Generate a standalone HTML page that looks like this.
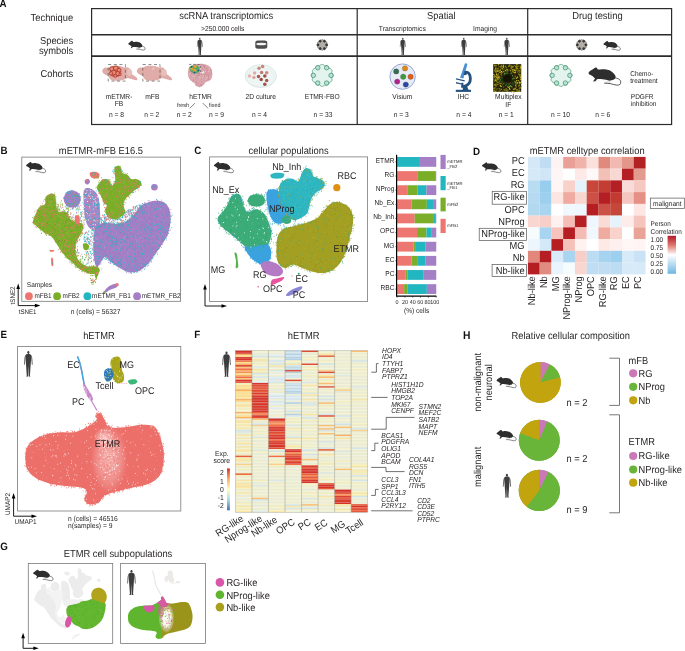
<!DOCTYPE html><html><head><meta charset="utf-8"><style>html,body{margin:0;padding:0;background:#fff;}svg{display:block;will-change:transform;text-rendering:geometricPrecision;font-family:"Liberation Sans", sans-serif;}</style></head><body><svg width="685" height="651" viewBox="0 0 685 651"><text transform="translate(-0.60,6.80) scale(1,1.08)" font-size="9.8" font-weight="bold" fill="#111">A</text>
<text transform="translate(73.20,20.80) scale(1,1.08)" font-size="9.35" text-anchor="end" fill="#231f20">Technique</text>
<text transform="translate(73.20,43.80) scale(1,1.08)" font-size="9.35" text-anchor="end" fill="#231f20">Species</text>
<text transform="translate(73.20,54.00) scale(1,1.08)" font-size="9.35" text-anchor="end" fill="#231f20">symbols</text>
<text transform="translate(73.20,76.80) scale(1,1.08)" font-size="9.35" text-anchor="end" fill="#231f20">Cohorts</text>
<g fill="none" stroke="#2b2b2b">
<rect x="91.6" y="8.6" width="580" height="115.9" stroke-width="1.2"/>
<line x1="91.6" y1="34.8" x2="671.6" y2="34.8" stroke-width="1.6"/>
<line x1="91.6" y1="56.1" x2="671.6" y2="56.1" stroke-width="1.6"/>
<line x1="357.2" y1="8.6" x2="357.2" y2="124.5" stroke-width="1.2"/>
<line x1="527.7" y1="8.6" x2="527.7" y2="124.5" stroke-width="1.2"/>
</g>
<text transform="translate(226.20,19.00) scale(1,1.08)" font-size="9.35" text-anchor="middle" fill="#231f20">scRNA transcriptomics</text>
<text transform="translate(222.70,31.00) scale(1,1.08)" font-size="6.7" text-anchor="middle" fill="#231f20">&gt;250.000 cells</text>
<text transform="translate(441.30,19.00) scale(1,1.08)" font-size="9.35" text-anchor="middle" fill="#231f20">Spatial</text>
<text transform="translate(402.30,31.00) scale(1,1.08)" font-size="6.7" text-anchor="middle" fill="#231f20">Transcriptomics</text>
<text transform="translate(485.00,31.00) scale(1,1.08)" font-size="6.7" text-anchor="middle" fill="#231f20">Imaging</text>
<text transform="translate(597.40,19.00) scale(1,1.08)" font-size="9.35" text-anchor="middle" fill="#231f20">Drug testing</text>
<g transform="translate(128.00,40.80) scale(0.8750,0.9625)"><path d="M16.34,5.65 C17.3,5.9 18.2,6.2 18.6,6.48 C19.2,6.9 19.6,7.3 19.54,7.81 C19.6,8.5 19.4,9.0 19.06,9.27 C18.5,9.6 17.8,9.7 17.03,9.62 C15.7,9.5 14.5,9.0 13.2,8.79 C12,8.6 10.8,8.6 9.71,8.58" fill="none" stroke="#2e2e2e" stroke-width="0.63"/><path d="M9.8,8.2 C10.8,8.0 12,7.9 13.6,7.95" fill="none" stroke="#aaa" stroke-width="0.57"/><path d="M0.3,2.93 C0.8,2.2 1.2,1.9 1.7,1.71 C2.6,1.2 3.4,0.6 3.96,0.31 C4.4,0.05 4.8,0.0 5.01,0.07 C5.4,0.3 5.6,0.7 5.7,1.01 C6.2,1.2 6.7,1.2 7.27,1.19 C8.2,1.0 9.1,1.0 10.06,1.01 C11.1,1.1 12,1.3 12.85,1.53 C13.7,1.9 14.4,2.4 14.94,2.93 C15.5,3.4 15.9,3.9 16.16,4.32 C16.4,4.7 16.55,5 16.51,5.3 C16.4,5.8 16.1,6.3 15.64,6.48 C15.1,6.8 14.6,6.9 14.07,7.04 L12.85,7.18 C11.5,7.0 10,6.6 8.67,6.48 C7.8,6.4 6.8,6.35 6.05,6.35 L5.36,6.48 L4.48,7.53 L3.09,7.67 L3.44,7.04 L4.21,6.07 C3.5,5.4 3,4.8 2.39,4.5 C1.8,4.2 1.2,4.0 0.82,3.8 C0.5,3.6 0.2,3.2 0.3,2.93Z" fill="#2e2e2e"/></g>
<g transform="translate(196.60,37.90) scale(1.0625)"><path d="M1.3,2.4 C0.7,3 0.5,4 0.4,5.5 L0.2,8.6 L0.8,8.6 L1.1,5.5Z M4.7,2.4 C5.3,3 5.5,4 5.6,5.5 L5.8,8.6 L5.2,8.6 L4.9,5.5Z" fill="#6e6e6e"/><ellipse cx="3" cy="0.85" rx="0.68" ry="0.9" fill="#3d3d3d"/><path d="M2.4,1.7 L3.6,1.7 C4.5,1.9 4.9,2.3 4.9,3.2 L4.6,6.8 L4.3,11 L4.0,15.3 L4.4,16 L3.2,16 L3.1,11.5 L3.0,9 L2.9,11.5 L2.8,16 L1.6,16 L2.0,15.3 L1.7,11 L1.4,6.8 L1.1,3.2 C1.1,2.3 1.5,1.9 2.4,1.7Z" fill="#3d3d3d"/></g>
<rect x="255.30" y="40.50" width="12.00" height="8.2" rx="2.70" ry="2.2" fill="#4d4d4d"/>
<ellipse cx="261.3" cy="44.00" rx="5.10" ry="1.35" fill="#f4f4f4"/>
<path d="M327.60,44.90 L327.57,45.18 L327.47,45.44 L327.32,45.69 L327.13,45.93 L326.91,46.13 L326.99,46.42 L327.04,46.72 L327.05,47.01 L327.00,47.29 L326.89,47.55 L326.72,47.77 L326.51,47.96 L326.25,48.10 L325.97,48.20 L325.67,48.27 L325.60,48.57 L325.50,48.85 L325.36,49.11 L325.17,49.32 L324.95,49.49 L324.69,49.60 L324.41,49.65 L324.12,49.64 L323.82,49.59 L323.53,49.51 L323.33,49.73 L323.09,49.92 L322.84,50.07 L322.58,50.17 L322.30,50.20 L322.02,50.17 L321.76,50.07 L321.51,49.92 L321.27,49.73 L321.07,49.51 L320.78,49.59 L320.48,49.64 L320.19,49.65 L319.91,49.60 L319.65,49.49 L319.43,49.32 L319.24,49.11 L319.10,48.85 L319.00,48.57 L318.93,48.27 L318.63,48.20 L318.35,48.10 L318.09,47.96 L317.88,47.77 L317.71,47.55 L317.60,47.29 L317.55,47.01 L317.56,46.72 L317.61,46.42 L317.69,46.13 L317.47,45.93 L317.28,45.69 L317.13,45.44 L317.03,45.18 L317.00,44.90 L317.03,44.62 L317.13,44.36 L317.28,44.11 L317.47,43.87 L317.69,43.67 L317.61,43.38 L317.56,43.08 L317.55,42.79 L317.60,42.51 L317.71,42.25 L317.88,42.03 L318.09,41.84 L318.35,41.70 L318.63,41.60 L318.93,41.53 L319.00,41.23 L319.10,40.95 L319.24,40.69 L319.43,40.48 L319.65,40.31 L319.91,40.20 L320.19,40.15 L320.48,40.16 L320.78,40.21 L321.07,40.29 L321.27,40.07 L321.51,39.88 L321.76,39.73 L322.02,39.63 L322.30,39.60 L322.58,39.63 L322.84,39.73 L323.09,39.88 L323.33,40.07 L323.53,40.29 L323.82,40.21 L324.12,40.16 L324.41,40.15 L324.69,40.20 L324.95,40.31 L325.17,40.48 L325.36,40.69 L325.50,40.95 L325.60,41.23 L325.67,41.53 L325.97,41.60 L326.25,41.70 L326.51,41.84 L326.72,42.03 L326.89,42.25 L327.00,42.51 L327.05,42.79 L327.04,43.08 L326.99,43.38 L326.91,43.67 L327.13,43.87 L327.32,44.11 L327.47,44.36 L327.57,44.62Z" fill="#b3aea6" stroke="#555" stroke-width="0.6"/>
<circle cx="326.54" cy="44.90" r="1.06" fill="#3a3a3a" stroke="#2a2a2a" stroke-width="0.54"/>
<circle cx="324.42" cy="48.57" r="1.06" fill="#3a3a3a" stroke="#2a2a2a" stroke-width="0.54"/>
<circle cx="320.18" cy="48.57" r="1.06" fill="#3a3a3a" stroke="#2a2a2a" stroke-width="0.54"/>
<circle cx="318.06" cy="44.90" r="1.06" fill="#3a3a3a" stroke="#2a2a2a" stroke-width="0.54"/>
<circle cx="320.18" cy="41.23" r="1.06" fill="#3a3a3a" stroke="#2a2a2a" stroke-width="0.54"/>
<circle cx="324.42" cy="41.23" r="1.06" fill="#3a3a3a" stroke="#2a2a2a" stroke-width="0.54"/>
<g transform="translate(399.60,37.90) scale(1.0625)"><path d="M1.3,2.4 C0.7,3 0.5,4 0.4,5.5 L0.2,8.6 L0.8,8.6 L1.1,5.5Z M4.7,2.4 C5.3,3 5.5,4 5.6,5.5 L5.8,8.6 L5.2,8.6 L4.9,5.5Z" fill="#6e6e6e"/><ellipse cx="3" cy="0.85" rx="0.68" ry="0.9" fill="#3d3d3d"/><path d="M2.4,1.7 L3.6,1.7 C4.5,1.9 4.9,2.3 4.9,3.2 L4.6,6.8 L4.3,11 L4.0,15.3 L4.4,16 L3.2,16 L3.1,11.5 L3.0,9 L2.9,11.5 L2.8,16 L1.6,16 L2.0,15.3 L1.7,11 L1.4,6.8 L1.1,3.2 C1.1,2.3 1.5,1.9 2.4,1.7Z" fill="#3d3d3d"/></g>
<g transform="translate(460.60,37.90) scale(1.0625)"><path d="M1.3,2.4 C0.7,3 0.5,4 0.4,5.5 L0.2,8.6 L0.8,8.6 L1.1,5.5Z M4.7,2.4 C5.3,3 5.5,4 5.6,5.5 L5.8,8.6 L5.2,8.6 L4.9,5.5Z" fill="#6e6e6e"/><ellipse cx="3" cy="0.85" rx="0.68" ry="0.9" fill="#3d3d3d"/><path d="M2.4,1.7 L3.6,1.7 C4.5,1.9 4.9,2.3 4.9,3.2 L4.6,6.8 L4.3,11 L4.0,15.3 L4.4,16 L3.2,16 L3.1,11.5 L3.0,9 L2.9,11.5 L2.8,16 L1.6,16 L2.0,15.3 L1.7,11 L1.4,6.8 L1.1,3.2 C1.1,2.3 1.5,1.9 2.4,1.7Z" fill="#3d3d3d"/></g>
<g transform="translate(503.60,37.90) scale(1.0625)"><path d="M1.3,2.4 C0.7,3 0.5,4 0.4,5.5 L0.2,8.6 L0.8,8.6 L1.1,5.5Z M4.7,2.4 C5.3,3 5.5,4 5.6,5.5 L5.8,8.6 L5.2,8.6 L4.9,5.5Z" fill="#6e6e6e"/><ellipse cx="3" cy="0.85" rx="0.68" ry="0.9" fill="#3d3d3d"/><path d="M2.4,1.7 L3.6,1.7 C4.5,1.9 4.9,2.3 4.9,3.2 L4.6,6.8 L4.3,11 L4.0,15.3 L4.4,16 L3.2,16 L3.1,11.5 L3.0,9 L2.9,11.5 L2.8,16 L1.6,16 L2.0,15.3 L1.7,11 L1.4,6.8 L1.1,3.2 C1.1,2.3 1.5,1.9 2.4,1.7Z" fill="#3d3d3d"/></g>
<path d="M586.90,44.90 L586.87,45.18 L586.77,45.44 L586.62,45.69 L586.43,45.93 L586.21,46.13 L586.29,46.42 L586.34,46.72 L586.35,47.01 L586.30,47.29 L586.19,47.55 L586.02,47.77 L585.81,47.96 L585.55,48.10 L585.27,48.20 L584.97,48.27 L584.90,48.57 L584.80,48.85 L584.66,49.11 L584.47,49.32 L584.25,49.49 L583.99,49.60 L583.71,49.65 L583.42,49.64 L583.12,49.59 L582.83,49.51 L582.63,49.73 L582.39,49.92 L582.14,50.07 L581.88,50.17 L581.60,50.20 L581.32,50.17 L581.06,50.07 L580.81,49.92 L580.57,49.73 L580.37,49.51 L580.08,49.59 L579.78,49.64 L579.49,49.65 L579.21,49.60 L578.95,49.49 L578.73,49.32 L578.54,49.11 L578.40,48.85 L578.30,48.57 L578.23,48.27 L577.93,48.20 L577.65,48.10 L577.39,47.96 L577.18,47.77 L577.01,47.55 L576.90,47.29 L576.85,47.01 L576.86,46.72 L576.91,46.42 L576.99,46.13 L576.77,45.93 L576.58,45.69 L576.43,45.44 L576.33,45.18 L576.30,44.90 L576.33,44.62 L576.43,44.36 L576.58,44.11 L576.77,43.87 L576.99,43.67 L576.91,43.38 L576.86,43.08 L576.85,42.79 L576.90,42.51 L577.01,42.25 L577.18,42.03 L577.39,41.84 L577.65,41.70 L577.93,41.60 L578.23,41.53 L578.30,41.23 L578.40,40.95 L578.54,40.69 L578.73,40.48 L578.95,40.31 L579.21,40.20 L579.49,40.15 L579.78,40.16 L580.08,40.21 L580.37,40.29 L580.57,40.07 L580.81,39.88 L581.06,39.73 L581.32,39.63 L581.60,39.60 L581.88,39.63 L582.14,39.73 L582.39,39.88 L582.63,40.07 L582.83,40.29 L583.12,40.21 L583.42,40.16 L583.71,40.15 L583.99,40.20 L584.25,40.31 L584.47,40.48 L584.66,40.69 L584.80,40.95 L584.90,41.23 L584.97,41.53 L585.27,41.60 L585.55,41.70 L585.81,41.84 L586.02,42.03 L586.19,42.25 L586.30,42.51 L586.35,42.79 L586.34,43.08 L586.29,43.38 L586.21,43.67 L586.43,43.87 L586.62,44.11 L586.77,44.36 L586.87,44.62Z" fill="#b3aea6" stroke="#555" stroke-width="0.6"/>
<circle cx="585.84" cy="44.90" r="1.06" fill="#3a3a3a" stroke="#2a2a2a" stroke-width="0.54"/>
<circle cx="583.72" cy="48.57" r="1.06" fill="#3a3a3a" stroke="#2a2a2a" stroke-width="0.54"/>
<circle cx="579.48" cy="48.57" r="1.06" fill="#3a3a3a" stroke="#2a2a2a" stroke-width="0.54"/>
<circle cx="577.36" cy="44.90" r="1.06" fill="#3a3a3a" stroke="#2a2a2a" stroke-width="0.54"/>
<circle cx="579.48" cy="41.23" r="1.06" fill="#3a3a3a" stroke="#2a2a2a" stroke-width="0.54"/>
<circle cx="583.72" cy="41.23" r="1.06" fill="#3a3a3a" stroke="#2a2a2a" stroke-width="0.54"/>
<g transform="translate(603.20,41.00) scale(0.8750,0.9625)"><path d="M16.34,5.65 C17.3,5.9 18.2,6.2 18.6,6.48 C19.2,6.9 19.6,7.3 19.54,7.81 C19.6,8.5 19.4,9.0 19.06,9.27 C18.5,9.6 17.8,9.7 17.03,9.62 C15.7,9.5 14.5,9.0 13.2,8.79 C12,8.6 10.8,8.6 9.71,8.58" fill="none" stroke="#2e2e2e" stroke-width="0.63"/><path d="M9.8,8.2 C10.8,8.0 12,7.9 13.6,7.95" fill="none" stroke="#aaa" stroke-width="0.57"/><path d="M0.3,2.93 C0.8,2.2 1.2,1.9 1.7,1.71 C2.6,1.2 3.4,0.6 3.96,0.31 C4.4,0.05 4.8,0.0 5.01,0.07 C5.4,0.3 5.6,0.7 5.7,1.01 C6.2,1.2 6.7,1.2 7.27,1.19 C8.2,1.0 9.1,1.0 10.06,1.01 C11.1,1.1 12,1.3 12.85,1.53 C13.7,1.9 14.4,2.4 14.94,2.93 C15.5,3.4 15.9,3.9 16.16,4.32 C16.4,4.7 16.55,5 16.51,5.3 C16.4,5.8 16.1,6.3 15.64,6.48 C15.1,6.8 14.6,6.9 14.07,7.04 L12.85,7.18 C11.5,7.0 10,6.6 8.67,6.48 C7.8,6.4 6.8,6.35 6.05,6.35 L5.36,6.48 L4.48,7.53 L3.09,7.67 L3.44,7.04 L4.21,6.07 C3.5,5.4 3,4.8 2.39,4.5 C1.8,4.2 1.2,4.0 0.82,3.8 C0.5,3.6 0.2,3.2 0.3,2.93Z" fill="#2e2e2e"/></g>
<path d="M102.30,71.00 C102.30,70.17 102.88,69.08 103.50,68.50 C104.12,67.92 105.17,67.62 106.00,67.50 C106.83,67.38 107.67,68.02 108.50,67.80 C109.33,67.58 109.92,66.53 111.00,66.20 C112.08,65.87 113.67,65.83 115.00,65.80 C116.33,65.77 117.75,65.83 119.00,66.00 C120.25,66.17 121.58,66.55 122.50,66.80 C123.42,67.05 124.00,67.43 124.50,67.50 C125.00,67.57 124.92,67.20 125.50,67.20 C126.08,67.20 127.25,67.20 128.00,67.50 C128.75,67.80 129.42,68.33 130.00,69.00 C130.58,69.67 131.17,70.67 131.50,71.50 C131.83,72.33 131.58,73.33 132.00,74.00 C132.42,74.67 133.25,74.92 134.00,75.50 C134.75,76.08 135.92,76.83 136.50,77.50 C137.08,78.17 137.58,79.05 137.50,79.50 C137.42,79.95 136.75,80.20 136.00,80.20 C135.25,80.20 134.08,79.78 133.00,79.50 C131.92,79.22 130.67,78.67 129.50,78.50 C128.33,78.33 127.08,78.25 126.00,78.50 C124.92,78.75 124.33,79.62 123.00,80.00 C121.67,80.38 119.67,80.72 118.00,80.80 C116.33,80.88 114.33,80.80 113.00,80.50 C111.67,80.20 110.83,79.75 110.00,79.00 C109.17,78.25 108.67,76.67 108.00,76.00 C107.33,75.33 106.75,75.42 106.00,75.00 C105.25,74.58 104.12,74.17 103.50,73.50 C102.88,72.83 102.30,71.83 102.30,71.00Z" fill="#e0aca8"/>
<ellipse cx="129.5" cy="72.5" rx="2.6" ry="3.6" fill="#e8bfbb"/>
<path d="M109.80,68.50 C110.13,67.13 111.13,66.90 112.20,66.50 C113.27,66.10 114.93,65.93 116.20,66.10 C117.47,66.27 118.97,66.68 119.80,67.50 C120.63,68.32 121.07,69.75 121.20,71.00 C121.33,72.25 121.27,73.98 120.60,75.00 C119.93,76.02 118.43,76.78 117.20,77.10 C115.97,77.42 114.37,77.30 113.20,76.90 C112.03,76.50 110.77,76.10 110.20,74.70 C109.63,73.30 109.47,69.87 109.80,68.50Z" fill="#cf6656"/>
<circle cx="111.8" cy="68.9" r="2.1" fill="#ea8a77" stroke="#a8352a" stroke-width="0.75"/>
<circle cx="115.8" cy="68.1" r="2.2" fill="#ea8a77" stroke="#a8352a" stroke-width="0.75"/>
<circle cx="119.1" cy="70.2" r="1.9" fill="#ea8a77" stroke="#a8352a" stroke-width="0.75"/>
<circle cx="113.8" cy="72.6" r="2.3" fill="#ea8a77" stroke="#a8352a" stroke-width="0.75"/>
<circle cx="117.8" cy="73.6" r="2.1" fill="#ea8a77" stroke="#a8352a" stroke-width="0.75"/>
<circle cx="111.10000000000001" cy="73.4" r="1.7" fill="#ea8a77" stroke="#a8352a" stroke-width="0.75"/>
<circle cx="115.3" cy="75.8" r="1.5" fill="#ea8a77" stroke="#a8352a" stroke-width="0.75"/>
<circle cx="120.0" cy="74.3" r="1.3" fill="#ea8a77" stroke="#a8352a" stroke-width="0.75"/>
<rect x="108.2" y="64.5" width="17.2" height="16.6" fill="none" stroke="#444" stroke-width="0.6" stroke-dasharray="3,2.6"/>
<path d="M136.90,71.00 C136.90,70.17 137.48,69.08 138.10,68.50 C138.72,67.92 139.77,67.62 140.60,67.50 C141.43,67.38 142.27,68.02 143.10,67.80 C143.93,67.58 144.52,66.53 145.60,66.20 C146.68,65.87 148.27,65.83 149.60,65.80 C150.93,65.77 152.35,65.83 153.60,66.00 C154.85,66.17 156.18,66.55 157.10,66.80 C158.02,67.05 158.60,67.43 159.10,67.50 C159.60,67.57 159.52,67.20 160.10,67.20 C160.68,67.20 161.85,67.20 162.60,67.50 C163.35,67.80 164.02,68.33 164.60,69.00 C165.18,69.67 165.77,70.67 166.10,71.50 C166.43,72.33 166.18,73.33 166.60,74.00 C167.02,74.67 167.85,74.92 168.60,75.50 C169.35,76.08 170.52,76.83 171.10,77.50 C171.68,78.17 172.18,79.05 172.10,79.50 C172.02,79.95 171.35,80.20 170.60,80.20 C169.85,80.20 168.68,79.78 167.60,79.50 C166.52,79.22 165.27,78.67 164.10,78.50 C162.93,78.33 161.68,78.25 160.60,78.50 C159.52,78.75 158.93,79.62 157.60,80.00 C156.27,80.38 154.27,80.72 152.60,80.80 C150.93,80.88 148.93,80.80 147.60,80.50 C146.27,80.20 145.43,79.75 144.60,79.00 C143.77,78.25 143.27,76.67 142.60,76.00 C141.93,75.33 141.35,75.42 140.60,75.00 C139.85,74.58 138.72,74.17 138.10,73.50 C137.48,72.83 136.90,71.83 136.90,71.00Z" fill="#e0aca8"/>
<ellipse cx="164.10000000000002" cy="72.5" rx="2.6" ry="3.6" fill="#e8bfbb"/>
<path d="M151.8,69.5 l2.5,-1.2" stroke="#f6e2e0" stroke-width="0.8"/>
<rect x="142.8" y="64.5" width="17.2" height="16.6" fill="none" stroke="#444" stroke-width="0.6" stroke-dasharray="3,2.6"/>
<path d="M200.00,64.00 C201.83,63.97 203.50,63.97 205.00,64.30 C206.50,64.63 207.92,65.13 209.00,66.00 C210.08,66.87 210.95,68.17 211.50,69.50 C212.05,70.83 212.30,72.50 212.30,74.00 C212.30,75.50 212.05,77.33 211.50,78.50 C210.95,79.67 209.92,80.45 209.00,81.00 C208.08,81.55 206.83,81.22 206.00,81.80 C205.17,82.38 205.00,83.63 204.00,84.50 C203.00,85.37 201.25,86.75 200.00,87.00 C198.75,87.25 197.33,86.50 196.50,86.00 C195.67,85.50 195.67,84.73 195.00,84.00 C194.33,83.27 193.42,82.43 192.50,81.60 C191.58,80.77 190.25,80.10 189.50,79.00 C188.75,77.90 188.22,76.50 188.00,75.00 C187.78,73.50 187.87,71.42 188.20,70.00 C188.53,68.58 189.03,67.42 190.00,66.50 C190.97,65.58 192.33,64.92 194.00,64.50 C195.67,64.08 198.17,64.03 200.00,64.00Z" fill="#d9a3aa"/>
<path d="M199.3 72.6h0M211.3 73.7h0M210.5 68.7h0M206.7 68.5h0M196.1 84.5h0M202.0 76.4h0M189.3 76.8h0M191.0 80.2h0M207.8 75.4h0M201.9 65.5h0M207.8 70.0h0M211.7 72.2h0M189.6 69.2h0M204.6 64.7h0M198.0 65.6h0M199.4 74.3h0M204.4 74.4h0M206.2 74.8h0M197.1 78.6h0M190.3 71.3h0M195.8 64.6h0M205.4 79.2h0M203.9 73.1h0M201.9 82.4h0M199.7 86.9h0M204.4 66.2h0M196.3 81.2h0M210.1 69.0h0M209.7 74.1h0M209.8 70.0h0M208.9 77.4h0M204.1 71.8h0M192.2 67.3h0M191.4 73.6h0M195.6 83.6h0M208.1 79.6h0M198.0 85.9h0M190.9 77.3h0M189.8 75.0h0M193.5 80.3h0M191.3 71.7h0M201.8 85.8h0M207.5 70.1h0M209.1 79.7h0M201.3 74.0h0" stroke="#c98f98" stroke-width="0.9" stroke-linecap="round"/>
<path d="M192.6 79.6h0M192.0 75.6h0M209.3 66.5h0M194.6 82.7h0M200.5 86.0h0M191.4 70.7h0M202.4 82.5h0M190.0 76.6h0M209.5 77.2h0M208.4 66.4h0M204.7 64.4h0M189.4 69.8h0M198.2 71.4h0M198.5 65.8h0M204.4 72.9h0M198.3 69.2h0M195.7 66.1h0M200.5 72.2h0M196.1 81.2h0M206.2 65.2h0M192.6 76.2h0M199.4 80.0h0M200.6 75.5h0M194.2 78.1h0M192.4 78.6h0M197.1 78.7h0M190.2 68.8h0M208.6 80.3h0M196.9 79.2h0M195.7 74.5h0M206.3 66.4h0M198.1 72.4h0M198.8 66.3h0M195.0 80.8h0M208.1 65.9h0M202.2 64.3h0M198.7 77.4h0M192.3 80.0h0M195.5 69.4h0M191.9 78.5h0M197.7 84.8h0M203.3 69.9h0M200.8 83.5h0M195.3 83.7h0" stroke="#e6bcc0" stroke-width="0.9" stroke-linecap="round"/>
<path d="M200.3 84.7h0M196.2 85.5h0M193.8 66.6h0M207.0 72.8h0M205.8 73.7h0M197.7 71.9h0M197.3 75.3h0M193.8 80.9h0M201.2 64.4h0M198.3 73.2h0M205.2 67.3h0M206.3 80.9h0M208.7 76.0h0M199.1 73.2h0M197.3 78.0h0M203.4 66.4h0M193.1 72.9h0M199.8 70.4h0M206.3 70.8h0M200.1 66.3h0M194.8 67.0h0M201.1 85.6h0M201.3 76.0h0M199.1 75.3h0M196.2 82.0h0M192.7 69.1h0M203.8 65.9h0M202.8 69.1h0M204.7 67.0h0M200.3 74.7h0M195.0 76.3h0M202.0 64.2h0M208.6 77.1h0M201.6 85.1h0M196.1 73.1h0M208.5 79.3h0M209.1 68.6h0M194.2 70.8h0M201.7 67.7h0M196.6 81.8h0M198.1 75.4h0M206.7 67.9h0M210.8 70.5h0M211.5 69.9h0M202.9 82.6h0M208.0 74.4h0M204.8 66.7h0M198.9 67.9h0M199.4 73.3h0M205.8 68.2h0M196.8 85.4h0M204.6 76.5h0M197.9 83.4h0M193.8 67.5h0M204.7 68.2h0M189.8 67.4h0M201.0 64.2h0M201.9 78.8h0M192.9 79.6h0M192.7 81.5h0M204.5 75.8h0" stroke="#c4838e" stroke-width="0.9" stroke-linecap="round"/>
<path d="M205.8 67.9h0M198.6 68.9h0M189.6 74.4h0M209.0 68.7h0M199.2 76.9h0M202.2 77.5h0M209.5 69.3h0M202.6 78.1h0M203.3 76.6h0M199.3 78.0h0M198.8 68.3h0M192.0 66.2h0M194.8 76.0h0M194.7 67.3h0M200.2 65.4h0M197.9 81.9h0M203.6 82.3h0M197.3 86.1h0M206.1 78.9h0M190.3 73.4h0M202.0 75.7h0M205.7 75.9h0M198.7 86.5h0M205.6 71.4h0M188.5 74.0h0M194.3 68.5h0M200.8 71.1h0M209.8 68.6h0M212.0 75.6h0M189.4 76.2h0M208.7 71.6h0M205.0 71.3h0M209.2 70.6h0M200.1 76.4h0M202.8 72.8h0M200.2 77.8h0M203.4 73.3h0M205.5 79.9h0M203.8 67.5h0" stroke="#eac6c9" stroke-width="0.9" stroke-linecap="round"/>
<path d="M200.3,65 L200.3,73.5" stroke="#f3e6e8" stroke-width="0.7"/>
<path d="M201,73 L204,71 L203.5,73.2Z" fill="#fff"/>
<path d="M193.5,77 l0.6,-0.6 M206.5,77 l0.6,0.6" stroke="#fff" stroke-width="0.7"/>
<path d="M189.80,67.00 C190.25,66.10 191.80,65.83 193.00,65.60 C194.20,65.37 195.97,65.28 197.00,65.60 C198.03,65.92 198.80,66.60 199.20,67.50 C199.60,68.40 199.77,70.05 199.40,71.00 C199.03,71.95 197.98,72.83 197.00,73.20 C196.02,73.57 194.62,73.57 193.50,73.20 C192.38,72.83 190.92,72.03 190.30,71.00 C189.68,69.97 189.35,67.90 189.80,67.00Z" fill="#5aa860"/>
<circle cx="195.1" cy="66.7" r="1.4" fill="#f0a030"/>
<circle cx="191.9" cy="68.8" r="1.4" fill="#f0a030"/>
<circle cx="194.7" cy="70.4" r="1.6" fill="#f0a030"/>
<circle cx="191.5" cy="66.9" r="0.9" fill="#1f5a9a"/>
<circle cx="198.4" cy="70.4" r="0.9" fill="#1f5a9a"/>
<circle cx="194.4" cy="72.4" r="1.0" fill="#1f5a9a"/>
<path d="M189.1,64.4 L200.4,64.4 L200.4,73.4" fill="none" stroke="#333" stroke-width="0.6" stroke-dasharray="2.2,2"/>
<ellipse cx="260.8" cy="76.1" rx="15.7" ry="11.5" fill="#eef6f5" stroke="#d0dedb" stroke-width="0.6"/>
<ellipse cx="260.5" cy="77.4" rx="14" ry="9.6" fill="none" stroke="#dce7e4" stroke-width="0.5"/>
<circle cx="259" cy="68.2" r="1.75" fill="#c98a80"/>
<circle cx="262.6" cy="66.5" r="1.75" fill="#c4867c"/>
<circle cx="254.6" cy="73.1" r="1.75" fill="#e2aaa2"/>
<circle cx="261.6" cy="72.6" r="1.75" fill="#c07a70"/>
<circle cx="266.7" cy="72.8" r="1.75" fill="#cd8a80"/>
<circle cx="249.5" cy="76" r="1.75" fill="#e6b4ad"/>
<circle cx="253.9" cy="77.4" r="1.75" fill="#e0a59d"/>
<circle cx="258.5" cy="76.4" r="1.75" fill="#a85a50"/>
<circle cx="264.8" cy="76" r="1.75" fill="#a04e46"/>
<circle cx="261.2" cy="79.6" r="1.75" fill="#9c4a44"/>
<circle cx="266.7" cy="80.4" r="1.75" fill="#a9564e"/>
<circle cx="264.8" cy="84.3" r="1.75" fill="#a55048"/>
<path d="M333.20,75.40 L333.13,75.97 L332.93,76.53 L332.62,77.05 L332.22,77.53 L331.76,77.96 L331.94,78.56 L332.05,79.18 L332.06,79.79 L331.95,80.37 L331.73,80.90 L331.38,81.36 L330.93,81.74 L330.40,82.04 L329.81,82.25 L329.20,82.40 L329.05,83.01 L328.84,83.60 L328.54,84.13 L328.16,84.58 L327.70,84.93 L327.17,85.15 L326.59,85.26 L325.98,85.25 L325.36,85.14 L324.76,84.96 L324.33,85.42 L323.85,85.82 L323.33,86.13 L322.77,86.33 L322.20,86.40 L321.63,86.33 L321.07,86.13 L320.55,85.82 L320.07,85.42 L319.64,84.96 L319.04,85.14 L318.42,85.25 L317.81,85.26 L317.23,85.15 L316.70,84.93 L316.24,84.58 L315.86,84.13 L315.56,83.60 L315.35,83.01 L315.20,82.40 L314.59,82.25 L314.00,82.04 L313.47,81.74 L313.02,81.36 L312.67,80.90 L312.45,80.37 L312.34,79.79 L312.35,79.18 L312.46,78.56 L312.64,77.96 L312.18,77.53 L311.78,77.05 L311.47,76.53 L311.27,75.97 L311.20,75.40 L311.27,74.83 L311.47,74.27 L311.78,73.75 L312.18,73.27 L312.64,72.84 L312.46,72.24 L312.35,71.62 L312.34,71.01 L312.45,70.43 L312.67,69.90 L313.02,69.44 L313.47,69.06 L314.00,68.76 L314.59,68.55 L315.20,68.40 L315.35,67.79 L315.56,67.20 L315.86,66.67 L316.24,66.22 L316.70,65.87 L317.23,65.65 L317.81,65.54 L318.42,65.55 L319.04,65.66 L319.64,65.84 L320.07,65.38 L320.55,64.98 L321.07,64.67 L321.63,64.47 L322.20,64.40 L322.77,64.47 L323.33,64.67 L323.85,64.98 L324.33,65.38 L324.76,65.84 L325.36,65.66 L325.98,65.55 L326.59,65.54 L327.17,65.65 L327.70,65.87 L328.16,66.22 L328.54,66.67 L328.84,67.20 L329.05,67.79 L329.20,68.40 L329.81,68.55 L330.40,68.76 L330.93,69.06 L331.38,69.44 L331.73,69.90 L331.95,70.43 L332.06,71.01 L332.05,71.62 L331.94,72.24 L331.76,72.84 L332.22,73.27 L332.62,73.75 L332.93,74.27 L333.13,74.83Z" fill="#e2f4ed" stroke="#4f9f7c" stroke-width="0.75"/>
<circle cx="331.00" cy="75.40" r="2.20" fill="#b6e3d5" stroke="#3f8a68" stroke-width="0.68"/>
<circle cx="326.60" cy="83.02" r="2.20" fill="#b6e3d5" stroke="#3f8a68" stroke-width="0.68"/>
<circle cx="317.80" cy="83.02" r="2.20" fill="#b6e3d5" stroke="#3f8a68" stroke-width="0.68"/>
<circle cx="313.40" cy="75.40" r="2.20" fill="#b6e3d5" stroke="#3f8a68" stroke-width="0.68"/>
<circle cx="317.80" cy="67.78" r="2.20" fill="#b6e3d5" stroke="#3f8a68" stroke-width="0.68"/>
<circle cx="326.60" cy="67.78" r="2.20" fill="#b6e3d5" stroke="#3f8a68" stroke-width="0.68"/>
<circle cx="402.6" cy="76.6" r="12.7" fill="#e6ebf6" stroke="#6f86c6" stroke-width="0.7"/>
<circle cx="396.2" cy="71.4" r="2.7" fill="#2f6d4f" stroke="#555" stroke-width="0.3"/>
<circle cx="405" cy="68.4" r="2.7" fill="#e08a16" stroke="#555" stroke-width="0.3"/>
<circle cx="403.2" cy="76.8" r="2.7" fill="#3b9a3b" stroke="#555" stroke-width="0.3"/>
<circle cx="410.6" cy="76.8" r="2.7" fill="#e0601a" stroke="#555" stroke-width="0.3"/>
<circle cx="397.2" cy="81.6" r="2.7" fill="#b5208f" stroke="#555" stroke-width="0.3"/>
<circle cx="405.8" cy="84.6" r="2.7" fill="#2a45a8" stroke="#555" stroke-width="0.3"/>
<path d="M465.0,63.2 L467.5,63.7 L463.4,78.5 L460.0,77.8Z" fill="#4a8fd6"/>
<path d="M464.6,72.4 C468.6,71.4 470.4,74.6 470.4,78.6 C470.4,82.6 468.4,85 465.2,86.2" fill="none" stroke="#23527f" stroke-width="2.8"/>
<circle cx="465.3" cy="73.6" r="1.7" fill="#23527f"/>
<path d="M456,78.3 L464.8,80.2 L464.6,81.4 L456,79.6Z M456,82.1 L461.8,83.5 L461.6,84.6 L456,83.4Z" fill="#23527f"/>
<rect x="461.2" y="82.8" width="2.2" height="5" fill="#23527f"/>
<path d="M463.2,85 L466.4,84.6 L468.6,90.2 L462.6,90.2Z" fill="#23527f"/>
<rect x="455.8" y="89.8" width="15.2" height="2.1" fill="#23527f"/>
<rect x="493.2" y="64.1" width="28" height="27.7" fill="#26250a"/>
<path d="M502.1 68.2h1.1v1.1h-1.1zM494.2 75.9h1.1v1.1h-1.1zM494.9 80.1h1.1v1.1h-1.1zM501.2 68.0h1.1v1.1h-1.1zM513.3 72.0h1.1v1.1h-1.1zM497.4 77.4h1.1v1.1h-1.1zM497.4 82.1h1.1v1.1h-1.1zM519.4 82.0h1.1v1.1h-1.1zM497.7 73.4h1.1v1.1h-1.1zM496.0 74.0h1.1v1.1h-1.1zM514.1 72.2h1.1v1.1h-1.1zM498.7 77.6h1.1v1.1h-1.1zM515.3 66.4h1.1v1.1h-1.1zM497.5 79.1h1.1v1.1h-1.1zM493.6 90.6h1.1v1.1h-1.1zM508.2 86.9h1.1v1.1h-1.1zM498.0 77.0h1.1v1.1h-1.1zM514.6 88.2h1.1v1.1h-1.1zM500.1 71.7h1.1v1.1h-1.1zM516.4 67.8h1.1v1.1h-1.1zM504.9 66.1h1.1v1.1h-1.1zM510.7 86.0h1.1v1.1h-1.1zM500.0 85.3h1.1v1.1h-1.1zM508.9 86.3h1.1v1.1h-1.1zM508.9 64.4h1.1v1.1h-1.1zM506.6 90.6h1.1v1.1h-1.1zM515.8 78.0h1.1v1.1h-1.1zM518.7 84.7h1.1v1.1h-1.1zM515.5 69.6h1.1v1.1h-1.1zM519.5 87.3h1.1v1.1h-1.1zM519.9 77.5h1.1v1.1h-1.1zM495.5 85.3h1.1v1.1h-1.1zM514.8 70.4h1.1v1.1h-1.1zM518.7 70.3h1.1v1.1h-1.1zM495.4 75.6h1.1v1.1h-1.1zM494.3 65.1h1.1v1.1h-1.1zM518.5 81.4h1.1v1.1h-1.1zM496.9 77.7h1.1v1.1h-1.1zM500.0 65.9h1.1v1.1h-1.1zM497.6 75.7h1.1v1.1h-1.1zM520.5 71.3h1.1v1.1h-1.1zM516.6 82.2h1.1v1.1h-1.1zM511.2 91.2h1.1v1.1h-1.1zM516.4 89.1h1.1v1.1h-1.1zM517.4 70.5h1.1v1.1h-1.1zM514.6 82.2h1.1v1.1h-1.1zM508.3 65.8h1.1v1.1h-1.1z" fill="#c9b21a"/>
<path d="M495.2 78.7h1.1v1.1h-1.1zM496.5 75.5h1.1v1.1h-1.1zM509.0 88.0h1.1v1.1h-1.1zM512.4 65.9h1.1v1.1h-1.1zM497.3 71.0h1.1v1.1h-1.1zM496.0 73.5h1.1v1.1h-1.1zM512.4 71.2h1.1v1.1h-1.1zM500.4 83.0h1.1v1.1h-1.1zM505.5 89.7h1.1v1.1h-1.1zM496.0 76.9h1.1v1.1h-1.1zM516.4 77.2h1.1v1.1h-1.1zM506.4 69.0h1.1v1.1h-1.1zM520.3 82.0h1.1v1.1h-1.1zM519.2 83.2h1.1v1.1h-1.1zM505.0 69.9h1.1v1.1h-1.1zM519.1 81.7h1.1v1.1h-1.1zM503.0 66.6h1.1v1.1h-1.1zM520.0 67.0h1.1v1.1h-1.1zM516.6 82.6h1.1v1.1h-1.1zM510.0 70.2h1.1v1.1h-1.1zM517.0 76.5h1.1v1.1h-1.1zM520.6 75.5h1.1v1.1h-1.1zM519.1 90.6h1.1v1.1h-1.1zM494.6 69.6h1.1v1.1h-1.1zM500.7 86.0h1.1v1.1h-1.1zM517.7 90.6h1.1v1.1h-1.1zM512.2 90.9h1.1v1.1h-1.1zM516.3 64.5h1.1v1.1h-1.1zM517.2 82.4h1.1v1.1h-1.1zM493.3 74.0h1.1v1.1h-1.1zM495.5 65.2h1.1v1.1h-1.1zM500.2 66.1h1.1v1.1h-1.1zM516.5 66.2h1.1v1.1h-1.1zM495.3 68.1h1.1v1.1h-1.1zM519.9 76.4h1.1v1.1h-1.1zM516.4 64.1h1.1v1.1h-1.1zM512.9 88.7h1.1v1.1h-1.1zM520.8 80.2h1.1v1.1h-1.1zM500.9 65.5h1.1v1.1h-1.1zM510.7 68.2h1.1v1.1h-1.1zM496.7 77.0h1.1v1.1h-1.1zM501.0 71.1h1.1v1.1h-1.1zM495.7 70.6h1.1v1.1h-1.1zM513.8 69.8h1.1v1.1h-1.1zM502.5 65.8h1.1v1.1h-1.1zM494.0 75.3h1.1v1.1h-1.1zM512.0 69.5h1.1v1.1h-1.1zM499.6 70.1h1.1v1.1h-1.1zM497.9 64.2h1.1v1.1h-1.1zM513.8 88.6h1.1v1.1h-1.1zM494.4 84.5h1.1v1.1h-1.1zM514.7 72.1h1.1v1.1h-1.1zM498.3 70.5h1.1v1.1h-1.1zM517.6 79.9h1.1v1.1h-1.1zM517.1 76.4h1.1v1.1h-1.1zM502.9 65.1h1.1v1.1h-1.1zM497.1 69.7h1.1v1.1h-1.1zM511.9 69.2h1.1v1.1h-1.1z" fill="#d8c430"/>
<path d="M509.3 88.9h1.1v1.1h-1.1zM516.0 67.5h1.1v1.1h-1.1zM520.1 65.4h1.1v1.1h-1.1zM503.2 70.9h1.1v1.1h-1.1zM493.8 76.7h1.1v1.1h-1.1zM499.2 71.9h1.1v1.1h-1.1zM519.6 68.2h1.1v1.1h-1.1zM518.3 73.8h1.1v1.1h-1.1zM515.0 84.8h1.1v1.1h-1.1zM515.4 86.4h1.1v1.1h-1.1zM519.6 74.1h1.1v1.1h-1.1zM518.3 85.5h1.1v1.1h-1.1zM513.2 68.7h1.1v1.1h-1.1zM520.4 69.4h1.1v1.1h-1.1zM493.7 76.1h1.1v1.1h-1.1zM518.7 88.5h1.1v1.1h-1.1zM514.8 88.6h1.1v1.1h-1.1zM517.6 68.5h1.1v1.1h-1.1zM495.0 91.0h1.1v1.1h-1.1zM500.7 88.8h1.1v1.1h-1.1zM502.2 71.7h1.1v1.1h-1.1zM510.4 65.3h1.1v1.1h-1.1zM498.9 76.3h1.1v1.1h-1.1zM498.7 88.2h1.1v1.1h-1.1zM520.0 79.0h1.1v1.1h-1.1zM494.2 88.2h1.1v1.1h-1.1zM495.5 71.7h1.1v1.1h-1.1zM497.3 83.9h1.1v1.1h-1.1zM516.0 80.0h1.1v1.1h-1.1zM499.7 84.8h1.1v1.1h-1.1zM503.9 89.1h1.1v1.1h-1.1zM516.4 67.4h1.1v1.1h-1.1zM497.8 68.5h1.1v1.1h-1.1zM516.8 90.6h1.1v1.1h-1.1zM514.8 70.2h1.1v1.1h-1.1zM500.9 72.7h1.1v1.1h-1.1zM506.9 69.6h1.1v1.1h-1.1zM497.2 74.8h1.1v1.1h-1.1zM513.4 91.3h1.1v1.1h-1.1zM495.6 83.4h1.1v1.1h-1.1zM503.5 89.2h1.1v1.1h-1.1zM515.4 65.8h1.1v1.1h-1.1zM515.4 84.3h1.1v1.1h-1.1zM495.4 69.5h1.1v1.1h-1.1zM513.6 69.5h1.1v1.1h-1.1zM495.0 71.0h1.1v1.1h-1.1zM493.3 88.2h1.1v1.1h-1.1zM494.3 84.1h1.1v1.1h-1.1zM515.2 82.2h1.1v1.1h-1.1zM510.8 66.6h1.1v1.1h-1.1z" fill="#b8a214"/>
<path d="M499.8 79.1h1.1v1.1h-1.1zM504.0 75.0h1.1v1.1h-1.1zM503.2 82.9h1.1v1.1h-1.1zM506.0 84.4h1.1v1.1h-1.1zM504.4 73.6h1.1v1.1h-1.1zM509.7 83.0h1.1v1.1h-1.1zM501.5 81.3h1.1v1.1h-1.1zM500.5 76.6h1.1v1.1h-1.1zM504.7 74.4h1.1v1.1h-1.1zM514.9 75.8h1.1v1.1h-1.1zM508.4 83.7h1.1v1.1h-1.1zM505.3 85.0h1.1v1.1h-1.1zM507.2 70.4h1.1v1.1h-1.1z" fill="#3e8a3a"/>
<path d="M512.0 66.9h1.1v1.1h-1.1zM512.5 70.8h1.1v1.1h-1.1zM519.8 66.2h1.1v1.1h-1.1zM495.4 76.4h1.1v1.1h-1.1zM502.0 67.5h1.1v1.1h-1.1zM505.8 87.9h1.1v1.1h-1.1zM496.0 79.6h1.1v1.1h-1.1zM493.8 90.1h1.1v1.1h-1.1zM498.8 81.1h1.1v1.1h-1.1zM515.5 68.1h1.1v1.1h-1.1zM494.0 69.9h1.1v1.1h-1.1zM511.5 86.4h1.1v1.1h-1.1zM504.8 89.2h1.1v1.1h-1.1zM496.8 68.2h1.1v1.1h-1.1zM502.2 90.7h1.1v1.1h-1.1zM507.2 86.1h1.1v1.1h-1.1zM497.7 75.9h1.1v1.1h-1.1zM494.2 64.6h1.1v1.1h-1.1zM494.4 86.9h1.1v1.1h-1.1zM497.0 78.4h1.1v1.1h-1.1zM506.1 67.3h1.1v1.1h-1.1zM493.7 76.6h1.1v1.1h-1.1zM495.3 66.6h1.1v1.1h-1.1zM500.4 73.9h1.1v1.1h-1.1zM515.6 81.3h1.1v1.1h-1.1zM519.0 75.3h1.1v1.1h-1.1zM506.6 89.0h1.1v1.1h-1.1zM507.0 86.3h1.1v1.1h-1.1zM499.9 68.9h1.1v1.1h-1.1zM504.0 89.4h1.1v1.1h-1.1zM495.1 78.4h1.1v1.1h-1.1zM498.5 71.2h1.1v1.1h-1.1zM496.2 81.1h1.1v1.1h-1.1zM518.3 65.6h1.1v1.1h-1.1zM502.3 69.2h1.1v1.1h-1.1zM518.7 72.2h1.1v1.1h-1.1zM498.4 90.7h1.1v1.1h-1.1zM498.6 66.2h1.1v1.1h-1.1zM496.1 80.4h1.1v1.1h-1.1z" fill="#8a8410"/>
<path d="M510.8 74.3h1.1v1.1h-1.1zM512.9 79.5h1.1v1.1h-1.1zM506.4 83.0h1.1v1.1h-1.1zM508.6 73.0h1.1v1.1h-1.1zM512.6 74.6h1.1v1.1h-1.1zM513.9 82.1h1.1v1.1h-1.1zM510.5 84.1h1.1v1.1h-1.1zM513.9 77.8h1.1v1.1h-1.1zM511.2 83.0h1.1v1.1h-1.1zM503.2 73.2h1.1v1.1h-1.1zM505.9 85.5h1.1v1.1h-1.1zM510.3 82.5h1.1v1.1h-1.1z" fill="#26250a"/>
<path d="M498.9 82.7h1.1v1.1h-1.1zM516.4 89.9h1.1v1.1h-1.1zM511.1 91.2h1.1v1.1h-1.1zM504.2 89.1h1.1v1.1h-1.1zM500.9 67.8h1.1v1.1h-1.1zM517.0 71.7h1.1v1.1h-1.1zM520.4 82.7h1.1v1.1h-1.1zM500.5 64.2h1.1v1.1h-1.1zM498.5 91.0h1.1v1.1h-1.1zM495.1 69.8h1.1v1.1h-1.1zM496.4 77.4h1.1v1.1h-1.1zM520.5 85.7h1.1v1.1h-1.1zM495.6 89.9h1.1v1.1h-1.1zM494.0 80.2h1.1v1.1h-1.1zM507.7 89.6h1.1v1.1h-1.1zM518.3 73.8h1.1v1.1h-1.1zM514.2 89.0h1.1v1.1h-1.1zM497.1 88.2h1.1v1.1h-1.1zM499.3 90.1h1.1v1.1h-1.1zM493.7 79.2h1.1v1.1h-1.1zM500.7 67.6h1.1v1.1h-1.1zM508.4 69.3h1.1v1.1h-1.1zM505.1 65.6h1.1v1.1h-1.1zM505.9 68.4h1.1v1.1h-1.1zM503.0 64.1h1.1v1.1h-1.1zM500.5 66.6h1.1v1.1h-1.1zM519.7 74.4h1.1v1.1h-1.1zM495.7 78.5h1.1v1.1h-1.1zM513.6 90.7h1.1v1.1h-1.1zM512.8 71.9h1.1v1.1h-1.1zM498.7 90.8h1.1v1.1h-1.1zM512.6 70.4h1.1v1.1h-1.1zM504.1 68.4h1.1v1.1h-1.1zM500.2 65.9h1.1v1.1h-1.1zM504.4 70.6h1.1v1.1h-1.1zM499.3 88.8h1.1v1.1h-1.1zM495.8 88.6h1.1v1.1h-1.1zM496.7 75.7h1.1v1.1h-1.1zM493.2 78.8h1.1v1.1h-1.1zM494.7 69.4h1.1v1.1h-1.1zM495.4 70.3h1.1v1.1h-1.1zM498.4 70.2h1.1v1.1h-1.1zM493.9 80.4h1.1v1.1h-1.1zM494.6 65.7h1.1v1.1h-1.1zM513.8 65.0h1.1v1.1h-1.1zM516.4 91.0h1.1v1.1h-1.1zM503.0 86.5h1.1v1.1h-1.1zM502.1 84.2h1.1v1.1h-1.1zM494.0 75.3h1.1v1.1h-1.1zM493.9 70.5h1.1v1.1h-1.1zM515.0 89.0h1.1v1.1h-1.1zM499.0 75.6h1.1v1.1h-1.1zM498.0 67.7h1.1v1.1h-1.1zM515.7 86.5h1.1v1.1h-1.1zM495.4 65.0h1.1v1.1h-1.1z" fill="#6f6a10"/>
<path d="M514.7 76.8h1.1v1.1h-1.1zM502.6 73.7h1.1v1.1h-1.1zM507.3 83.0h1.1v1.1h-1.1zM500.0 76.3h1.1v1.1h-1.1zM504.0 73.0h1.1v1.1h-1.1zM510.5 82.7h1.1v1.1h-1.1zM513.9 75.4h1.1v1.1h-1.1zM507.6 82.7h1.1v1.1h-1.1zM508.7 84.8h1.1v1.1h-1.1zM512.9 76.8h1.1v1.1h-1.1z" fill="#6b2a2a"/>
<path d="M501.5 77.6h1.1v1.1h-1.1zM501.1 74.6h1.1v1.1h-1.1zM507.9 85.4h1.1v1.1h-1.1zM499.8 80.1h1.1v1.1h-1.1zM512.3 82.5h1.1v1.1h-1.1zM505.2 72.7h1.1v1.1h-1.1zM514.0 81.7h1.1v1.1h-1.1zM512.4 83.7h1.1v1.1h-1.1zM505.6 83.5h1.1v1.1h-1.1zM510.0 73.0h1.1v1.1h-1.1z" fill="#2f6a2a"/>
<path d="M506.5 72.6h1.1v1.1h-1.1zM510.0 85.3h1.1v1.1h-1.1zM504.0 72.7h1.1v1.1h-1.1zM514.4 80.9h1.1v1.1h-1.1zM512.0 75.2h1.1v1.1h-1.1zM512.2 78.5h1.1v1.1h-1.1zM511.0 72.4h1.1v1.1h-1.1zM506.3 70.5h1.1v1.1h-1.1zM513.6 77.9h1.1v1.1h-1.1z" fill="#5aa84a"/>
<ellipse cx="507.3" cy="78.2" rx="4.2" ry="3.8" fill="#141405"/>
<path d="M572.00,75.40 L571.93,75.97 L571.73,76.53 L571.42,77.05 L571.02,77.53 L570.56,77.96 L570.74,78.56 L570.85,79.18 L570.86,79.79 L570.75,80.37 L570.53,80.90 L570.18,81.36 L569.73,81.74 L569.20,82.04 L568.61,82.25 L568.00,82.40 L567.85,83.01 L567.64,83.60 L567.34,84.13 L566.96,84.58 L566.50,84.93 L565.97,85.15 L565.39,85.26 L564.78,85.25 L564.16,85.14 L563.56,84.96 L563.13,85.42 L562.65,85.82 L562.13,86.13 L561.57,86.33 L561.00,86.40 L560.43,86.33 L559.87,86.13 L559.35,85.82 L558.87,85.42 L558.44,84.96 L557.84,85.14 L557.22,85.25 L556.61,85.26 L556.03,85.15 L555.50,84.93 L555.04,84.58 L554.66,84.13 L554.36,83.60 L554.15,83.01 L554.00,82.40 L553.39,82.25 L552.80,82.04 L552.27,81.74 L551.82,81.36 L551.47,80.90 L551.25,80.37 L551.14,79.79 L551.15,79.18 L551.26,78.56 L551.44,77.96 L550.98,77.53 L550.58,77.05 L550.27,76.53 L550.07,75.97 L550.00,75.40 L550.07,74.83 L550.27,74.27 L550.58,73.75 L550.98,73.27 L551.44,72.84 L551.26,72.24 L551.15,71.62 L551.14,71.01 L551.25,70.43 L551.47,69.90 L551.82,69.44 L552.27,69.06 L552.80,68.76 L553.39,68.55 L554.00,68.40 L554.15,67.79 L554.36,67.20 L554.66,66.67 L555.04,66.22 L555.50,65.87 L556.03,65.65 L556.61,65.54 L557.22,65.55 L557.84,65.66 L558.44,65.84 L558.87,65.38 L559.35,64.98 L559.87,64.67 L560.43,64.47 L561.00,64.40 L561.57,64.47 L562.13,64.67 L562.65,64.98 L563.13,65.38 L563.56,65.84 L564.16,65.66 L564.78,65.55 L565.39,65.54 L565.97,65.65 L566.50,65.87 L566.96,66.22 L567.34,66.67 L567.64,67.20 L567.85,67.79 L568.00,68.40 L568.61,68.55 L569.20,68.76 L569.73,69.06 L570.18,69.44 L570.53,69.90 L570.75,70.43 L570.86,71.01 L570.85,71.62 L570.74,72.24 L570.56,72.84 L571.02,73.27 L571.42,73.75 L571.73,74.27 L571.93,74.83Z" fill="#e2f4ed" stroke="#4f9f7c" stroke-width="0.75"/>
<circle cx="569.80" cy="75.40" r="2.20" fill="#b6e3d5" stroke="#3f8a68" stroke-width="0.68"/>
<circle cx="565.40" cy="83.02" r="2.20" fill="#b6e3d5" stroke="#3f8a68" stroke-width="0.68"/>
<circle cx="556.60" cy="83.02" r="2.20" fill="#b6e3d5" stroke="#3f8a68" stroke-width="0.68"/>
<circle cx="552.20" cy="75.40" r="2.20" fill="#b6e3d5" stroke="#3f8a68" stroke-width="0.68"/>
<circle cx="556.60" cy="67.78" r="2.20" fill="#b6e3d5" stroke="#3f8a68" stroke-width="0.68"/>
<circle cx="565.40" cy="67.78" r="2.20" fill="#b6e3d5" stroke="#3f8a68" stroke-width="0.68"/>
<g transform="translate(588.00,67.40) scale(1.6750,1.8425)"><path d="M16.34,5.65 C17.3,5.9 18.2,6.2 18.6,6.48 C19.2,6.9 19.6,7.3 19.54,7.81 C19.6,8.5 19.4,9.0 19.06,9.27 C18.5,9.6 17.8,9.7 17.03,9.62 C15.7,9.5 14.5,9.0 13.2,8.79 C12,8.6 10.8,8.6 9.71,8.58" fill="none" stroke="#2e2e2e" stroke-width="0.45"/><path d="M9.8,8.2 C10.8,8.0 12,7.9 13.6,7.95" fill="none" stroke="#aaa" stroke-width="0.36"/><path d="M0.3,2.93 C0.8,2.2 1.2,1.9 1.7,1.71 C2.6,1.2 3.4,0.6 3.96,0.31 C4.4,0.05 4.8,0.0 5.01,0.07 C5.4,0.3 5.6,0.7 5.7,1.01 C6.2,1.2 6.7,1.2 7.27,1.19 C8.2,1.0 9.1,1.0 10.06,1.01 C11.1,1.1 12,1.3 12.85,1.53 C13.7,1.9 14.4,2.4 14.94,2.93 C15.5,3.4 15.9,3.9 16.16,4.32 C16.4,4.7 16.55,5 16.51,5.3 C16.4,5.8 16.1,6.3 15.64,6.48 C15.1,6.8 14.6,6.9 14.07,7.04 L12.85,7.18 C11.5,7.0 10,6.6 8.67,6.48 C7.8,6.4 6.8,6.35 6.05,6.35 L5.36,6.48 L4.48,7.53 L3.09,7.67 L3.44,7.04 L4.21,6.07 C3.5,5.4 3,4.8 2.39,4.5 C1.8,4.2 1.2,4.0 0.82,3.8 C0.5,3.6 0.2,3.2 0.3,2.93Z" fill="#2e2e2e"/></g>
<text transform="translate(119.00,99.00) scale(1,1.08)" font-size="6.7" text-anchor="middle" fill="#231f20">mETMR-</text>
<text transform="translate(119.00,105.60) scale(1,1.08)" font-size="6.7" text-anchor="middle" fill="#231f20">FB</text>
<text transform="translate(152.30,99.00) scale(1,1.08)" font-size="6.7" text-anchor="middle" fill="#231f20">mFB</text>
<text transform="translate(200.50,99.00) scale(1,1.08)" font-size="6.7" text-anchor="middle" fill="#231f20">hETMR</text>
<text transform="translate(260.80,99.00) scale(1,1.08)" font-size="6.7" text-anchor="middle" fill="#231f20">2D culture</text>
<text transform="translate(322.20,99.00) scale(1,1.08)" font-size="6.7" text-anchor="middle" fill="#231f20">ETMR-FBO</text>
<text transform="translate(402.30,99.00) scale(1,1.08)" font-size="6.7" text-anchor="middle" fill="#231f20">Visium</text>
<text transform="translate(463.30,99.00) scale(1,1.08)" font-size="6.7" text-anchor="middle" fill="#231f20">IHC</text>
<text transform="translate(508.30,99.00) scale(1,1.08)" font-size="6.7" text-anchor="middle" fill="#231f20">Multiplex</text>
<text transform="translate(508.30,106.80) scale(1,1.08)" font-size="6.7" text-anchor="middle" fill="#231f20">IF</text>
<text transform="translate(116.50,117.30) scale(1,1.08)" font-size="6.7" text-anchor="middle" fill="#231f20">n = 8</text>
<text transform="translate(151.70,117.30) scale(1,1.08)" font-size="6.7" text-anchor="middle" fill="#231f20">n = 2</text>
<text transform="translate(184.20,117.30) scale(1,1.08)" font-size="6.7" text-anchor="middle" fill="#231f20">n = 2</text>
<text transform="translate(216.50,117.30) scale(1,1.08)" font-size="6.7" text-anchor="middle" fill="#231f20">n = 9</text>
<text transform="translate(259.50,117.30) scale(1,1.08)" font-size="6.7" text-anchor="middle" fill="#231f20">n = 4</text>
<text transform="translate(323.00,117.30) scale(1,1.08)" font-size="6.7" text-anchor="middle" fill="#231f20">n = 33</text>
<text transform="translate(401.30,117.30) scale(1,1.08)" font-size="6.7" text-anchor="middle" fill="#231f20">n = 3</text>
<text transform="translate(463.90,117.30) scale(1,1.08)" font-size="6.7" text-anchor="middle" fill="#231f20">n = 4</text>
<text transform="translate(506.20,117.30) scale(1,1.08)" font-size="6.7" text-anchor="middle" fill="#231f20">n = 1</text>
<text transform="translate(560.50,117.30) scale(1,1.08)" font-size="6.7" text-anchor="middle" fill="#231f20">n = 10</text>
<text transform="translate(602.70,117.30) scale(1,1.08)" font-size="6.7" text-anchor="middle" fill="#231f20">n = 6</text>
<text transform="translate(177.00,107.40) scale(1,1.08)" font-size="5.4" fill="#231f20">fresh</text>
<text transform="translate(209.00,107.40) scale(1,1.08)" font-size="5.4" fill="#231f20">fixed</text>
<line x1="189.7" y1="108.4" x2="195" y2="103.1" stroke="#333" stroke-width="0.6"/>
<line x1="202.8" y1="103.1" x2="208.1" y2="108.4" stroke="#333" stroke-width="0.6"/>
<text transform="translate(630.20,76.20) scale(1,1.08)" font-size="6.5" fill="#231f20">Chemo-</text>
<text transform="translate(630.20,82.60) scale(1,1.08)" font-size="6.5" fill="#231f20">treatment</text>
<text transform="translate(630.80,99.00) scale(1,1.08)" font-size="6.5" fill="#231f20">PDGFR</text>
<text transform="translate(630.80,105.60) scale(1,1.08)" font-size="6.5" fill="#231f20">inhibition</text>
<text transform="translate(0.40,154.40) scale(1,1.08)" font-size="9.8" font-weight="bold" fill="#111">B</text>
<text transform="translate(100.90,153.60) scale(1,1.08)" font-size="9.35" text-anchor="middle" fill="#231f20">mETMR-mFB E16.5</text>
<rect x="21.8" y="157.1" width="158.8" height="144.2" fill="#fff" stroke="#7a7a7a" stroke-width="0.8"/>
<path d="M74.3 238.2h0M81.5 220.5h0M83.3 207.7h0M77.5 219.1h0M75.7 247.9h0M79.8 228.7h0M85.0 259.4h0M85.9 215.4h0M73.0 246.4h0M72.7 242.3h0M75.2 244.6h0M77.9 219.8h0M60.4 206.1h0M78.0 255.7h0M75.6 245.8h0M62.8 207.5h0M70.6 212.7h0M74.5 232.3h0M83.1 212.3h0M74.1 242.4h0M58.6 205.6h0M75.8 248.5h0M71.2 227.3h0M84.8 220.3h0M62.6 214.1h0M70.4 214.1h0M75.6 234.2h0M81.7 223.4h0M86.8 254.9h0M78.1 220.7h0M81.8 254.3h0M72.7 208.1h0M91.5 261.1h0M68.1 208.5h0M75.6 242.7h0M89.2 258.3h0M76.2 234.7h0M84.0 227.0h0M81.6 212.8h0M75.7 216.7h0M76.6 256.7h0M76.5 235.3h0M87.8 260.1h0M72.7 225.5h0M61.9 213.2h0M80.5 256.1h0M74.4 236.9h0M80.0 209.6h0M69.4 219.3h0M62.9 214.9h0M75.6 225.6h0M73.0 245.1h0M78.7 225.8h0M75.7 252.0h0M83.6 217.2h0M77.4 217.2h0M82.7 213.7h0M75.7 244.2h0" stroke="#ee7670" stroke-width="1.00" stroke-linecap="round"/>
<path d="M78.1 212.1h0M77.6 250.6h0M74.7 241.6h0M71.1 224.9h0M71.1 213.8h0M73.4 247.5h0M60.9 204.7h0M84.6 259.5h0M73.9 239.9h0M63.3 211.0h0M67.4 208.9h0M57.5 204.2h0M81.2 214.6h0M87.7 251.8h0M75.3 251.4h0M80.4 228.6h0M73.0 208.3h0M88.4 260.8h0M61.6 200.8h0M65.3 206.3h0M80.6 259.2h0M76.9 208.7h0M58.8 206.3h0M86.3 256.9h0M88.3 257.2h0M78.5 215.1h0M76.5 234.7h0M77.5 227.9h0M77.5 223.8h0M73.4 217.5h0M77.1 241.1h0M83.2 225.3h0M84.7 214.5h0M57.6 206.4h0M68.8 210.1h0M66.4 208.4h0M81.2 212.4h0M75.8 241.0h0M73.4 223.0h0M73.5 244.5h0M73.8 249.7h0M66.2 209.3h0M84.9 219.8h0M62.4 205.8h0M78.8 209.4h0M68.0 208.9h0M64.8 210.5h0M80.6 220.9h0M73.0 247.5h0M62.5 204.1h0M64.1 212.0h0M75.0 233.5h0M89.3 258.0h0M90.1 262.7h0M83.0 262.0h0M79.1 229.0h0M61.7 208.1h0M83.8 222.2h0M63.4 209.6h0M65.4 212.3h0M79.4 206.9h0M82.8 258.3h0M86.2 255.6h0M78.2 228.2h0M58.5 208.1h0M82.3 256.6h0M85.0 214.4h0M88.2 253.0h0M72.4 220.4h0M57.8 206.9h0M81.9 232.6h0M77.6 218.5h0M77.9 215.3h0M75.9 215.7h0M77.4 249.4h0M80.9 223.6h0M78.4 233.7h0M76.4 252.6h0M68.7 207.9h0M69.8 221.3h0M81.3 214.4h0M74.7 248.3h0M88.7 259.3h0M77.1 230.5h0M79.1 225.0h0M78.3 226.7h0M58.3 204.4h0M73.9 242.0h0M85.4 257.6h0M81.8 216.4h0M79.1 208.2h0M65.6 217.6h0M60.3 202.8h0M88.6 254.1h0M62.2 204.4h0M84.8 254.5h0M65.1 212.3h0M79.0 223.0h0M68.5 210.1h0M76.8 220.9h0M67.6 211.9h0M78.2 222.4h0M82.8 228.4h0" stroke="#7aae28" stroke-width="1.00" stroke-linecap="round"/>
<path d="M78.2 210.2h0M80.7 213.9h0M67.8 219.3h0M79.5 240.0h0M77.0 209.1h0M68.9 220.3h0M79.8 224.6h0M73.3 215.0h0M84.7 260.1h0M71.2 217.9h0M80.7 212.3h0M86.2 264.4h0M79.0 252.6h0M75.8 243.4h0M91.6 261.4h0M71.4 224.0h0M79.7 221.3h0M75.6 236.9h0M86.7 252.4h0M88.0 262.3h0M74.9 246.2h0M71.3 219.0h0M78.3 233.5h0M86.5 253.4h0M75.6 232.9h0M59.3 209.2h0M62.5 212.6h0M79.8 239.6h0M71.0 221.7h0M77.7 208.0h0M76.4 221.6h0M77.4 250.1h0M65.4 213.2h0M71.9 217.1h0M85.9 251.1h0M76.0 230.7h0M78.0 219.2h0M75.5 227.2h0M82.0 259.0h0M84.7 217.2h0M82.6 257.0h0M64.3 212.0h0M76.1 209.9h0M82.1 211.4h0M80.3 217.6h0M74.2 236.9h0" stroke="#22b6c1" stroke-width="1.00" stroke-linecap="round"/>
<path d="M79.6 226.4h0M72.7 231.6h0M87.1 263.4h0M63.7 216.8h0M67.2 214.8h0M65.0 212.3h0M88.1 263.7h0M76.9 228.6h0M74.7 243.7h0M76.5 220.1h0M60.2 207.1h0M83.3 228.6h0M79.0 234.0h0M76.6 213.1h0M78.3 206.8h0M65.0 212.9h0M78.8 253.6h0M61.8 213.3h0M79.0 234.4h0M68.5 211.8h0M76.5 212.4h0M75.8 233.0h0M72.4 217.0h0M80.6 223.7h0M68.9 217.6h0M72.6 221.1h0M80.7 218.1h0M77.1 251.7h0M64.8 214.3h0M75.3 246.9h0M77.6 230.7h0M83.8 209.4h0M81.0 205.4h0M81.6 215.4h0M81.7 216.5h0M82.6 224.8h0M88.3 259.3h0M84.5 224.2h0M62.8 211.7h0M77.9 252.4h0M73.9 242.3h0M69.7 216.7h0M80.1 219.6h0M72.2 208.9h0M75.7 255.2h0M78.4 231.9h0M67.7 211.6h0M70.7 209.2h0M73.4 226.9h0M75.8 242.7h0M83.1 220.2h0M81.4 216.3h0M70.5 220.9h0" stroke="#a57fc6" stroke-width="1.00" stroke-linecap="round"/>
<path d="M94.0 231.3h0M96.5 235.3h0M94.1 226.1h0M96.3 225.3h0M111.3 224.8h0M101.1 227.7h0M109.7 230.3h0M99.3 223.6h0M111.0 229.0h0M93.1 224.9h0M126.1 224.8h0M109.5 226.8h0M109.9 224.9h0M89.8 227.6h0M94.0 227.8h0M101.9 226.7h0M110.1 222.1h0M104.6 227.7h0M91.7 226.2h0M88.8 226.6h0M103.4 227.7h0M121.3 222.6h0M103.7 223.3h0M93.1 223.9h0M100.4 231.6h0M102.0 229.5h0M95.0 223.2h0M117.4 230.1h0M95.4 229.5h0M97.8 223.9h0M113.0 230.6h0M120.9 229.1h0M106.2 232.3h0M107.1 224.6h0M100.2 225.7h0M91.8 227.3h0M110.3 225.7h0M92.7 226.7h0M101.4 222.5h0M100.9 231.6h0M120.2 226.5h0M123.8 226.0h0M96.3 228.6h0M107.6 225.2h0M121.7 228.7h0M99.5 227.4h0M96.1 232.7h0M123.6 227.0h0M123.2 223.0h0M94.8 235.6h0M119.2 229.2h0M121.5 227.9h0M109.9 227.1h0M113.7 226.2h0M95.8 231.8h0M95.1 223.7h0M128.2 227.7h0M92.1 230.2h0M104.9 222.7h0M124.5 228.9h0M97.9 234.3h0M99.3 225.8h0M106.1 229.6h0M97.5 231.4h0M96.9 222.6h0M108.3 231.3h0M94.3 224.0h0M92.6 226.8h0M109.1 227.1h0M101.4 233.8h0M124.7 225.4h0" stroke="#a57fc6" stroke-width="1.00" stroke-linecap="round"/>
<path d="M94.6 234.6h0M100.3 231.4h0M95.5 226.2h0M91.8 229.2h0M92.7 223.1h0M116.0 229.4h0M126.2 228.1h0M125.5 227.9h0M95.9 234.0h0M99.1 222.8h0M97.5 223.1h0M109.3 223.2h0M115.8 228.4h0M117.5 228.2h0M109.2 231.4h0M98.6 234.8h0M94.4 230.9h0M99.1 233.7h0M124.2 222.4h0M95.4 231.3h0M101.4 225.0h0M95.2 225.3h0M113.1 226.8h0M100.2 224.1h0M104.4 233.3h0M98.1 224.1h0M107.6 224.7h0M121.7 229.6h0M98.4 222.5h0M117.4 224.6h0M100.0 233.0h0M115.8 229.8h0M91.5 223.9h0M106.4 227.8h0M108.8 225.5h0M116.0 222.7h0M103.3 226.0h0M104.5 223.0h0M114.0 227.3h0M110.0 225.0h0M106.4 229.1h0M98.2 231.8h0M106.7 227.0h0M107.9 226.3h0M107.0 230.6h0M115.8 229.2h0M127.8 226.1h0M100.6 226.8h0M110.2 231.3h0" stroke="#22b6c1" stroke-width="1.00" stroke-linecap="round"/>
<path d="M32.80,222.20 C32.77,220.70 34.22,218.05 35.00,216.00 C35.78,213.95 36.50,211.57 37.50,209.90 C38.50,208.23 39.73,206.98 41.00,206.00 C42.27,205.02 44.27,205.50 45.10,204.00 C45.93,202.50 45.20,198.65 46.00,197.00 C46.80,195.35 48.48,194.52 49.90,194.10 C51.32,193.68 53.55,193.85 54.50,194.50 C55.45,195.15 55.32,196.22 55.60,198.00 C55.88,199.78 55.88,203.20 56.20,205.20 C56.52,207.20 57.03,208.83 57.50,210.00 C57.97,211.17 58.08,211.95 59.00,212.20 C59.92,212.45 61.58,211.37 63.00,211.50 C64.42,211.63 66.42,211.92 67.50,213.00 C68.58,214.08 68.58,216.67 69.50,218.00 C70.42,219.33 71.58,220.33 73.00,221.00 C74.42,221.67 76.32,221.33 78.00,222.00 C79.68,222.67 82.35,223.67 83.10,225.00 C83.85,226.33 82.90,228.45 82.50,230.00 C82.10,231.55 81.78,232.22 80.70,234.30 C79.62,236.38 76.95,240.22 76.00,242.50 C75.05,244.78 74.92,245.75 75.00,248.00 C75.08,250.25 75.67,253.67 76.50,256.00 C77.33,258.33 78.42,260.33 80.00,262.00 C81.58,263.67 84.00,265.25 86.00,266.00 C88.00,266.75 90.17,266.33 92.00,266.50 C93.83,266.67 95.67,266.33 97.00,267.00 C98.33,267.67 99.98,269.52 100.00,270.50 C100.02,271.48 98.57,272.32 97.10,272.90 C95.63,273.48 93.35,274.20 91.20,274.00 C89.05,273.80 86.33,272.67 84.20,271.70 C82.07,270.73 80.33,269.75 78.40,268.20 C76.47,266.65 74.55,264.15 72.60,262.40 C70.65,260.65 68.47,259.45 66.70,257.70 C64.93,255.95 63.55,254.03 62.00,251.90 C60.45,249.77 59.15,247.43 57.40,244.90 C55.65,242.37 53.83,238.85 51.50,236.70 C49.17,234.55 46.12,233.95 43.40,232.00 C40.68,230.05 36.97,226.63 35.20,225.00 C33.43,223.37 32.83,223.70 32.80,222.20Z" fill="#7aae28"/>
<path d="M72.20,190.60 C74.20,190.60 76.78,191.58 78.20,193.00 C79.62,194.42 80.70,197.07 80.70,199.10 C80.70,201.13 79.62,203.78 78.20,205.20 C76.78,206.62 74.20,207.60 72.20,207.60 C70.20,207.60 67.62,206.62 66.20,205.20 C64.78,203.78 63.70,201.13 63.70,199.10 C63.70,197.07 64.78,194.42 66.20,193.00 C67.62,191.58 70.20,190.60 72.20,190.60Z" fill="#a57fc6"/>
<path d="M84.00,190.00 C84.75,188.33 86.50,188.00 88.00,188.00 C89.50,188.00 91.50,189.00 93.00,190.00 C94.50,191.00 96.00,192.33 97.00,194.00 C98.00,195.67 98.50,197.33 99.00,200.00 C99.50,202.67 99.83,206.67 100.00,210.00 C100.17,213.33 100.33,217.00 100.00,220.00 C99.67,223.00 99.17,226.33 98.00,228.00 C96.83,229.67 94.67,230.33 93.00,230.00 C91.33,229.67 89.33,228.00 88.00,226.00 C86.67,224.00 85.67,221.00 85.00,218.00 C84.33,215.00 84.25,211.33 84.00,208.00 C83.75,204.67 83.50,201.00 83.50,198.00 C83.50,195.00 83.25,191.67 84.00,190.00Z" fill="#a987cb"/>
<path d="M97.50,185.50 C98.15,184.02 100.12,181.47 101.40,180.40 C102.68,179.33 103.93,179.00 105.20,179.10 C106.47,179.20 107.95,179.93 109.00,181.00 C110.05,182.07 110.67,184.97 111.50,185.50 C112.33,186.03 113.37,185.15 114.00,184.20 C114.63,183.25 115.18,181.70 115.30,179.80 C115.42,177.90 114.80,174.82 114.70,172.80 C114.60,170.78 114.17,168.87 114.70,167.70 C115.23,166.53 116.85,165.80 117.90,165.80 C118.95,165.80 120.27,166.53 121.00,167.70 C121.73,168.87 121.67,171.75 122.30,172.80 C122.93,173.85 123.85,173.58 124.80,174.00 C125.75,174.42 126.93,174.45 128.00,175.30 C129.07,176.15 129.93,178.47 131.20,179.10 C132.47,179.73 134.12,178.78 135.60,179.10 C137.08,179.42 139.13,180.15 140.10,181.00 C141.07,181.85 141.62,183.13 141.40,184.20 C141.18,185.27 139.97,186.33 138.80,187.40 C137.63,188.47 135.88,189.43 134.40,190.60 C132.92,191.77 131.28,193.13 129.90,194.40 C128.52,195.67 127.15,196.72 126.10,198.20 C125.05,199.68 123.92,201.62 123.60,203.30 C123.28,204.98 123.88,206.82 124.20,208.30 C124.52,209.78 125.92,210.92 125.50,212.20 C125.08,213.48 123.18,214.85 121.70,216.00 C120.22,217.15 118.52,218.68 116.60,219.10 C114.68,219.52 111.90,219.23 110.20,218.50 C108.50,217.77 107.23,216.18 106.40,214.70 C105.57,213.22 105.08,211.08 105.20,209.60 C105.32,208.12 107.32,206.85 107.10,205.80 C106.88,204.75 104.75,204.57 103.90,203.30 C103.05,202.03 102.75,199.90 102.00,198.20 C101.25,196.50 100.15,194.58 99.40,193.10 C98.65,191.62 97.82,190.57 97.50,189.30 C97.18,188.03 96.85,186.98 97.50,185.50Z" fill="#7aae28"/>
<path d="M95.00,230.00 C95.92,227.83 97.33,226.17 99.00,225.00 C100.67,223.83 102.33,223.17 105.00,223.00 C107.67,222.83 111.83,224.00 115.00,224.00 C118.17,224.00 121.50,223.83 124.00,223.00 C126.50,222.17 128.00,220.83 130.00,219.00 C132.00,217.17 134.17,214.17 136.00,212.00 C137.83,209.83 139.33,207.45 141.00,206.00 C142.67,204.55 143.72,204.18 146.00,203.30 C148.28,202.42 151.77,200.92 154.70,200.70 C157.63,200.48 161.27,200.73 163.60,202.00 C165.93,203.27 167.53,205.77 168.70,208.30 C169.87,210.83 170.40,214.23 170.60,217.20 C170.80,220.17 170.43,223.10 169.90,226.10 C169.37,229.10 168.67,232.22 167.40,235.20 C166.13,238.18 164.20,241.05 162.30,244.00 C160.40,246.95 158.12,249.93 156.00,252.90 C153.88,255.87 151.72,259.25 149.60,261.80 C147.48,264.35 145.63,266.50 143.30,268.20 C140.97,269.90 138.35,271.47 135.60,272.00 C132.85,272.53 129.75,272.25 126.80,271.40 C123.85,270.55 120.87,268.70 117.90,266.90 C114.93,265.10 111.12,262.28 109.00,260.60 C106.88,258.92 106.68,256.38 105.20,256.80 C103.72,257.22 101.38,261.42 100.10,263.10 C98.82,264.78 98.27,266.58 97.50,266.90 C96.73,267.22 96.08,266.48 95.50,265.00 C94.92,263.52 94.38,260.83 94.00,258.00 C93.62,255.17 93.28,251.33 93.20,248.00 C93.12,244.67 93.20,241.00 93.50,238.00 C93.80,235.00 94.08,232.17 95.00,230.00Z" fill="#a57fc6"/>
<path d="M89.6 243.4h0M85.8 243.3h0M86.4 251.2h0M86.5 231.9h0M88.7 254.2h0M87.7 239.7h0M86.8 238.5h0M89.1 246.7h0M85.1 232.4h0M84.2 237.5h0M85.4 241.3h0M92.6 242.4h0M91.1 237.6h0M86.2 232.4h0M91.7 255.5h0M93.8 247.4h0M85.0 233.3h0M90.0 244.4h0M87.0 248.5h0M90.3 241.0h0M91.9 236.8h0M88.7 254.4h0M92.8 235.4h0M85.2 247.0h0M89.8 257.0h0M86.9 239.2h0M92.9 230.6h0M91.7 253.0h0M91.5 257.7h0M93.0 229.6h0M93.4 230.8h0M92.7 248.4h0M89.1 230.9h0" stroke="#ee7670" stroke-width="1.00" stroke-linecap="round"/>
<path d="M89.8 244.3h0M84.0 238.8h0M84.8 245.5h0M87.8 239.9h0M90.4 252.5h0M94.1 235.6h0M92.0 241.0h0M88.6 231.3h0M88.7 234.7h0M91.6 240.0h0M93.7 247.3h0M92.9 241.7h0M85.2 241.0h0M89.4 242.7h0M92.7 233.1h0M92.2 236.4h0M84.1 239.7h0M84.6 237.6h0M91.3 230.2h0M92.5 230.5h0M91.0 232.0h0M85.8 237.4h0M89.6 241.8h0M84.4 234.7h0M89.9 256.2h0M88.4 243.2h0M90.0 256.3h0M87.7 246.9h0M93.2 238.9h0M89.4 251.1h0M89.9 243.4h0M84.6 241.2h0M90.5 253.4h0M85.7 233.1h0M94.1 234.6h0M88.4 254.2h0M87.5 238.4h0M88.7 239.1h0M89.0 249.4h0M87.7 237.8h0M86.8 239.1h0M91.7 254.6h0M90.5 251.7h0M88.1 238.2h0M87.9 234.4h0M90.3 236.3h0M87.0 236.2h0M90.2 248.5h0M85.0 239.4h0M91.6 254.4h0M88.4 241.6h0M93.8 241.9h0M87.4 252.0h0M94.0 238.2h0M85.8 233.6h0M87.9 233.0h0M85.2 240.4h0M84.7 241.6h0M90.8 258.5h0M93.4 245.4h0M84.2 236.4h0M91.7 234.2h0M86.6 248.5h0M88.2 242.7h0" stroke="#22b6c1" stroke-width="1.00" stroke-linecap="round"/>
<path d="M93.6 247.0h0M87.6 241.1h0M91.3 257.7h0M84.2 246.2h0M89.6 239.4h0M88.0 254.8h0M91.1 240.6h0M91.3 232.5h0M88.0 233.0h0M90.9 237.4h0M91.1 241.7h0M91.3 243.5h0M90.2 240.1h0M85.7 248.6h0M87.1 251.3h0M86.8 242.2h0M91.9 248.1h0M86.1 241.5h0M89.0 238.1h0M89.0 256.1h0M88.1 254.5h0M88.4 254.1h0" stroke="#a57fc6" stroke-width="1.00" stroke-linecap="round"/>
<path d="M91.2 243.2h0M91.9 259.7h0M91.6 240.6h0M89.8 250.6h0M89.2 245.5h0M89.6 233.5h0M90.9 252.8h0M86.6 251.7h0M92.2 243.5h0M84.6 246.2h0M91.9 252.9h0M92.1 254.8h0M88.0 254.2h0M87.1 249.9h0M92.9 241.6h0M93.7 258.3h0M94.0 241.4h0M93.0 241.6h0M93.6 248.3h0M85.9 238.4h0M86.8 231.0h0M90.9 250.0h0M91.4 255.8h0M93.1 246.1h0M89.6 256.5h0M92.2 240.2h0M88.6 233.5h0M90.7 235.4h0M89.4 246.6h0M92.1 232.4h0M91.8 229.9h0M84.4 232.8h0M84.7 239.9h0M87.4 241.8h0M88.3 250.2h0M92.2 251.5h0M90.1 255.0h0M91.3 238.6h0M93.4 257.6h0M91.0 257.4h0M93.1 241.7h0" stroke="#ffffff" stroke-width="1.00" stroke-linecap="round"/>
<path d="M119.3 219.4h0M128.5 211.9h0M138.4 212.6h0M123.9 221.0h0M112.3 220.2h0M104.8 219.7h0M106.8 226.0h0M135.4 210.1h0M115.1 224.8h0M137.0 205.7h0M136.2 212.0h0M103.6 221.9h0M99.5 225.9h0M126.8 214.5h0M112.8 225.2h0M124.8 215.3h0M122.9 217.9h0M128.2 212.9h0M120.6 219.6h0M97.2 225.3h0M137.1 212.5h0M123.0 222.8h0M122.7 224.2h0M129.2 209.9h0M104.7 223.7h0M115.7 219.5h0M126.0 212.3h0M110.6 224.8h0M102.8 224.0h0M125.9 221.6h0M117.4 225.8h0M104.6 218.6h0M125.1 216.1h0M139.6 209.6h0M109.4 220.4h0M134.1 215.0h0M137.4 214.2h0M98.5 221.4h0M104.7 220.1h0M138.9 209.2h0M104.7 223.4h0M136.8 212.9h0M139.8 209.6h0M107.3 218.2h0M127.8 222.6h0M135.3 206.6h0M106.7 225.5h0M101.2 217.9h0M123.9 215.8h0M98.2 223.1h0M121.7 223.3h0M131.0 217.5h0M128.8 212.0h0M110.3 219.5h0M115.7 219.2h0M111.6 221.6h0M135.1 212.4h0M132.8 215.9h0M141.3 207.7h0M126.6 217.0h0M140.2 210.4h0M103.9 223.8h0M127.1 212.4h0M99.8 217.2h0M119.4 224.6h0M106.6 218.7h0M121.8 224.6h0M104.6 217.5h0M133.5 215.8h0M108.6 222.6h0M139.3 205.6h0M106.2 217.2h0M98.0 225.9h0M106.7 219.2h0M105.5 217.0h0M117.6 219.3h0M125.6 214.2h0M104.9 221.8h0M100.5 224.2h0M109.1 220.0h0M137.0 206.7h0M128.6 214.5h0M131.9 217.5h0M106.3 224.4h0M99.2 224.6h0M142.5 203.7h0M137.0 210.3h0M105.6 218.2h0M116.6 224.8h0M105.6 221.2h0M133.1 212.3h0M128.4 210.1h0M138.5 208.7h0M133.8 209.3h0M129.9 211.5h0M130.6 211.9h0M128.1 213.5h0" stroke="#a57fc6" stroke-width="1.00" stroke-linecap="round"/>
<path d="M125.5 217.0h0M117.7 219.5h0M135.7 215.5h0M114.7 224.5h0M105.3 221.7h0M135.3 207.5h0M128.8 210.0h0M129.5 214.1h0M118.0 218.4h0M121.2 220.4h0M132.0 216.0h0M129.5 220.4h0M133.3 213.4h0M114.1 221.4h0M120.1 218.3h0M118.4 225.1h0M119.4 223.0h0M135.6 207.2h0M111.2 224.8h0M135.7 207.9h0M131.1 210.4h0M101.5 220.1h0M100.3 218.2h0M125.4 219.7h0M108.3 223.2h0M137.2 208.8h0M132.4 210.8h0M116.7 223.8h0M121.7 222.4h0M98.1 227.4h0M134.5 215.6h0M117.2 222.1h0M126.5 211.9h0M122.4 216.2h0M107.7 216.6h0M139.3 205.2h0M120.2 223.2h0M141.1 206.4h0M122.0 220.9h0M101.6 219.3h0M104.3 224.1h0M131.8 215.1h0M130.0 216.9h0M122.7 217.4h0M136.7 206.1h0M126.9 222.2h0M128.9 219.8h0M101.8 219.4h0M117.5 222.9h0M138.1 210.2h0M134.8 216.4h0M123.4 224.0h0M109.8 217.9h0M106.2 223.6h0M130.1 219.6h0M99.2 218.6h0M127.3 220.6h0M122.3 216.5h0M133.5 216.3h0M107.8 215.5h0M127.7 210.7h0M133.1 218.3h0M130.7 210.9h0M143.9 204.6h0M102.0 224.3h0M117.3 220.1h0M132.8 215.6h0M104.5 214.8h0M129.3 215.4h0M131.8 209.6h0M130.0 212.7h0M104.1 225.6h0M101.0 226.3h0M131.8 212.6h0M112.6 225.3h0M112.0 222.3h0M140.3 205.4h0M127.9 215.9h0M120.4 224.0h0M119.0 219.7h0M132.8 214.9h0M104.3 218.2h0M105.5 225.7h0M101.0 219.8h0M121.3 223.8h0M101.1 226.3h0M105.0 217.6h0M130.1 210.9h0M122.8 215.8h0M133.7 207.1h0M98.5 223.2h0M120.4 220.1h0M105.1 220.8h0M114.2 223.2h0M133.5 206.8h0M127.7 220.7h0M104.8 218.2h0M139.1 205.1h0M128.8 211.4h0M130.3 221.1h0M128.4 222.3h0M143.8 204.7h0M106.1 220.0h0M140.8 209.2h0M116.9 219.7h0M99.9 226.7h0M123.4 220.2h0M106.2 223.6h0M136.5 214.2h0M122.2 224.2h0M137.5 212.4h0M137.6 207.7h0M105.2 219.4h0M98.3 226.4h0M142.9 203.8h0M104.9 223.5h0M127.4 216.7h0M119.8 218.2h0M103.9 221.8h0M102.9 224.8h0M122.2 217.6h0M137.9 209.3h0M135.1 208.5h0M102.5 220.6h0M101.0 221.8h0M101.2 218.0h0M130.9 215.6h0M118.8 225.3h0M101.0 219.5h0M102.7 224.4h0M103.9 216.8h0M104.6 215.0h0M110.4 224.0h0M97.2 226.9h0M109.6 223.8h0M133.8 208.5h0M107.7 219.4h0M139.3 211.1h0M106.1 222.7h0M125.5 217.2h0M131.7 213.5h0M103.6 221.8h0M113.5 220.7h0M140.0 207.9h0M109.9 222.3h0M119.2 224.6h0M130.1 209.3h0M127.8 220.0h0M133.1 210.3h0M114.3 225.3h0" stroke="#22b6c1" stroke-width="1.00" stroke-linecap="round"/>
<path d="M121.2 223.5h0M125.8 219.7h0M107.2 216.2h0M122.2 222.7h0M122.2 220.5h0M129.2 218.9h0M107.1 216.4h0M135.0 212.5h0M113.4 224.0h0M129.4 213.7h0M125.1 217.7h0M125.1 222.1h0M109.1 217.1h0M132.5 209.3h0M107.7 216.2h0M140.2 206.8h0M102.0 223.8h0M118.3 222.7h0M121.2 219.8h0M115.2 220.4h0M139.5 206.9h0M134.1 217.5h0M104.4 217.0h0M103.7 221.1h0M134.0 206.7h0M125.4 216.8h0M133.0 207.4h0M97.7 226.5h0M113.7 222.2h0M103.0 224.6h0M110.9 223.5h0M131.4 213.1h0M126.1 216.1h0M122.1 221.2h0M134.5 215.7h0M106.4 220.3h0M102.6 215.4h0M131.7 214.6h0M134.2 213.4h0M135.9 212.8h0M108.3 218.0h0M118.1 224.3h0M141.7 205.8h0M105.9 225.9h0M102.7 217.3h0M101.4 221.7h0M118.3 224.4h0M134.0 213.0h0M134.0 215.4h0M107.6 223.8h0M111.9 221.8h0M99.3 220.3h0M128.0 210.7h0M132.2 214.5h0M139.9 208.3h0M131.0 214.0h0M121.0 219.7h0M138.3 208.8h0M103.1 215.3h0M99.1 221.6h0M100.8 219.1h0M131.0 213.3h0M99.4 223.6h0M122.0 222.2h0M103.1 215.1h0M112.6 225.1h0M108.6 219.6h0M125.8 217.8h0M120.6 224.2h0M109.4 217.9h0M130.5 210.4h0M128.3 220.3h0M106.4 219.6h0" stroke="#ee7670" stroke-width="1.00" stroke-linecap="round"/>
<path d="M113.2 249.6h0M143.7 248.2h0M146.7 240.2h0M127.3 252.7h0M140.1 228.9h0M137.9 239.9h0M122.2 251.8h0M138.3 241.3h0M146.1 208.7h0M143.1 238.2h0M155.0 227.5h0M150.4 219.1h0M97.9 238.4h0M96.6 238.8h0M156.8 204.0h0M129.7 219.8h0M130.5 236.4h0M95.3 238.6h0M157.5 249.3h0M148.4 209.6h0M119.4 248.6h0M165.5 221.7h0M147.2 204.2h0M127.1 271.0h0M141.3 237.7h0M163.4 220.7h0M100.7 247.2h0M151.4 211.4h0M131.3 240.0h0M136.4 240.3h0M126.1 255.9h0M150.5 233.4h0M124.4 257.9h0M124.3 263.1h0M97.8 257.6h0M125.7 267.4h0M116.0 250.3h0M144.8 235.9h0M149.0 205.4h0M149.9 227.9h0M104.2 245.5h0M132.2 231.3h0M101.5 232.2h0M148.4 258.2h0M144.5 266.3h0M99.8 255.2h0M139.3 268.5h0M99.2 232.9h0M116.5 234.3h0M135.8 252.9h0M98.2 230.9h0M160.1 209.4h0M99.0 241.2h0M150.9 228.3h0M131.1 237.8h0M115.2 260.4h0M119.9 244.5h0M94.7 233.6h0M122.8 262.6h0M98.1 255.9h0M104.8 245.9h0M141.0 266.1h0M105.4 241.9h0M129.4 251.6h0M128.1 223.3h0M118.8 250.3h0M155.9 220.0h0M137.9 250.0h0M97.8 260.1h0M104.8 246.8h0M149.9 220.9h0M117.8 260.6h0M121.1 267.2h0M102.8 243.7h0M139.9 209.5h0M161.1 216.1h0M121.5 252.1h0M128.3 254.2h0M128.1 240.3h0M164.3 213.1h0M129.2 225.3h0M146.1 261.2h0M139.5 245.1h0M140.3 220.2h0M169.0 211.6h0M145.9 206.6h0M160.3 202.7h0M123.9 259.6h0M160.5 208.8h0M139.6 238.4h0M139.5 242.2h0M159.4 242.6h0M124.4 236.7h0M166.7 228.4h0M111.5 227.2h0M148.5 214.2h0M145.8 212.0h0M130.7 258.7h0M157.4 245.2h0M144.5 207.2h0M114.4 250.1h0M98.1 265.7h0M97.2 250.6h0M163.7 207.7h0M127.4 239.7h0M143.2 206.2h0M153.4 236.4h0M145.5 215.4h0M96.3 256.6h0M132.7 226.0h0M153.6 235.4h0M154.6 223.8h0M165.2 238.1h0M142.4 252.9h0M124.1 237.5h0M166.9 211.8h0M113.2 238.8h0M141.6 220.7h0M131.8 249.9h0M136.9 233.5h0M138.1 259.9h0M124.1 265.5h0M136.7 243.6h0M101.2 246.1h0M149.5 212.0h0M120.9 245.2h0M94.3 255.4h0M142.4 240.7h0M99.6 259.3h0M132.4 258.6h0M143.3 205.8h0M133.9 251.4h0M127.0 270.3h0M129.5 250.3h0M130.1 231.3h0M109.4 240.9h0M133.9 265.5h0M117.7 247.2h0M143.8 255.5h0M153.7 246.3h0M153.8 244.0h0M135.8 246.0h0M151.9 210.0h0M140.4 221.8h0M134.1 229.8h0M104.1 228.1h0M119.1 248.6h0M97.0 239.6h0M142.6 232.2h0M159.6 204.7h0M116.2 265.0h0M145.1 259.2h0M123.8 259.5h0M159.0 241.7h0M113.4 239.7h0M126.0 263.0h0M105.3 223.9h0M159.9 237.2h0M136.4 241.6h0M148.8 234.1h0M156.6 243.5h0M96.4 235.7h0M127.0 265.9h0M137.7 263.6h0M124.2 262.2h0M122.9 244.4h0M144.4 262.0h0M108.7 258.8h0M133.9 254.5h0M128.3 250.0h0M95.8 237.9h0M130.5 227.1h0M151.3 235.0h0M142.5 240.7h0M153.6 251.5h0M133.6 217.3h0M128.6 233.6h0M101.9 237.5h0M104.7 233.2h0M135.8 239.1h0M154.7 216.3h0M152.0 240.9h0M138.0 244.3h0M141.7 265.0h0M158.8 223.8h0M140.4 238.2h0M100.1 236.4h0M165.8 236.3h0M149.9 206.4h0M149.2 224.9h0M101.4 257.8h0M138.6 233.5h0M128.3 242.7h0M110.6 259.7h0M125.4 244.3h0M123.2 239.3h0M153.3 250.5h0M124.4 249.5h0M143.8 257.5h0M136.2 245.8h0M97.6 266.2h0M120.7 240.5h0M154.2 217.1h0M97.3 230.6h0M162.4 234.0h0M135.5 236.2h0M97.2 239.2h0M124.1 238.3h0M159.1 234.3h0M158.7 219.4h0M108.5 242.2h0M157.5 241.2h0M150.8 241.0h0M148.3 230.4h0M167.3 206.6h0M128.8 232.0h0M137.2 216.3h0M158.2 245.0h0M156.2 204.0h0M116.7 232.5h0M166.6 219.0h0M127.2 253.4h0M140.7 214.8h0M148.3 205.9h0M145.7 263.5h0M96.3 258.7h0M155.2 231.9h0M111.3 256.1h0M124.6 237.3h0M139.6 261.8h0M140.4 219.1h0M104.6 247.9h0M97.1 244.6h0M146.2 261.6h0" stroke="#b290d8" stroke-width="1.00" stroke-linecap="round"/>
<path d="M142.8 214.1h0M113.1 261.3h0M162.7 239.9h0M103.3 231.4h0M123.4 252.0h0M110.6 236.2h0M142.7 212.1h0M111.6 236.1h0M106.2 231.3h0M129.6 226.8h0M131.6 269.8h0M153.0 242.9h0M109.0 225.7h0M117.7 233.5h0M151.9 243.5h0M143.8 222.5h0M121.1 232.2h0M133.4 266.3h0M108.3 228.7h0M134.5 258.6h0M164.3 203.6h0M105.2 241.9h0M108.2 227.5h0M157.6 202.8h0M137.4 252.4h0M109.8 253.8h0M116.3 244.9h0M143.7 244.1h0M111.4 237.1h0M142.9 244.2h0M122.7 258.8h0M155.5 237.3h0M146.1 227.5h0M95.2 251.5h0M125.0 240.9h0M158.2 238.6h0M141.9 263.2h0M144.2 251.2h0M115.0 242.0h0M141.5 207.8h0M147.7 241.7h0M103.8 234.8h0M118.9 226.6h0M148.3 235.6h0M151.4 253.9h0M106.3 231.2h0M155.0 243.4h0M141.1 227.5h0M124.0 228.8h0M97.0 233.6h0M134.7 254.2h0M151.6 228.7h0M136.9 230.9h0M133.8 249.6h0M160.2 233.0h0M127.9 267.4h0M157.4 215.1h0M168.5 213.4h0M98.5 256.4h0M138.0 267.6h0M115.4 255.7h0M113.6 252.0h0M140.1 265.7h0M151.0 235.4h0M99.3 229.7h0M131.6 253.8h0M156.3 236.1h0M137.9 228.1h0M129.8 249.4h0M141.0 248.9h0M115.8 256.6h0M105.1 254.2h0M112.4 262.5h0M110.2 226.1h0M158.3 245.7h0M151.7 219.1h0M100.2 247.4h0M102.8 249.3h0M129.4 230.8h0M113.4 256.4h0M120.5 259.9h0M141.6 226.1h0M101.2 251.9h0M144.9 245.8h0M114.1 250.3h0M156.9 203.8h0M159.9 226.8h0M100.1 241.6h0M126.0 270.7h0M98.6 258.9h0M101.5 257.1h0M102.5 242.3h0M130.3 243.7h0M142.8 212.8h0M139.8 262.9h0M122.2 223.7h0M123.2 247.0h0M152.1 229.7h0M99.1 231.0h0M153.9 215.6h0M96.1 258.3h0M123.3 263.3h0M130.8 256.5h0M118.0 246.1h0M136.7 224.0h0M162.7 215.2h0M123.0 225.6h0M143.0 257.7h0M158.4 208.6h0M145.3 262.0h0M146.6 238.1h0M109.0 235.7h0M120.8 223.6h0M129.4 247.0h0M123.6 227.3h0M137.0 243.1h0M100.6 240.0h0M160.9 207.6h0M100.2 245.7h0M135.5 250.4h0M157.9 239.5h0M112.8 242.3h0M161.6 202.7h0M127.6 224.6h0M110.0 240.2h0M159.6 216.4h0M161.7 208.4h0M134.6 265.7h0M114.3 241.8h0M145.7 250.7h0M104.4 227.8h0M116.7 259.7h0M156.0 208.8h0M122.9 226.4h0M114.5 238.6h0M113.4 258.6h0M116.3 241.1h0M130.0 227.5h0M141.2 263.7h0M115.5 254.4h0M117.6 236.8h0M128.8 247.1h0M128.1 224.6h0M99.7 249.3h0M110.6 231.4h0M132.0 244.5h0M128.0 262.8h0M146.9 232.1h0M166.0 222.6h0M123.9 242.7h0M133.0 236.4h0M162.3 227.3h0M145.9 213.5h0M164.6 232.1h0M113.8 255.8h0M130.1 259.7h0M128.2 270.4h0M109.3 241.8h0M143.4 258.2h0M120.1 250.5h0M99.5 246.7h0M105.5 247.7h0M135.7 264.9h0M95.5 246.4h0M167.7 231.4h0M97.9 240.8h0M115.8 228.9h0M145.6 214.5h0M97.4 232.0h0M153.4 209.8h0M119.1 228.8h0M127.6 239.8h0M134.6 217.6h0M137.3 270.8h0M162.7 236.4h0M156.8 208.7h0M100.9 255.4h0M97.9 247.8h0M160.2 204.5h0M105.1 230.9h0M144.2 229.3h0M98.6 246.2h0M107.5 226.9h0M98.6 226.2h0M95.4 249.0h0M129.3 243.1h0M145.4 214.7h0M141.7 228.0h0M142.6 254.5h0M124.7 241.2h0M105.0 231.3h0M103.7 239.0h0M137.2 234.8h0M142.6 253.5h0M142.0 238.7h0M127.1 249.0h0M144.5 265.4h0M135.3 249.9h0M163.2 215.7h0M125.5 269.0h0M148.8 239.6h0M128.7 225.4h0M103.6 253.6h0M161.9 219.9h0M110.8 240.4h0M94.5 251.8h0M112.8 237.3h0M165.5 224.4h0M136.1 269.8h0M109.5 253.9h0M99.6 226.0h0M128.6 264.6h0M96.8 252.3h0M157.3 214.7h0M148.9 204.6h0M124.7 262.4h0M135.7 219.9h0M127.5 237.0h0M136.5 270.1h0M154.6 210.2h0M151.9 251.0h0M120.5 242.9h0M123.7 231.9h0M125.1 233.2h0M113.0 258.3h0M153.6 249.5h0M135.3 220.2h0M121.2 263.9h0M95.4 263.3h0M122.4 239.6h0M112.0 261.8h0M155.0 205.0h0M140.1 207.8h0M142.9 254.2h0M163.1 234.5h0M148.2 244.1h0M158.7 229.6h0M98.9 256.7h0M110.0 227.5h0M166.3 230.9h0M127.2 242.9h0M156.5 243.1h0M100.1 246.9h0M94.3 244.9h0M130.5 230.5h0M120.2 241.1h0M169.3 215.1h0M138.6 246.5h0M146.3 263.9h0M141.2 247.4h0M151.6 207.1h0M160.2 228.3h0M136.1 260.7h0M131.4 256.9h0M120.1 264.6h0M96.4 256.7h0M115.0 228.7h0M109.8 231.6h0M117.7 253.9h0M101.7 244.3h0M122.6 231.7h0M95.5 232.5h0M131.5 224.6h0M146.3 224.7h0M135.2 241.6h0M150.3 227.3h0M162.9 204.2h0M112.5 246.6h0M145.5 256.1h0M155.9 202.2h0M144.6 266.0h0M128.3 224.8h0M126.5 268.2h0M151.0 229.3h0M97.4 265.5h0M123.2 265.5h0M130.8 246.8h0M135.3 213.1h0M148.3 228.7h0M96.5 261.8h0M114.9 244.7h0M145.4 230.3h0M99.5 231.7h0M155.1 219.4h0M117.6 225.9h0M130.7 236.6h0M140.9 230.0h0M95.0 247.1h0M123.7 226.5h0M132.5 262.0h0M116.4 249.6h0M126.6 237.1h0M133.1 237.1h0M161.5 211.2h0M138.4 235.9h0M111.9 241.7h0M97.5 234.2h0M98.0 234.6h0M129.3 233.1h0M135.4 262.8h0M150.2 252.3h0M142.1 206.0h0M159.3 201.5h0M94.7 251.6h0M147.5 248.7h0M145.7 234.3h0M156.6 216.6h0M107.1 233.7h0M144.4 229.0h0M153.5 251.2h0M129.1 251.9h0M106.3 255.3h0M95.1 232.8h0M154.3 255.0h0M117.3 230.2h0M143.3 232.5h0M144.4 212.1h0M95.1 246.5h0M116.4 244.0h0M153.2 227.9h0M96.4 241.2h0M103.3 241.0h0M152.8 223.9h0M140.6 207.9h0M117.5 227.7h0M113.3 260.5h0M104.0 256.6h0M112.7 238.7h0M144.0 253.9h0M121.1 264.6h0M163.8 218.6h0M160.7 225.5h0M155.7 209.0h0M139.9 268.9h0M112.3 236.3h0M163.6 232.6h0M136.7 214.3h0M144.0 248.0h0M147.1 263.9h0M157.1 230.6h0M166.0 226.7h0M153.9 241.2h0M150.8 211.8h0M127.2 230.5h0M159.9 221.7h0M103.3 224.3h0M116.0 257.2h0M134.9 249.0h0M137.2 257.2h0M126.4 228.3h0M128.7 256.5h0M142.3 209.3h0M111.3 257.4h0M162.3 240.6h0M137.1 263.9h0M114.4 264.4h0M136.6 270.1h0M116.3 249.7h0M134.4 258.7h0M143.5 232.8h0M94.8 239.6h0M160.1 229.2h0M98.0 252.6h0M150.1 249.0h0M158.6 224.2h0M112.3 244.8h0M134.1 267.8h0M129.8 267.8h0M150.2 230.5h0M132.1 260.3h0M126.2 228.9h0M110.5 256.2h0M145.2 207.5h0M130.4 227.4h0M157.0 249.4h0M140.8 253.2h0M150.9 232.5h0M101.4 232.0h0M119.7 249.8h0M120.7 266.8h0M136.6 218.7h0M157.3 220.0h0M120.5 261.2h0M149.0 226.6h0M132.1 243.4h0M135.4 230.2h0M116.9 241.6h0M153.7 246.8h0M145.3 211.0h0M137.7 249.4h0M144.1 230.7h0M106.4 245.7h0M143.8 213.1h0M137.9 246.9h0M124.0 245.5h0M164.1 229.6h0M141.8 222.2h0M161.9 222.4h0M148.6 203.4h0M117.9 256.9h0M98.0 230.3h0M108.1 241.1h0M131.3 258.5h0M101.6 227.5h0M156.4 224.2h0M119.5 254.1h0M163.9 223.8h0M138.0 244.8h0M120.2 248.4h0M116.3 239.9h0M118.8 263.4h0M97.2 259.4h0M165.3 208.3h0M120.8 263.4h0M153.0 207.1h0M162.9 226.6h0M120.8 239.2h0M160.5 233.2h0M165.0 204.0h0M120.8 229.2h0M110.7 245.5h0M149.4 238.6h0M116.6 227.9h0M154.4 225.4h0M118.2 262.2h0M120.9 250.4h0M108.3 234.8h0M127.2 234.4h0M139.3 243.8h0M135.5 216.8h0M168.2 214.2h0M145.0 219.1h0M115.2 232.9h0M160.6 229.2h0" stroke="#22b6c1" stroke-width="1.00" stroke-linecap="round"/>
<path d="M134.3 216.0h0M99.8 257.3h0M145.1 264.1h0M143.9 225.4h0M120.8 227.2h0M150.2 218.6h0M138.2 242.9h0M113.2 242.6h0M130.4 240.2h0M117.0 243.7h0M146.0 207.1h0M149.5 208.3h0M155.8 231.0h0M112.3 261.3h0M152.2 235.2h0M101.2 242.7h0M149.9 231.2h0M132.2 241.4h0M144.8 242.8h0M165.4 232.4h0M104.5 223.8h0M136.1 245.5h0M100.3 256.0h0M142.1 210.7h0M124.1 230.2h0M127.3 250.0h0M158.6 206.1h0M141.1 240.1h0M133.5 234.5h0M146.1 230.8h0M127.4 221.7h0M112.4 242.9h0M119.3 262.3h0M150.6 214.0h0M157.5 204.6h0M98.1 245.5h0M126.0 258.2h0M151.4 224.4h0M132.4 221.7h0M167.3 232.4h0M101.3 248.6h0M167.2 234.2h0M145.7 205.8h0M163.6 207.7h0M95.2 242.7h0M162.5 221.4h0M138.2 253.8h0M138.5 251.4h0M151.6 220.6h0M143.6 254.4h0M122.8 225.1h0M128.7 231.1h0M141.0 226.3h0M95.4 241.9h0M145.6 234.4h0M152.4 248.1h0M149.6 233.7h0M135.3 260.8h0M146.0 211.8h0M140.7 221.7h0M143.8 263.9h0M123.0 235.0h0M159.2 204.4h0M165.8 221.1h0M153.3 217.8h0M129.4 219.8h0M110.5 232.3h0M132.8 248.5h0M136.0 219.9h0M120.4 261.6h0M149.4 217.9h0M135.3 253.7h0M115.5 252.8h0M96.5 235.1h0M144.4 264.8h0M102.1 225.0h0M107.0 239.0h0M104.9 233.1h0M152.2 248.0h0M137.5 232.8h0M143.9 260.4h0M150.6 240.0h0M157.4 215.8h0M109.0 248.2h0M105.2 245.1h0M166.2 222.6h0M135.7 257.4h0M96.9 246.5h0M161.5 230.5h0M115.7 243.9h0M158.2 226.3h0M164.3 232.4h0M152.3 231.3h0M118.9 253.8h0M114.3 237.7h0M151.0 210.5h0M119.8 232.1h0M156.5 213.3h0M168.2 225.1h0M165.4 212.3h0M132.8 242.5h0M140.6 228.7h0M150.6 233.8h0M153.8 231.1h0M153.0 240.0h0M103.0 250.6h0M137.6 264.0h0M129.2 236.4h0M146.6 221.8h0M126.9 248.1h0M127.6 237.3h0M146.1 237.9h0M103.6 233.9h0M132.9 251.4h0M148.8 212.5h0M142.8 224.5h0M118.1 261.2h0M152.0 204.8h0M124.9 234.4h0M110.3 232.5h0M112.1 244.2h0M101.7 242.4h0M112.3 240.8h0M162.4 213.3h0M130.5 223.2h0M146.9 261.6h0M128.3 266.9h0M167.5 216.1h0M130.8 233.7h0M142.1 256.3h0M144.3 237.2h0M135.8 240.4h0M112.7 258.1h0M140.2 212.2h0M144.6 247.8h0M152.0 211.5h0M150.6 211.1h0M155.3 210.1h0M111.5 259.1h0M132.7 268.6h0M128.9 233.8h0M153.2 249.3h0M167.8 213.8h0M108.9 237.0h0M98.8 241.1h0M168.6 211.4h0M147.5 250.5h0M159.4 232.7h0M139.6 211.3h0M164.6 218.1h0M107.6 236.6h0M118.5 265.6h0M104.6 251.9h0M122.9 248.3h0M103.7 232.3h0M99.8 235.3h0M119.8 224.4h0M165.5 212.0h0M158.6 244.4h0M135.5 246.6h0M167.3 211.0h0M139.7 267.2h0M110.6 226.2h0M157.7 238.6h0M121.3 264.7h0M141.2 248.3h0M132.5 246.1h0M145.1 204.4h0M109.8 252.7h0M140.4 268.7h0M128.0 239.2h0M162.2 222.5h0M148.3 227.4h0M142.6 224.8h0M138.6 260.9h0M162.1 230.2h0M144.9 226.2h0M150.3 224.2h0M116.2 242.6h0M136.7 260.4h0M152.1 228.7h0M125.8 268.3h0M141.5 267.5h0M109.3 229.9h0M131.3 243.6h0M144.9 262.3h0M149.4 240.0h0M151.3 233.9h0M131.0 227.0h0M121.1 232.8h0M168.2 223.9h0M94.9 260.2h0M152.2 243.2h0M166.7 212.8h0M144.6 238.4h0M129.9 249.6h0M133.0 270.6h0M107.2 237.6h0M153.4 234.1h0M158.0 204.2h0M117.1 240.3h0M161.9 206.2h0M149.5 258.6h0M104.3 232.8h0M143.6 266.7h0M128.8 238.7h0M116.0 263.4h0M111.6 246.2h0M161.3 203.3h0M116.6 239.2h0M145.2 260.8h0M105.5 255.3h0M169.1 225.6h0M126.7 265.8h0M168.7 209.0h0M167.9 208.8h0M168.9 224.9h0M129.0 220.5h0M132.5 225.3h0M138.7 252.3h0M156.5 237.7h0M162.9 240.5h0M155.7 230.9h0M106.7 249.2h0M163.1 238.3h0M166.1 227.4h0M160.2 203.8h0M165.6 220.2h0M163.1 228.5h0M123.7 249.3h0M150.2 223.9h0M150.9 206.0h0" stroke="#8f78c0" stroke-width="1.00" stroke-linecap="round"/>
<path d="M89.5 208.2h0M91.0 213.7h0M94.2 213.4h0M92.4 198.2h0M94.1 199.2h0M84.1 207.5h0M93.9 199.9h0M85.6 193.5h0M97.7 196.8h0M95.9 221.0h0M93.2 209.1h0M95.4 201.2h0M95.2 204.9h0M90.3 193.2h0M93.3 202.9h0M97.1 196.9h0M89.3 215.4h0M87.4 201.5h0M84.4 189.8h0M86.7 212.5h0M93.4 227.6h0M95.4 224.7h0M88.7 195.1h0M86.7 193.0h0M84.6 198.7h0M97.9 201.8h0M94.1 220.1h0M89.3 206.4h0M95.4 198.2h0M94.1 228.9h0M93.2 224.6h0M95.1 220.6h0M92.3 196.6h0M93.8 204.6h0M85.8 198.2h0M96.1 203.8h0M93.4 219.9h0M87.6 213.7h0M96.1 202.4h0M95.8 206.8h0M91.7 228.4h0M87.0 190.7h0M97.9 221.0h0M90.4 218.3h0M89.7 196.3h0M88.6 220.0h0M90.8 190.5h0M86.8 220.5h0M90.6 198.5h0" stroke="#ffffff" stroke-width="1.00" stroke-linecap="round"/>
<path d="M97.6 217.9h0M88.5 202.1h0M91.7 209.7h0M88.7 207.1h0M94.3 228.7h0M87.5 212.4h0M90.7 223.3h0M90.6 197.4h0M89.5 208.8h0M87.5 215.1h0M84.6 196.0h0M95.4 214.5h0M89.0 213.5h0M92.0 213.8h0M91.3 208.2h0M95.3 219.4h0M86.9 206.3h0M93.0 194.4h0M89.7 188.7h0M90.3 220.9h0M93.2 200.7h0M92.3 226.0h0M90.9 223.1h0M86.1 212.9h0M93.2 203.3h0M89.7 198.0h0M88.5 197.4h0M92.2 217.3h0M91.7 193.5h0M98.0 222.4h0M99.5 215.0h0M85.1 209.3h0M88.7 202.0h0M84.8 190.2h0M97.8 204.7h0M97.1 204.1h0M89.5 209.5h0M92.6 219.0h0M86.8 194.7h0M89.9 203.2h0M92.9 221.2h0M85.2 209.7h0M93.3 211.1h0M97.2 207.1h0M88.4 210.1h0M94.2 214.9h0M96.1 220.8h0M88.0 191.1h0M92.8 200.8h0M85.4 202.0h0M91.5 191.9h0M96.3 197.1h0M85.3 211.3h0M87.1 193.2h0M93.6 196.8h0M94.4 214.4h0" stroke="#ee7670" stroke-width="1.00" stroke-linecap="round"/>
<path d="M99.2 213.3h0M96.5 228.2h0M83.8 194.5h0M91.2 213.1h0M99.8 220.9h0M87.8 221.1h0M97.2 221.2h0M87.4 194.5h0M95.0 218.6h0M90.8 224.3h0M98.7 208.0h0M91.9 228.0h0M87.3 192.2h0M93.8 226.6h0M97.5 204.5h0M92.2 226.6h0M91.1 189.6h0M95.2 206.0h0M98.8 209.1h0M97.5 208.5h0M92.6 220.1h0M84.8 208.9h0M92.0 210.3h0M94.9 197.3h0M98.9 218.7h0M86.1 195.8h0M95.4 220.0h0M98.9 207.4h0M96.2 205.5h0M90.3 218.8h0M94.0 219.5h0M85.6 213.5h0M93.7 200.5h0M94.3 217.3h0M98.2 199.0h0M92.8 208.1h0M88.0 188.6h0M98.8 205.2h0M95.8 222.9h0M86.1 196.5h0M92.3 199.7h0M92.6 223.5h0M86.4 219.0h0M85.0 199.1h0M98.1 202.1h0M96.5 204.6h0M87.6 189.0h0M91.9 226.5h0M87.8 203.2h0M88.7 205.7h0M99.1 204.7h0M91.1 226.5h0M88.1 217.8h0M95.6 228.7h0M89.3 216.0h0M98.2 213.8h0M87.2 220.9h0M97.3 211.5h0M85.2 191.6h0M86.1 194.2h0M92.8 195.5h0M92.5 198.0h0M90.3 194.4h0M99.1 204.1h0M86.7 211.1h0M91.2 201.2h0M88.2 192.0h0M96.3 213.7h0M87.4 210.8h0M98.6 203.5h0M89.5 201.3h0M99.2 221.4h0M94.3 203.7h0M85.6 216.7h0M94.6 204.9h0M89.0 212.0h0M86.1 211.6h0M90.6 204.1h0M87.9 212.9h0M98.0 226.9h0M88.7 212.8h0M94.1 204.0h0M98.1 205.0h0M89.8 199.3h0M97.3 200.9h0M95.3 204.3h0M94.5 193.2h0M89.3 202.7h0M91.7 189.7h0M86.3 194.6h0M86.6 204.5h0M84.9 191.0h0M84.0 204.4h0M84.6 195.1h0M93.8 218.9h0" stroke="#22b6c1" stroke-width="1.00" stroke-linecap="round"/>
<path d="M51.0 214.5h0M78.8 225.8h0M75.9 264.9h0M65.4 216.6h0M38.8 216.5h0M43.7 227.0h0M44.1 225.0h0M65.4 229.0h0M91.0 269.1h0M71.0 233.2h0M61.2 221.9h0M39.4 209.5h0M56.9 214.2h0M69.5 255.9h0M76.9 222.3h0M54.5 200.2h0M68.3 217.8h0M59.5 229.7h0M49.8 216.6h0M98.4 271.7h0M55.2 236.8h0M53.3 197.9h0M44.7 213.8h0M82.5 268.6h0M45.9 200.5h0M67.2 245.5h0M65.3 251.5h0M69.2 249.8h0M42.4 225.5h0M63.1 213.4h0M72.0 246.5h0M61.3 217.3h0M35.4 217.8h0M74.3 260.5h0M74.8 232.5h0M61.6 243.7h0M54.5 214.1h0M72.8 244.7h0M80.1 267.7h0M51.7 217.4h0M96.4 267.6h0M70.5 259.6h0M50.0 232.5h0M59.7 225.1h0M69.6 232.4h0M71.6 260.9h0M49.8 235.5h0M73.0 250.3h0M46.0 223.8h0M77.9 238.2h0M86.3 267.9h0M69.4 230.3h0M77.1 240.1h0M60.6 240.7h0M48.4 204.9h0M46.9 208.8h0M46.8 226.4h0M46.4 219.8h0M81.0 267.6h0M86.9 267.6h0M67.7 237.6h0M58.7 240.8h0M40.0 223.7h0M57.7 233.0h0M73.1 242.2h0M45.1 211.5h0M50.9 212.6h0M36.7 218.1h0M71.3 256.1h0M35.5 221.1h0M51.8 234.3h0M69.9 234.5h0M33.4 221.0h0M64.7 243.6h0M56.9 228.3h0M67.8 214.6h0M94.8 269.5h0M44.0 211.0h0M71.4 255.4h0M78.7 263.5h0M72.3 221.1h0M66.5 240.4h0M41.9 207.4h0M65.9 229.6h0M75.4 241.0h0M45.0 223.8h0M47.0 215.8h0M57.2 209.3h0M58.3 225.8h0M95.5 272.6h0M53.9 212.3h0M37.9 224.6h0M84.5 266.8h0M61.2 247.1h0M49.5 235.2h0M55.6 210.1h0M67.0 251.6h0M51.7 194.9h0M67.1 245.3h0M44.9 216.4h0M64.9 251.7h0M67.2 229.0h0M72.9 228.3h0M90.0 267.3h0M37.3 217.7h0M54.7 224.1h0M62.3 234.0h0M42.2 214.5h0M88.5 270.5h0M72.5 254.0h0M78.2 263.6h0M61.8 250.6h0M45.4 216.3h0M72.5 228.1h0M37.5 211.9h0M99.5 270.7h0M90.1 270.1h0M49.4 195.4h0M47.8 224.2h0M72.6 246.3h0M74.5 225.3h0M42.6 223.3h0M57.9 222.2h0M44.0 218.1h0M60.4 217.0h0M64.9 248.9h0M76.0 260.1h0M64.2 222.8h0M74.1 254.8h0M46.1 216.8h0M74.5 262.9h0M58.8 242.5h0M52.0 206.6h0M42.9 211.3h0M58.4 234.8h0M42.0 227.0h0M37.5 226.6h0M79.4 264.7h0M37.2 224.6h0M60.7 230.9h0M59.6 228.9h0M44.6 214.4h0M67.9 222.1h0M68.3 250.5h0M37.0 214.1h0M60.1 237.5h0M55.2 223.1h0M61.5 248.4h0M67.8 226.7h0M84.1 267.2h0M46.2 224.6h0M50.2 197.4h0M73.9 226.0h0M68.5 222.7h0M66.5 227.6h0M52.9 215.6h0M60.1 213.0h0M52.5 210.9h0M72.7 249.1h0M64.1 239.1h0M59.9 236.3h0M61.7 215.2h0M68.3 254.8h0M61.4 217.0h0M55.9 224.1h0M66.5 246.1h0M76.5 236.9h0M56.2 214.3h0M42.8 225.5h0M76.2 261.3h0M91.0 273.7h0M45.3 212.0h0M53.4 203.9h0M66.7 215.7h0M46.0 222.1h0M51.7 223.7h0M64.4 250.7h0M72.2 249.0h0M51.7 214.3h0M44.8 209.6h0M50.0 201.5h0M68.7 236.1h0M62.9 218.4h0M37.5 221.8h0M73.0 261.1h0M61.8 251.3h0M44.8 205.5h0M80.8 233.4h0M46.2 198.3h0M71.5 251.0h0M39.6 221.3h0M74.7 248.8h0M43.1 223.2h0M66.7 242.2h0M75.7 258.7h0M74.4 232.4h0M50.2 232.2h0M44.4 215.2h0M53.7 207.9h0M47.1 232.2h0M63.2 253.3h0M50.1 202.0h0M61.9 240.0h0M52.0 214.6h0M60.8 212.4h0M53.0 234.3h0M67.3 255.3h0M49.5 206.0h0M52.7 230.5h0M84.7 271.5h0M37.5 213.7h0M75.3 257.8h0M67.4 233.4h0M77.5 260.7h0M36.4 215.0h0M57.7 237.3h0M80.8 265.6h0M54.9 240.3h0M65.6 244.3h0M60.6 234.4h0M70.4 227.4h0M82.2 225.3h0M68.3 246.2h0M70.3 255.3h0M48.2 210.9h0M94.5 268.8h0M54.0 210.5h0M93.9 270.1h0M71.4 223.8h0M63.4 225.2h0M96.8 267.1h0M59.2 244.3h0M65.3 239.6h0M62.6 235.7h0M48.1 219.2h0M75.6 223.2h0M77.9 237.3h0M82.1 230.1h0M73.1 249.4h0M71.6 227.3h0M54.9 218.7h0M79.2 231.3h0M40.4 209.3h0M78.5 235.7h0M51.6 221.3h0M46.2 202.9h0M75.2 226.1h0M68.2 246.4h0M38.6 222.0h0M47.7 210.7h0M63.1 212.7h0M79.9 264.6h0M49.7 197.9h0M64.4 245.2h0M78.3 225.0h0M81.8 229.2h0M63.9 240.3h0M49.0 198.8h0M42.9 208.3h0M46.2 233.0h0M75.0 254.0h0M63.9 240.8h0M51.5 211.3h0M49.4 224.7h0M68.6 247.1h0M65.7 242.6h0M67.4 248.8h0M55.1 227.8h0M51.2 200.6h0M74.4 227.8h0M72.6 232.4h0M50.8 195.5h0M45.1 225.6h0M66.6 227.3h0M34.7 222.3h0M68.5 256.7h0M70.8 244.9h0M57.8 225.4h0M51.6 204.6h0M62.4 231.3h0M55.6 205.6h0M71.6 245.2h0M51.8 211.7h0M59.2 222.2h0M55.6 221.3h0M76.1 223.3h0M90.4 270.2h0M52.4 210.6h0M42.0 218.8h0M70.1 252.3h0M97.0 267.9h0M68.1 240.5h0M63.9 234.4h0M52.7 216.7h0M51.8 231.0h0M79.2 224.3h0M68.8 247.1h0" stroke="#ee7670" stroke-width="1.00" stroke-linecap="round"/>
<path d="M58.5 240.7h0M50.0 225.6h0M53.1 209.2h0M65.7 213.7h0M69.2 227.6h0M71.6 231.5h0M62.3 240.2h0M58.6 242.2h0M67.8 248.6h0M55.3 235.8h0M69.0 254.2h0M64.6 231.7h0M61.1 234.2h0M66.0 226.5h0M45.5 214.2h0M55.0 224.7h0M66.0 252.1h0M36.3 220.8h0M87.7 271.5h0M67.2 256.8h0M47.3 202.6h0M51.1 218.0h0M53.8 228.4h0M51.3 215.1h0M46.9 226.7h0M77.4 266.7h0M43.5 227.3h0M67.6 253.5h0M55.7 241.3h0M40.8 226.0h0M74.5 253.4h0M64.4 241.2h0M49.8 207.5h0M47.3 198.3h0M65.4 248.7h0M65.6 222.5h0M58.9 240.5h0M78.9 223.5h0M74.3 236.6h0M58.1 227.4h0M56.2 222.3h0M47.3 223.8h0M78.5 230.0h0M47.3 222.2h0M52.6 199.3h0M46.3 207.5h0M58.3 222.1h0M57.9 233.6h0M52.3 226.7h0M52.1 211.5h0M50.6 209.0h0M49.8 199.1h0M93.1 268.2h0M39.6 215.9h0M50.0 198.6h0M78.5 228.0h0M63.1 233.5h0M40.9 228.1h0M52.6 226.6h0M51.7 229.5h0M67.7 238.0h0M65.0 229.7h0M51.2 217.3h0M46.5 223.4h0M93.8 271.5h0M47.5 223.8h0M71.7 254.0h0M75.3 262.1h0M50.6 216.5h0M57.4 220.2h0M60.5 214.7h0M43.3 213.8h0M75.0 262.3h0M58.6 241.1h0M62.1 228.9h0M74.1 242.9h0M54.9 237.2h0M73.0 255.2h0M76.0 235.2h0M37.1 226.0h0M52.6 233.6h0M69.8 243.6h0M58.4 218.2h0M55.4 224.8h0M54.5 236.0h0M67.8 220.5h0M69.7 258.8h0M76.4 239.9h0M60.8 227.8h0M58.0 245.0h0M41.2 216.7h0M42.7 218.5h0M62.1 223.7h0M91.2 271.3h0M66.8 244.0h0M55.4 211.2h0M43.7 225.0h0M64.5 240.5h0M54.1 203.8h0M77.7 226.7h0M36.9 216.4h0M64.7 226.0h0M76.7 240.6h0M49.1 224.4h0M46.1 214.5h0M83.1 267.0h0M68.0 257.9h0M73.9 261.5h0M69.0 226.4h0M95.0 269.7h0M69.9 232.4h0M81.2 267.4h0M53.8 207.4h0M47.8 198.7h0M58.5 231.6h0M63.7 230.8h0M38.7 217.5h0M68.9 259.0h0M78.0 234.0h0M34.5 222.2h0M60.9 241.3h0M72.9 262.2h0M78.5 261.1h0M39.6 224.1h0M45.8 199.5h0M39.0 211.7h0M80.6 226.8h0M53.8 203.2h0M60.6 244.5h0M59.3 240.7h0M72.7 248.1h0M69.5 219.7h0M75.3 251.0h0M48.2 225.5h0M67.9 225.3h0M47.2 213.4h0M53.7 206.9h0M71.0 250.8h0M97.5 269.0h0M56.6 239.6h0M54.1 233.9h0M42.3 228.7h0M55.1 229.7h0M79.5 262.8h0M58.6 242.3h0M71.5 240.2h0M94.3 269.6h0M71.8 243.4h0M52.0 213.0h0M66.5 220.4h0M63.0 252.8h0M37.8 210.9h0M87.8 271.9h0M47.2 231.6h0M74.6 243.4h0M45.3 224.5h0" stroke="#6a9e1e" stroke-width="1.00" stroke-linecap="round"/>
<path d="M45.8 230.3h0M47.7 205.8h0M41.9 224.4h0M81.1 230.9h0M57.3 217.7h0M37.0 224.2h0M69.1 222.3h0M61.2 221.5h0M58.6 226.0h0M51.7 208.9h0M54.8 199.2h0M53.0 195.7h0M45.8 232.9h0M59.0 233.6h0M58.4 224.6h0M55.0 209.4h0M51.6 219.6h0M43.3 215.6h0M84.3 271.0h0M50.5 234.9h0M62.0 217.5h0M65.7 245.8h0M64.1 215.0h0M77.8 223.0h0M49.0 202.1h0M80.3 263.1h0M52.6 232.2h0M60.8 248.2h0M53.4 197.7h0M56.0 226.0h0M64.5 229.2h0M37.3 219.7h0M68.2 256.8h0M75.0 243.7h0M60.2 216.4h0M68.8 223.2h0M51.8 225.6h0M65.0 237.1h0M57.2 231.9h0M67.2 232.8h0M49.5 223.5h0M77.3 231.3h0M43.7 230.7h0M48.7 226.2h0M50.7 204.7h0M55.5 217.4h0M64.6 244.7h0M75.4 238.0h0M61.4 212.5h0M89.0 267.3h0M52.5 225.6h0M75.6 256.6h0M59.9 239.5h0M35.7 222.4h0M43.3 206.5h0M69.6 244.0h0M59.5 216.5h0M61.5 245.8h0M83.9 268.5h0M36.5 219.5h0M67.8 217.8h0M49.1 206.8h0M46.3 214.4h0M44.2 208.2h0M66.2 217.6h0M73.4 254.9h0M78.3 228.6h0M54.3 238.5h0M66.2 232.6h0M44.7 225.4h0M64.1 230.1h0M66.8 241.0h0M54.7 204.6h0M69.9 232.2h0M69.6 246.6h0M51.5 201.6h0M79.7 233.2h0M63.6 235.4h0M39.4 207.8h0M41.6 225.7h0M54.0 199.7h0M51.0 203.0h0M50.1 229.0h0M72.1 227.6h0M68.7 232.1h0M54.7 204.9h0M69.2 255.1h0M67.3 213.1h0M63.4 236.8h0M38.4 221.5h0M54.1 196.8h0M73.8 239.6h0M85.8 266.2h0M88.9 267.2h0M74.8 255.5h0M50.1 201.4h0M41.5 228.9h0M60.7 243.7h0M61.7 223.4h0M60.6 243.6h0M63.1 238.8h0M57.8 212.2h0M55.1 234.7h0M67.4 224.0h0M49.5 217.1h0M52.6 211.9h0M37.7 216.7h0M68.5 249.7h0M75.7 231.0h0M59.8 214.8h0M94.9 272.5h0M76.0 240.4h0M66.6 233.8h0M79.7 229.4h0M58.9 228.0h0M52.0 235.5h0M60.6 224.7h0M60.0 227.7h0M45.8 221.8h0M52.2 235.6h0M62.6 233.3h0M66.7 251.5h0M68.1 217.2h0M61.8 246.8h0M48.0 233.1h0M52.0 207.6h0M47.5 196.4h0M35.7 220.6h0M35.3 224.3h0M50.2 210.1h0M75.6 232.6h0M67.6 255.1h0M57.3 215.8h0M60.3 218.9h0M77.8 234.2h0M67.3 255.3h0M60.3 231.2h0M73.1 226.6h0M65.1 219.0h0M59.2 238.0h0M49.6 212.5h0M82.8 270.3h0M61.5 228.0h0M68.8 234.8h0M70.6 258.0h0M75.6 240.6h0M58.9 215.6h0" stroke="#8cbb3a" stroke-width="1.00" stroke-linecap="round"/>
<path d="M108.0 183.8h0M116.8 182.6h0M125.8 187.4h0M119.0 216.2h0M106.1 194.3h0M136.7 186.9h0M118.1 210.6h0M110.5 215.0h0M134.3 180.3h0M100.3 189.8h0M117.8 207.3h0M117.2 204.2h0M116.5 168.8h0M110.8 189.6h0M112.8 186.5h0M112.2 213.4h0M117.6 198.5h0M128.6 190.4h0M126.3 196.7h0M107.8 195.5h0M130.9 184.8h0M106.5 201.9h0M117.0 174.4h0M111.6 198.5h0M109.5 189.3h0M108.3 216.3h0M117.3 187.4h0M104.9 201.5h0M124.4 190.3h0M112.2 213.1h0M115.3 199.7h0M117.3 191.4h0M122.6 193.5h0M121.7 187.1h0M104.2 201.0h0M120.2 172.2h0M128.3 190.8h0M127.0 177.9h0M120.7 182.1h0M119.2 175.7h0M113.8 212.4h0M122.1 194.1h0M111.7 188.3h0M138.4 186.1h0M107.5 202.9h0M102.9 199.1h0M121.0 189.0h0M106.1 184.1h0M120.5 179.7h0M119.5 173.5h0M116.8 216.5h0M119.8 186.6h0M121.5 187.0h0M109.9 214.1h0M102.3 180.3h0M100.7 193.8h0M120.2 213.9h0M134.9 185.3h0M123.7 174.6h0M115.3 185.3h0M100.9 184.9h0M133.8 186.1h0M116.1 204.5h0M122.4 211.4h0M118.6 182.8h0M115.6 210.4h0M128.6 186.5h0M103.1 181.0h0M110.9 185.5h0M119.7 216.1h0M117.0 181.6h0M113.7 200.9h0M138.1 185.1h0M136.1 182.8h0M120.2 213.1h0M108.7 212.4h0M105.9 181.2h0M120.1 173.5h0M131.8 192.7h0M109.1 216.5h0M121.9 183.2h0M129.1 186.5h0M109.7 196.7h0M122.4 206.0h0M134.9 188.2h0M114.0 216.9h0M128.9 190.3h0M103.0 180.7h0M118.4 190.2h0M117.2 206.7h0M116.1 190.2h0M124.1 193.4h0M103.6 187.2h0M117.7 177.5h0M124.8 186.6h0M131.4 182.7h0M117.4 200.1h0M108.9 199.2h0M111.4 211.0h0M120.1 209.1h0M120.0 180.0h0M116.9 175.8h0M109.2 205.0h0M119.7 178.2h0M123.4 204.4h0M119.9 182.3h0M131.8 189.1h0M106.4 196.1h0M119.8 194.8h0M119.0 206.7h0M100.0 189.9h0M120.9 202.4h0M130.6 191.3h0M106.8 188.4h0M122.2 205.6h0M117.0 173.2h0M101.7 192.1h0M116.2 195.1h0M117.2 178.5h0M126.7 187.0h0M120.8 168.7h0M119.8 193.9h0M135.9 185.0h0M132.3 189.7h0M128.3 178.1h0M111.0 214.3h0M125.4 185.4h0M107.3 193.5h0M114.4 183.5h0M110.7 218.2h0M128.3 180.3h0M135.2 183.3h0M101.5 194.6h0M108.7 181.9h0M118.1 197.5h0M102.6 188.4h0M134.4 183.2h0M107.4 214.6h0M106.3 208.9h0M116.8 168.1h0M129.0 182.3h0M131.4 183.6h0M97.6 189.4h0M132.9 183.0h0M119.7 206.1h0M123.1 179.7h0M124.6 188.3h0M123.7 210.0h0M123.8 208.1h0M106.7 180.1h0M125.0 180.5h0M113.3 185.3h0M106.1 194.0h0M116.7 196.7h0" stroke="#ee7670" stroke-width="1.00" stroke-linecap="round"/>
<path d="M113.1 186.7h0M107.5 211.5h0M107.7 190.1h0M119.0 190.4h0M129.1 181.1h0M111.2 209.8h0M114.5 191.2h0M102.6 192.0h0M119.4 191.4h0M112.1 200.4h0M119.4 193.1h0M118.8 214.1h0M124.6 183.0h0M124.0 196.0h0M132.1 186.6h0M111.7 211.8h0M108.7 215.6h0M109.3 196.5h0M132.3 186.9h0M107.2 181.1h0M107.4 208.6h0M107.3 184.6h0M116.2 183.5h0M103.3 196.7h0M100.0 191.7h0M107.0 187.4h0M115.2 199.6h0M107.7 202.2h0M118.4 178.0h0M128.2 178.4h0M113.4 215.1h0M112.2 189.2h0M110.2 183.4h0M116.7 177.8h0M122.1 191.5h0M119.9 191.5h0M119.8 172.5h0M109.7 216.9h0M105.1 184.4h0M120.1 206.8h0M112.1 212.9h0M119.6 166.9h0M115.1 212.6h0M136.6 179.5h0M98.9 191.9h0M123.4 175.8h0M113.2 193.5h0M101.8 191.8h0M117.7 177.9h0M111.9 210.9h0M112.7 210.9h0M121.3 204.0h0M121.8 196.3h0M123.2 199.6h0M112.7 194.1h0M118.2 218.1h0M140.9 183.8h0M114.1 197.0h0M104.6 196.5h0M116.6 201.4h0M123.3 210.9h0M115.0 204.9h0M136.5 181.2h0M120.9 201.9h0M123.8 182.0h0M124.5 182.9h0" stroke="#8cbb3a" stroke-width="1.00" stroke-linecap="round"/>
<path d="M72.6 204.3h0M72.9 195.3h0M67.9 204.5h0M68.0 199.1h0M74.6 195.9h0M77.5 204.4h0M70.1 203.8h0M67.8 200.1h0M72.7 196.7h0M68.9 196.5h0M77.0 196.3h0M76.5 196.5h0M76.4 198.7h0M76.1 195.9h0M76.4 202.8h0M77.6 193.7h0M78.8 196.0h0M78.0 201.8h0M80.0 200.4h0M73.7 204.6h0M73.1 199.4h0M65.0 198.4h0M67.6 196.0h0M70.9 205.8h0M69.0 193.5h0M79.0 200.0h0M66.0 199.9h0M71.6 203.4h0M65.6 202.7h0M72.8 203.5h0M70.5 192.7h0M76.1 195.4h0M77.7 198.1h0M67.9 202.2h0" stroke="#22b6c1" stroke-width="1.00" stroke-linecap="round"/>
<path d="M68.6 203.6h0M74.6 202.2h0M75.7 200.1h0M67.3 199.8h0M72.3 205.2h0M76.4 204.7h0M73.1 192.8h0M69.3 206.1h0M75.4 197.5h0M71.9 199.8h0M74.5 194.7h0M80.0 200.4h0M68.9 196.6h0M71.3 198.2h0M69.8 206.6h0M76.5 196.4h0" stroke="#7aae28" stroke-width="1.00" stroke-linecap="round"/>
<path d="M83.00,244.00 C83.50,243.00 86.00,243.17 87.00,243.50 C88.00,243.83 88.83,245.00 89.00,246.00 C89.17,247.00 88.83,248.92 88.00,249.50 C87.17,250.08 84.83,250.42 84.00,249.50 C83.17,248.58 82.50,245.00 83.00,244.00Z" fill="#7aae28"/>
<path d="M58.8 212.1h0M77.7 221.3h0M82.9 233.5h0M82.8 263.2h0M55.9 200.1h0M62.2 252.4h0M44.1 230.8h0M66.9 258.3h0M45.9 197.3h0M95.7 272.6h0M47.3 232.1h0M54.3 239.5h0M92.4 267.1h0M75.1 266.8h0M41.3 233.4h0M62.5 212.5h0M80.5 261.6h0M80.6 261.8h0M40.4 205.8h0M59.0 211.5h0M55.5 239.7h0M96.6 266.9h0M34.4 222.8h0M51.1 194.1h0M76.9 253.0h0M41.4 206.4h0M93.2 266.7h0M81.7 221.5h0M56.4 204.1h0M46.6 199.5h0M77.2 267.2h0M34.5 217.7h0M54.7 193.2h0M48.1 196.8h0M76.0 267.5h0M73.9 220.8h0M45.3 233.4h0M59.9 248.7h0M98.2 272.2h0M78.5 237.5h0M34.2 216.8h0M89.5 266.0h0M72.3 261.5h0M64.9 253.0h0M91.0 275.2h0M68.7 214.3h0M74.9 264.1h0M45.2 205.0h0M80.5 236.4h0M32.4 217.6h0M46.4 235.5h0M67.2 216.5h0M67.4 211.7h0M59.9 248.7h0M84.6 265.4h0M46.3 197.1h0M81.5 233.6h0M36.5 213.6h0M69.8 259.7h0M75.6 245.0h0M66.2 250.8h0M59.7 209.1h0M46.2 198.4h0M79.9 260.8h0M65.2 257.3h0M55.6 202.8h0M73.1 219.7h0M80.3 259.9h0M44.2 232.6h0M78.5 255.7h0M65.2 257.1h0M53.4 203.0h0M80.0 260.1h0M55.9 242.6h0M68.0 213.0h0M64.9 254.6h0M94.3 266.0h0M70.1 261.3h0M36.7 225.2h0M34.2 216.2h0M49.4 233.8h0M85.4 265.6h0M48.3 198.0h0M35.7 214.6h0M38.7 208.2h0M81.6 223.0h0M90.0 266.8h0M37.5 209.8h0M78.0 221.1h0M75.3 247.4h0M74.7 220.6h0M44.7 199.6h0M97.1 272.8h0M79.2 270.3h0M58.2 210.4h0M67.6 212.6h0M60.5 212.3h0M78.2 267.2h0M75.5 265.5h0M76.9 265.8h0M60.3 249.9h0M57.7 209.6h0M91.1 273.6h0M55.9 206.7h0M82.5 234.1h0M98.7 268.1h0M96.5 267.5h0M38.5 211.5h0M58.1 244.1h0M45.3 234.3h0M56.5 211.0h0M41.7 233.2h0M93.6 266.3h0M81.6 263.2h0M77.4 220.9h0M64.3 210.6h0M76.1 255.2h0M81.2 261.1h0M43.0 206.6h0M37.5 212.8h0M69.5 217.2h0M34.0 224.9h0M88.1 273.0h0M75.8 240.7h0M37.4 226.4h0M45.8 201.4h0M75.3 253.8h0M82.9 223.8h0M74.9 250.6h0M70.1 216.6h0M76.9 242.6h0M40.3 230.7h0M66.8 213.4h0M74.8 249.9h0M46.8 201.9h0M78.6 234.3h0M101.8 268.9h0M70.1 217.2h0M92.9 271.8h0M74.7 264.6h0M45.9 200.3h0M32.9 222.4h0M46.3 232.0h0M43.8 205.9h0M93.1 272.0h0M82.4 271.7h0M35.5 218.7h0M58.8 209.5h0M34.3 222.8h0M79.9 235.1h0M46.1 198.6h0M52.0 193.6h0M77.5 256.1h0M57.6 210.0h0M45.2 199.1h0M72.6 263.4h0M72.0 218.6h0M57.5 208.0h0M77.4 241.7h0M95.5 273.7h0M52.1 235.2h0M56.0 196.8h0M44.6 232.4h0M70.0 262.6h0M75.1 246.9h0M56.9 241.2h0M63.7 213.4h0M69.0 258.3h0M47.9 196.2h0M60.1 210.1h0M75.7 250.4h0M60.5 212.4h0M93.5 266.6h0M93.6 265.4h0M81.3 235.6h0M72.9 260.9h0M38.1 212.2h0M56.1 202.2h0" stroke="#7aae28" stroke-width="0.90" stroke-linecap="round"/>
<path d="M60.8 252.1h0M38.1 226.4h0M78.9 223.7h0M77.5 246.6h0M35.7 226.9h0M61.9 247.3h0M72.7 221.0h0M81.1 234.3h0M73.2 248.2h0M36.2 210.5h0M76.6 242.9h0M68.4 216.6h0M75.4 246.8h0M52.3 194.5h0M77.2 255.2h0M34.3 217.6h0M35.0 223.5h0M82.0 230.9h0M36.6 227.6h0M67.2 215.8h0M41.2 206.2h0M56.9 209.0h0M42.4 203.8h0M34.0 218.0h0M34.7 211.8h0M46.9 234.3h0M91.2 272.3h0M57.6 208.0h0M45.0 230.8h0M33.1 222.8h0M66.8 214.8h0M87.8 267.4h0M69.9 217.0h0M84.7 273.0h0M71.5 262.7h0M80.6 269.5h0M55.0 195.1h0M47.7 195.6h0M59.8 214.1h0M42.9 205.3h0M58.2 249.7h0M74.8 254.2h0M33.5 218.6h0M71.7 261.5h0M50.3 195.5h0M62.7 211.4h0M87.1 273.3h0M77.8 241.2h0M45.9 200.0h0M40.0 206.6h0M83.1 269.5h0M75.4 251.1h0M66.2 214.4h0M81.4 271.2h0M61.6 248.4h0M38.2 212.7h0M67.3 213.4h0M89.8 272.5h0M91.8 266.3h0M99.1 267.8h0M59.7 210.3h0M82.4 232.7h0M33.2 222.9h0M63.3 213.0h0M75.4 266.9h0M77.8 240.6h0M76.9 240.3h0M76.0 240.8h0M91.8 265.6h0M96.9 272.8h0M71.6 263.9h0M82.4 225.5h0M79.7 226.0h0M74.8 246.6h0M60.5 251.9h0M43.7 201.2h0M81.8 228.4h0M65.4 212.4h0M83.6 264.0h0M76.9 222.8h0M73.6 221.6h0M49.0 235.5h0" stroke="#ee7670" stroke-width="0.90" stroke-linecap="round"/>
<path d="M99.0 189.7h0M98.4 191.1h0M140.5 182.4h0M114.4 170.2h0M113.5 185.5h0M120.3 169.5h0M115.2 174.8h0M116.6 181.4h0M125.9 202.9h0M128.5 178.1h0M122.9 208.5h0M135.3 191.7h0M100.0 184.8h0M106.6 180.8h0M112.3 219.2h0M108.3 218.0h0M118.0 218.9h0M104.1 203.7h0M123.2 203.0h0M125.8 173.7h0M106.6 179.5h0M124.6 212.9h0M122.4 170.9h0M105.5 179.5h0M113.7 169.4h0M132.7 192.8h0M114.9 171.6h0M139.2 187.7h0M113.3 171.8h0M109.4 180.9h0M113.3 186.0h0M137.4 188.7h0M127.8 178.2h0M136.7 188.5h0M107.0 214.2h0M96.2 190.9h0M99.4 180.7h0M112.7 171.0h0M140.6 181.3h0M114.4 167.2h0M114.2 181.8h0M110.7 184.3h0M133.1 188.8h0" stroke="#22b6c1" stroke-width="0.90" stroke-linecap="round"/>
<path d="M106.5 206.9h0M116.2 180.3h0M130.9 195.1h0M105.5 212.5h0M141.3 185.1h0M108.4 180.4h0M127.7 196.0h0M131.8 192.3h0M107.5 180.0h0M110.4 182.7h0M114.4 181.8h0M108.6 217.3h0M124.5 174.5h0M108.1 179.7h0M123.9 172.7h0M123.8 215.0h0M118.8 165.8h0M105.7 208.9h0M114.0 171.2h0M122.3 215.3h0M113.8 185.2h0M119.2 168.3h0M121.2 217.5h0M99.7 193.4h0M126.6 195.2h0M111.5 185.3h0M122.2 171.9h0M112.2 185.8h0M127.4 173.5h0M108.3 205.5h0M96.3 187.4h0M119.2 217.8h0M124.2 204.7h0M116.4 167.5h0M128.7 196.5h0M123.1 208.2h0M132.3 192.0h0M120.9 173.7h0M97.5 188.7h0M132.5 191.8h0M141.3 185.2h0M123.8 214.4h0M104.3 211.4h0M126.4 199.7h0M114.0 181.3h0M116.4 167.0h0M105.1 207.6h0M134.8 179.8h0M122.0 214.7h0M107.6 181.4h0M110.0 179.5h0M129.4 197.7h0M113.8 184.4h0M128.2 196.1h0M98.5 182.1h0M107.2 180.3h0M108.9 181.3h0M133.3 192.2h0M117.0 216.9h0M113.7 172.9h0M106.0 179.8h0M110.8 181.5h0M108.8 180.1h0M101.5 197.2h0M107.9 205.3h0M120.3 166.4h0M96.0 187.9h0M103.6 205.2h0M133.7 192.6h0M104.1 204.0h0M114.1 219.8h0M111.6 184.7h0M128.2 196.5h0M125.3 175.8h0M123.0 205.3h0M119.8 170.6h0M101.6 177.7h0M113.5 183.8h0M102.9 179.6h0M140.7 185.5h0M109.6 181.4h0M126.5 174.6h0M115.4 182.7h0" stroke="#7aae28" stroke-width="0.90" stroke-linecap="round"/>
<path d="M98.4 193.1h0M102.0 180.1h0M104.2 202.5h0M125.7 176.1h0M138.4 190.0h0M102.8 200.8h0M108.0 215.4h0M126.9 211.6h0M119.6 166.4h0M128.9 195.8h0M138.9 180.3h0M125.4 213.2h0M104.4 180.2h0M125.0 198.8h0M135.4 179.3h0M113.1 177.5h0M138.7 187.7h0M106.7 207.1h0M105.0 210.2h0M115.8 174.1h0M104.5 207.5h0M104.6 203.8h0M114.7 173.6h0M107.2 213.6h0M111.8 184.0h0M99.9 194.2h0M128.7 178.9h0M124.7 202.4h0M119.6 167.6h0M110.8 218.1h0M108.5 181.7h0M123.4 208.3h0M104.1 198.0h0M97.6 186.2h0" stroke="#ee7670" stroke-width="0.90" stroke-linecap="round"/>
<path d="M145.3 266.4h0M119.1 267.2h0M93.7 236.0h0M107.0 223.3h0M142.9 206.3h0M95.8 266.2h0M166.8 206.2h0M169.4 223.9h0M110.8 263.7h0M91.9 250.8h0M112.2 223.3h0M143.1 205.0h0M135.7 210.4h0M133.2 216.4h0M148.5 263.3h0M165.7 237.5h0M163.8 203.0h0M144.4 202.7h0M150.4 258.5h0M166.7 205.0h0M93.3 252.7h0M170.2 215.0h0M168.2 228.1h0M128.2 272.8h0M104.9 258.3h0M110.0 263.4h0M167.4 206.1h0M149.3 261.7h0M157.6 247.6h0M102.0 224.2h0M170.8 212.6h0M105.5 257.1h0M170.8 222.5h0M157.0 252.8h0M120.9 223.4h0M162.3 244.5h0M138.1 207.8h0M113.5 264.8h0M144.8 203.2h0M169.4 212.2h0M132.8 216.0h0M111.3 224.5h0M169.3 227.1h0M107.5 255.7h0M159.6 245.0h0M169.7 230.7h0M130.1 273.0h0M94.1 232.5h0M93.7 248.8h0M95.2 234.9h0M167.9 230.4h0M94.8 254.5h0M102.8 258.4h0M110.3 262.5h0M126.6 272.4h0M132.1 215.9h0M93.8 247.6h0M131.9 217.1h0M130.4 272.3h0M145.5 203.1h0M96.8 230.4h0M105.4 223.1h0M92.1 233.6h0M166.5 206.3h0M144.3 265.7h0M140.1 270.3h0M99.4 264.7h0M145.7 264.3h0M126.4 269.1h0M145.9 266.3h0M165.3 237.3h0M95.1 233.0h0M134.3 271.9h0M141.9 268.3h0M113.3 223.5h0M110.1 262.0h0M133.6 215.6h0M110.1 223.4h0M109.2 225.0h0M102.0 223.4h0M168.5 207.8h0M100.2 225.2h0M96.0 232.1h0M157.4 201.0h0M166.1 204.5h0M99.5 263.6h0M130.9 217.9h0M166.3 236.0h0M139.5 207.1h0M132.2 218.1h0M105.7 223.0h0M169.0 213.7h0M166.5 240.0h0M169.7 216.4h0M166.9 235.2h0M150.1 261.5h0M158.6 249.1h0M156.9 201.5h0M137.8 271.3h0M152.1 258.8h0M133.4 271.0h0M106.4 223.8h0M123.6 224.1h0M100.8 262.8h0M105.7 259.3h0M99.0 224.4h0M108.5 262.4h0M163.2 241.7h0M157.1 249.6h0M167.7 235.8h0M127.8 271.1h0M94.4 239.8h0M146.0 264.2h0M106.2 257.0h0M111.1 225.1h0M157.5 249.3h0M95.0 234.5h0M169.6 211.6h0M128.3 222.3h0M98.5 225.4h0M159.4 246.5h0M113.9 263.0h0M166.3 235.7h0M119.7 223.4h0M157.4 200.6h0M117.9 224.2h0M105.4 257.0h0M169.0 213.6h0M169.6 221.7h0M94.3 259.1h0M97.3 266.9h0M93.5 259.8h0M168.5 233.1h0M150.9 202.4h0M164.3 238.5h0M114.4 223.7h0M93.4 260.9h0M95.2 258.3h0M121.4 223.2h0M155.6 251.9h0M93.9 259.0h0M148.2 200.6h0M156.8 199.6h0M149.8 200.9h0M95.3 230.0h0M168.3 233.3h0M108.7 222.8h0M94.2 249.6h0M144.7 265.1h0M160.7 246.5h0M153.6 255.4h0M170.9 209.7h0M91.5 244.9h0M141.1 204.9h0M117.8 223.6h0M93.7 254.3h0M117.0 265.9h0M118.6 223.6h0M128.3 270.1h0M159.5 248.3h0M154.0 202.2h0M148.5 262.6h0M97.1 229.3h0M168.4 230.0h0M131.5 272.0h0M166.5 233.9h0M104.8 222.1h0M169.4 223.9h0M107.6 224.9h0M97.0 224.8h0M155.5 201.8h0M148.8 202.3h0M149.3 260.8h0M161.6 200.1h0M113.2 224.3h0M127.6 271.1h0M167.6 208.9h0M133.7 272.2h0M101.8 223.3h0M169.5 209.3h0M167.5 228.8h0M155.6 253.9h0M170.6 229.8h0M100.8 260.2h0M168.1 208.1h0M96.0 231.8h0M151.8 202.8h0M169.6 220.5h0M148.2 263.9h0M147.1 262.9h0M133.6 217.1h0M129.5 270.9h0M170.8 216.4h0M134.9 272.0h0M100.8 262.8h0M131.4 216.5h0" stroke="#a57fc6" stroke-width="0.90" stroke-linecap="round"/>
<path d="M164.4 239.2h0M110.7 260.4h0M136.0 213.4h0M137.7 271.8h0M123.4 222.4h0M153.9 256.9h0M108.1 260.7h0M125.0 221.5h0M150.8 260.3h0M106.9 223.1h0M136.8 272.4h0M144.3 269.6h0M130.9 272.0h0M126.3 222.0h0M145.3 204.3h0M168.1 233.5h0M114.0 223.4h0M94.7 235.9h0M92.8 249.4h0M94.2 230.8h0M139.5 270.6h0M155.9 252.8h0M151.2 261.0h0M92.8 245.9h0M147.3 263.6h0M129.7 218.1h0M120.4 224.9h0M92.9 250.1h0M97.9 226.7h0M170.7 222.3h0M157.1 249.7h0M152.8 258.6h0M170.2 219.7h0M147.4 266.0h0M100.8 264.1h0M125.7 271.1h0M111.8 223.3h0M93.1 229.4h0M152.1 258.1h0M145.1 268.3h0M93.0 233.7h0M128.0 221.2h0M155.6 251.4h0M132.4 216.6h0M102.7 259.8h0M106.4 259.3h0M106.7 258.1h0M92.5 253.7h0M140.7 207.2h0M106.9 258.6h0M104.0 223.0h0M95.4 229.8h0M101.3 224.7h0M140.7 206.3h0M171.8 227.6h0M166.4 238.2h0M139.3 209.7h0M159.2 246.6h0M93.7 255.8h0M106.1 223.5h0M132.0 214.7h0M131.5 273.5h0M158.0 249.3h0M168.5 228.5h0M145.9 204.7h0M129.3 218.6h0M149.8 262.8h0M104.8 259.0h0M118.4 224.1h0M98.0 224.6h0M144.5 265.0h0M112.7 262.7h0M156.6 199.6h0M170.4 219.0h0M159.7 201.9h0M161.3 247.4h0M95.5 263.6h0M134.1 272.7h0M151.4 259.0h0M110.3 258.8h0M147.6 261.6h0M127.1 220.7h0M118.1 269.1h0M148.3 265.4h0M157.6 254.2h0M116.1 264.9h0M169.4 225.7h0M146.2 264.8h0M151.9 257.6h0M110.6 261.6h0M109.4 259.3h0M97.4 266.4h0M125.3 222.6h0M163.4 237.3h0M172.2 215.0h0M171.6 216.2h0M151.5 261.9h0M96.1 263.1h0M102.3 258.0h0M96.8 226.9h0M114.2 264.3h0M104.3 225.3h0M133.6 212.6h0M141.9 271.0h0" stroke="#22b6c1" stroke-width="0.90" stroke-linecap="round"/>
<path d="M68.7 193.0h0M66.3 192.8h0M66.5 201.2h0M66.5 205.5h0M82.2 202.7h0M65.8 195.9h0M67.0 192.8h0M68.8 191.5h0M72.6 208.9h0M79.8 198.2h0M68.2 191.5h0M76.4 206.0h0M65.7 193.3h0M75.8 207.5h0M69.7 206.9h0M79.7 203.8h0M72.1 190.3h0M77.0 205.2h0M73.7 190.8h0M79.1 194.7h0M65.7 197.2h0M66.1 207.3h0M63.7 197.5h0M73.5 207.8h0M75.5 206.9h0M75.5 206.6h0M69.2 204.3h0M70.0 190.4h0M67.7 191.6h0M80.6 196.6h0" stroke="#22b6c1" stroke-width="0.90" stroke-linecap="round"/>
<path d="M67.1 207.3h0M70.6 191.5h0M78.8 205.2h0M65.0 201.7h0M78.2 205.2h0M72.8 205.5h0M79.6 198.2h0M67.1 205.8h0M74.6 206.6h0M66.3 202.8h0M71.4 190.5h0M69.6 205.6h0M73.3 207.6h0M80.9 197.5h0M78.8 198.1h0M79.4 193.7h0M65.7 203.1h0M66.0 194.9h0M63.7 198.1h0M72.1 191.5h0M66.7 193.8h0M80.2 199.7h0M77.3 206.5h0M78.7 193.7h0M72.4 206.5h0M77.1 192.1h0M68.1 206.5h0M65.6 197.8h0M69.8 191.9h0M75.3 205.8h0" stroke="#a57fc6" stroke-width="0.90" stroke-linecap="round"/>
<path d="M75.00,216.00 C75.58,214.78 78.20,215.03 79.00,215.70 C79.80,216.37 79.88,218.62 79.80,220.00 C79.72,221.38 79.22,223.50 78.50,224.00 C77.78,224.50 76.08,224.33 75.50,223.00 C74.92,221.67 74.42,217.22 75.00,216.00Z" fill="#ee7670"/>
<path d="M90.00,172.50 C90.75,171.72 93.43,171.55 95.00,171.80 C96.57,172.05 98.82,172.97 99.40,174.00 C99.98,175.03 99.40,177.27 98.50,178.00 C97.60,178.73 95.33,178.65 94.00,178.40 C92.67,178.15 91.17,177.48 90.50,176.50 C89.83,175.52 89.25,173.28 90.00,172.50Z" fill="#ee7670"/>
<path d="M96.4 177.0h0M95.5 175.7h0M98.3 177.9h0M95.1 174.4h0M97.5 174.5h0M94.1 178.3h0M92.2 175.4h0M97.5 174.4h0" stroke="#7aae28" stroke-width="1.00" stroke-linecap="round"/>
<path d="M94.8 174.4h0M92.4 174.0h0M97.8 176.9h0M95.4 174.6h0M91.3 175.1h0M94.5 172.6h0M97.8 175.1h0" stroke="#22b6c1" stroke-width="1.00" stroke-linecap="round"/>
<path d="M85.00,180.00 C85.58,179.33 87.67,178.67 88.50,179.00 C89.33,179.33 90.17,181.08 90.00,182.00 C89.83,182.92 88.33,184.33 87.50,184.50 C86.67,184.67 85.42,183.75 85.00,183.00 C84.58,182.25 84.42,180.67 85.00,180.00Z" fill="#a57fc6"/>
<circle cx="86.5" cy="180.5" r="1" fill="#ee7670"/>
<circle cx="154.4" cy="187.3" r="3.3" fill="#a57fc6"/><circle cx="153.6" cy="186.5" r="1.1" fill="#22b6c1"/><circle cx="155.5" cy="188.3" r="0.9" fill="#ee7670"/>
<path d="M102.60,293.60 C103.02,292.63 105.80,288.78 107.70,287.20 C109.60,285.62 112.20,284.62 114.00,284.10 C115.80,283.58 118.07,283.58 118.50,284.10 C118.93,284.62 117.98,286.25 116.60,287.20 C115.22,288.15 112.10,288.83 110.20,289.80 C108.30,290.77 106.47,292.37 105.20,293.00 C103.93,293.63 102.18,294.57 102.60,293.60Z" fill="#a57fc6"/>
<circle cx="117" cy="284.7" r="1.6" fill="#ee7670"/><circle cx="104" cy="292.5" r="1" fill="#7aae28"/>
<path d="M91.0 280.2h0M92.0 283.8h0M95.5 282.3h0M93.3 284.0h0M92.2 284.0h0M91.7 282.5h0M93.8 281.0h0M90.9 275.8h0M96.6 278.6h0M96.3 278.2h0M95.6 282.2h0M93.0 275.3h0M90.5 278.6h0M92.5 275.5h0M91.7 280.4h0M92.7 282.4h0M91.2 282.3h0M96.2 278.0h0M91.4 279.9h0M95.9 279.2h0M94.9 281.6h0M93.4 281.9h0" stroke="#7aae28" stroke-width="1.10" stroke-linecap="round"/>
<path d="M93.4 281.7h0M95.7 279.5h0M92.8 282.1h0M92.9 279.0h0M92.9 279.8h0M94.4 280.4h0M96.4 277.0h0M92.7 280.2h0" stroke="#ee7670" stroke-width="1.10" stroke-linecap="round"/>
<path d="M95.00,268.50 C95.72,267.53 98.22,267.28 98.80,268.20 C99.38,269.12 98.97,272.32 98.50,274.00 C98.03,275.68 96.67,278.30 96.00,278.30 C95.33,278.30 94.67,275.63 94.50,274.00 C94.33,272.37 94.28,269.47 95.00,268.50Z" fill="#7aae28"/>
<circle cx="97" cy="273" r="1.2" fill="#ee7670"/>
<path d="M49.80,250.10 C50.45,249.87 53.28,249.87 53.90,250.10 C54.52,250.33 54.15,251.27 53.50,251.50 C52.85,251.73 50.62,251.73 50.00,251.50 C49.38,251.27 49.15,250.33 49.80,250.10Z" fill="#ee7670"/>
<path d="M51.20,258.30 C51.42,257.13 52.45,257.13 52.80,258.30 C53.15,259.47 53.52,264.13 53.30,265.30 C53.08,266.47 51.85,266.47 51.50,265.30 C51.15,264.13 50.98,259.47 51.20,258.30Z" fill="#ee7670"/>
<circle cx="52.6" cy="263" r="0.6" fill="#22b6c1"/>
<g transform="translate(25.80,162.00) scale(1.0150,1.1165)"><path d="M16.34,5.65 C17.3,5.9 18.2,6.2 18.6,6.48 C19.2,6.9 19.6,7.3 19.54,7.81 C19.6,8.5 19.4,9.0 19.06,9.27 C18.5,9.6 17.8,9.7 17.03,9.62 C15.7,9.5 14.5,9.0 13.2,8.79 C12,8.6 10.8,8.6 9.71,8.58" fill="none" stroke="#2e2e2e" stroke-width="0.54"/><path d="M9.8,8.2 C10.8,8.0 12,7.9 13.6,7.95" fill="none" stroke="#aaa" stroke-width="0.49"/><path d="M0.3,2.93 C0.8,2.2 1.2,1.9 1.7,1.71 C2.6,1.2 3.4,0.6 3.96,0.31 C4.4,0.05 4.8,0.0 5.01,0.07 C5.4,0.3 5.6,0.7 5.7,1.01 C6.2,1.2 6.7,1.2 7.27,1.19 C8.2,1.0 9.1,1.0 10.06,1.01 C11.1,1.1 12,1.3 12.85,1.53 C13.7,1.9 14.4,2.4 14.94,2.93 C15.5,3.4 15.9,3.9 16.16,4.32 C16.4,4.7 16.55,5 16.51,5.3 C16.4,5.8 16.1,6.3 15.64,6.48 C15.1,6.8 14.6,6.9 14.07,7.04 L12.85,7.18 C11.5,7.0 10,6.6 8.67,6.48 C7.8,6.4 6.8,6.35 6.05,6.35 L5.36,6.48 L4.48,7.53 L3.09,7.67 L3.44,7.04 L4.21,6.07 C3.5,5.4 3,4.8 2.39,4.5 C1.8,4.2 1.2,4.0 0.82,3.8 C0.5,3.6 0.2,3.2 0.3,2.93Z" fill="#2e2e2e"/></g>
<text transform="translate(26.80,286.60) scale(1,1.08)" font-size="6.5" fill="#231f20">Samples</text>
<circle cx="28.9" cy="296.2" r="3.9" fill="#ee7670"/>
<text transform="translate(34.40,298.40) scale(1,1.08)" font-size="6.4" fill="#231f20">mFB1</text>
<circle cx="57.1" cy="296.2" r="3.9" fill="#7aae28"/>
<text transform="translate(62.60,298.40) scale(1,1.08)" font-size="6.4" fill="#231f20">mFB2</text>
<circle cx="87.4" cy="296.2" r="3.9" fill="#22b6c1"/>
<text transform="translate(92.10,298.40) scale(1,1.08)" font-size="6.4" fill="#231f20">mETMR_FB1</text>
<circle cx="137.1" cy="296.2" r="3.9" fill="#a57fc6"/>
<text transform="translate(141.80,298.40) scale(1,1.08)" font-size="6.4" fill="#231f20">mETMR_FB2</text>
<path d="M18.2,288.6 L18.2,305.6 L35.4,305.6" fill="none" stroke="#000" stroke-width="0.9"/>
<path d="M18.2,283.6 L16.4,289.1 L20.0,289.1Z" fill="#000"/>
<path d="M40.4,305.6 L34.9,303.8 L34.9,307.40000000000003Z" fill="#000"/>
<text transform="translate(14.9,295.5) rotate(-90) scale(1,1.08)" font-size="6.2" text-anchor="middle" fill="#231f20">tSNE2</text>
<text transform="translate(27.60,314.00) scale(1,1.08)" font-size="6.2" text-anchor="middle" fill="#231f20">tSNE1</text>
<text transform="translate(95.60,313.80) scale(1,1.08)" font-size="6.7" text-anchor="middle" fill="#231f20">n (cells) = 56327</text>
<text transform="translate(194.20,154.30) scale(1,1.08)" font-size="9.8" font-weight="bold" fill="#111">C</text>
<text transform="translate(288.60,154.00) scale(1,1.08)" font-size="9.35" text-anchor="middle" fill="#231f20">cellular populations</text>
<rect x="209.6" y="156.9" width="158" height="144.6" fill="#fff" stroke="#7a7a7a" stroke-width="0.8"/>
<path d="M279.9 224.2h0M285.1 221.1h0M272.3 224.7h0M258.5 211.7h0M282.2 240.9h0M281.7 242.5h0M292.9 230.8h0M259.5 218.0h0M282.6 235.1h0M266.8 240.5h0M287.0 212.0h0M286.0 214.8h0M283.5 226.0h0M265.5 229.2h0M284.4 208.6h0M273.3 242.8h0M294.5 225.3h0M255.3 221.1h0M277.0 208.2h0M264.4 226.3h0M286.6 230.9h0M272.5 221.5h0M285.7 234.7h0M289.2 234.5h0M282.0 206.1h0M261.9 230.3h0M280.5 225.6h0M272.4 233.5h0M280.4 223.2h0M286.2 218.8h0M263.0 218.1h0M298.1 223.3h0M274.6 208.4h0M257.1 227.7h0M284.6 226.2h0" stroke="#3aa3df" stroke-width="0.80" stroke-linecap="round"/>
<path d="M274.0 236.5h0M265.4 228.4h0M287.9 213.3h0M276.4 217.7h0M287.7 220.0h0M271.6 238.5h0M291.9 231.3h0M268.1 211.8h0M266.0 210.0h0M269.6 210.6h0M286.6 229.2h0M286.8 222.9h0M263.0 214.1h0M266.2 229.6h0M285.8 223.5h0M283.5 214.6h0M260.8 230.6h0M282.4 213.7h0M264.4 229.5h0M257.2 224.1h0M274.6 223.4h0M275.9 222.9h0M295.7 225.9h0M267.8 209.9h0M291.6 213.8h0M279.6 209.9h0M256.2 228.1h0M276.9 212.3h0" stroke="#3bab78" stroke-width="0.80" stroke-linecap="round"/>
<path d="M287.4 221.3h0M251.7 224.1h0M293.6 224.6h0M271.3 215.1h0M293.5 229.1h0M271.6 241.1h0M261.2 225.1h0M282.4 233.2h0M273.5 220.6h0M283.7 237.7h0M270.1 214.5h0M253.9 213.1h0M249.4 217.1h0M277.9 216.1h0M253.6 220.7h0M254.1 227.8h0M253.4 224.9h0M264.4 211.5h0M260.1 236.6h0M296.2 226.5h0M255.9 212.7h0M271.3 239.6h0M251.8 214.6h0M278.7 223.6h0M288.4 218.4h0M281.5 228.3h0M255.8 214.1h0M272.5 223.5h0M265.6 215.0h0M267.1 222.7h0M284.5 228.4h0M289.4 232.5h0M287.8 215.3h0M260.9 219.8h0" stroke="#2fb7c1" stroke-width="0.80" stroke-linecap="round"/>
<path d="M272.4 209.6h0M293.8 221.4h0M297.5 225.1h0M264.1 228.9h0M261.9 226.4h0M291.8 228.4h0M281.0 210.1h0M258.9 232.9h0M278.1 225.3h0M281.4 206.7h0M287.9 230.1h0M268.8 232.1h0M280.3 232.3h0M269.0 229.7h0M281.8 231.7h0M256.8 219.0h0M270.9 237.0h0M282.3 212.6h0M287.7 234.6h0M278.0 219.1h0M296.0 225.9h0M286.3 231.0h0M283.7 224.5h0" stroke="#a39f22" stroke-width="0.80" stroke-linecap="round"/>
<path d="M217.50,218.90 C217.70,216.53 220.63,213.97 222.20,211.80 C223.77,209.63 225.52,208.27 226.90,205.90 C228.28,203.53 229.32,199.47 230.50,197.60 C231.68,195.73 232.63,195.30 234.00,194.70 C235.37,194.10 237.52,193.60 238.70,194.00 C239.88,194.40 240.38,195.52 241.10,197.10 C241.82,198.68 242.22,201.25 243.00,203.50 C243.78,205.75 244.73,209.22 245.80,210.60 C246.87,211.98 248.22,211.92 249.40,211.80 C250.58,211.68 251.52,210.30 252.90,209.90 C254.28,209.50 255.92,208.90 257.70,209.40 C259.48,209.90 262.03,211.32 263.60,212.90 C265.17,214.48 266.03,216.72 267.10,218.90 C268.17,221.08 269.28,223.63 270.00,226.00 C270.72,228.37 271.40,230.75 271.40,233.10 C271.40,235.45 270.72,237.93 270.00,240.10 C269.28,242.27 268.57,244.72 267.10,246.10 C265.63,247.48 263.37,247.90 261.20,248.40 C259.03,248.90 256.47,249.22 254.10,249.10 C251.73,248.98 249.17,248.72 247.00,247.70 C244.83,246.68 243.07,244.65 241.10,243.00 C239.13,241.35 237.37,239.65 235.20,237.80 C233.03,235.95 230.47,233.87 228.10,231.90 C225.73,229.93 222.77,228.17 221.00,226.00 C219.23,223.83 217.30,221.27 217.50,218.90Z" fill="#3bab78"/>
<path d="M256.40,194.20 C258.43,194.20 261.08,194.77 262.50,195.80 C263.92,196.83 264.90,198.87 264.90,200.40 C264.90,201.93 263.92,203.97 262.50,205.00 C261.08,206.03 258.43,206.60 256.40,206.60 C254.37,206.60 251.72,206.03 250.30,205.00 C248.88,203.97 247.90,201.93 247.90,200.40 C247.90,198.87 248.88,196.83 250.30,195.80 C251.72,194.77 254.37,194.20 256.40,194.20Z" fill="#3bab78"/>
<path d="M244.90,247.10 C246.05,246.13 251.03,247.48 254.10,247.10 C257.17,246.72 260.82,244.98 263.30,244.80 C265.78,244.62 267.67,244.83 269.00,246.00 C270.33,247.17 271.10,249.68 271.30,251.80 C271.50,253.92 270.97,256.98 270.20,258.70 C269.43,260.42 268.23,261.15 266.70,262.10 C265.17,263.05 262.72,264.40 261.00,264.40 C259.28,264.40 257.93,263.05 256.40,262.10 C254.87,261.15 253.33,260.23 251.80,258.70 C250.27,257.17 248.35,254.83 247.20,252.90 C246.05,250.97 243.75,248.07 244.90,247.10Z" fill="#3aa3df"/>
<path d="M261.00,263.30 C261.97,261.97 265.40,261.00 267.90,261.00 C270.40,261.00 273.70,262.15 276.00,263.30 C278.30,264.45 280.55,266.37 281.70,267.90 C282.85,269.43 283.28,271.17 282.90,272.50 C282.52,273.83 281.13,275.33 279.40,275.90 C277.67,276.47 274.80,276.28 272.50,275.90 C270.20,275.52 267.33,274.75 265.60,273.60 C263.87,272.45 262.87,270.72 262.10,269.00 C261.33,267.28 260.03,264.63 261.00,263.30Z" fill="#b57ac4"/>
<path d="M279.00,190.50 C279.18,188.13 279.12,186.38 280.10,184.60 C281.08,182.82 282.92,180.78 284.90,179.80 C286.88,178.82 289.83,178.42 292.00,178.70 C294.17,178.98 296.53,181.70 297.90,181.50 C299.27,181.30 299.42,179.15 300.20,177.50 C300.98,175.85 301.60,173.18 302.60,171.60 C303.60,170.02 304.82,168.20 306.20,168.00 C307.58,167.80 309.72,169.02 310.90,170.40 C312.08,171.78 311.92,174.92 313.30,176.30 C314.68,177.68 317.35,177.72 319.20,178.70 C321.05,179.68 323.62,180.83 324.40,182.20 C325.18,183.57 324.77,185.52 323.90,186.90 C323.03,188.28 320.78,189.32 319.20,190.50 C317.62,191.68 315.78,192.43 314.40,194.00 C313.02,195.57 311.77,197.73 310.90,199.90 C310.03,202.07 309.80,204.83 309.20,207.00 C308.60,209.17 308.40,211.23 307.30,212.90 C306.20,214.57 304.48,215.82 302.60,217.00 C300.72,218.18 298.17,219.77 296.00,220.00 C293.83,220.23 291.45,219.58 289.60,218.40 C287.75,217.22 286.28,214.98 284.90,212.90 C283.52,210.82 282.28,208.25 281.30,205.90 C280.32,203.55 279.38,201.37 279.00,198.80 C278.62,196.23 278.82,192.87 279.00,190.50Z" fill="#2fb7c1"/>
<path d="M270.70,174.50 C271.45,173.65 273.83,172.87 276.00,172.70 C278.17,172.53 282.53,172.70 283.70,173.50 C284.87,174.30 284.12,176.63 283.00,177.50 C281.88,178.37 278.92,178.65 277.00,178.70 C275.08,178.75 272.55,178.50 271.50,177.80 C270.45,177.10 269.95,175.35 270.70,174.50Z" fill="#2fb7c1"/>
<path d="M267.10,191.70 C267.97,189.73 270.12,189.50 271.90,189.30 C273.68,189.10 276.43,189.32 277.80,190.50 C279.17,191.68 279.32,194.23 280.10,196.40 C280.88,198.57 281.32,200.93 282.50,203.50 C283.68,206.07 286.02,209.55 287.20,211.80 C288.38,214.05 289.78,215.50 289.60,217.00 C289.42,218.50 287.68,219.70 286.10,220.80 C284.52,221.90 282.00,223.33 280.10,223.60 C278.20,223.87 276.27,223.50 274.70,222.40 C273.13,221.30 271.77,219.17 270.70,217.00 C269.63,214.83 268.97,212.05 268.30,209.40 C267.63,206.75 266.90,204.05 266.70,201.10 C266.50,198.15 266.23,193.67 267.10,191.70Z" fill="#3aa3df"/>
<path d="M283.00,217.00 C284.17,216.17 287.67,215.17 289.00,216.00 C290.33,216.83 291.50,220.67 291.00,222.00 C290.50,223.33 287.50,224.17 286.00,224.00 C284.50,223.83 282.50,222.17 282.00,221.00 C281.50,219.83 281.83,217.83 283.00,217.00Z" fill="#3bab78"/>
<path d="M278.10,235.60 C279.32,232.52 281.32,230.23 283.80,228.70 C286.28,227.17 289.92,227.17 293.00,226.40 C296.08,225.63 299.22,225.05 302.30,224.10 C305.38,223.15 308.82,221.85 311.50,220.70 C314.18,219.55 316.10,219.13 318.40,217.20 C320.70,215.27 323.18,211.40 325.30,209.10 C327.42,206.80 328.80,204.55 331.10,203.40 C333.40,202.25 336.23,201.63 339.10,202.20 C341.97,202.77 346.00,204.48 348.30,206.80 C350.60,209.12 352.20,212.83 352.90,216.10 C353.60,219.37 353.07,222.75 352.50,226.40 C351.93,230.05 350.38,234.53 349.50,238.00 C348.62,241.47 348.17,244.13 347.20,247.20 C346.23,250.27 345.23,253.33 343.70,256.40 C342.17,259.47 340.30,263.10 338.00,265.60 C335.70,268.10 332.78,270.17 329.90,271.40 C327.02,272.63 323.77,273.00 320.70,273.00 C317.63,273.00 314.57,272.25 311.50,271.40 C308.43,270.55 305.38,269.07 302.30,267.90 C299.22,266.73 295.70,264.40 293.00,264.40 C290.30,264.40 288.20,267.70 286.10,267.90 C284.00,268.10 281.93,267.13 280.40,265.60 C278.87,264.07 277.55,261.77 276.90,258.70 C276.25,255.63 276.30,251.05 276.50,247.20 C276.70,243.35 276.88,238.68 278.10,235.60Z" fill="#a39f22"/>
<path d="M347.1 240.0h0M336.8 202.3h0M348.9 210.1h0M347.0 205.6h0M332.5 270.0h0M336.3 266.7h0M288.5 227.6h0M294.9 226.0h0M299.9 224.9h0M301.2 224.9h0M331.4 203.2h0M349.4 239.2h0M309.5 268.9h0M321.7 213.5h0M351.1 231.6h0M317.1 219.1h0M278.8 259.6h0M284.4 266.9h0M304.3 223.2h0M304.6 221.9h0M351.2 238.5h0M301.3 266.3h0M321.6 272.4h0M348.8 208.0h0M326.7 205.4h0M348.3 242.6h0M349.0 209.3h0M320.6 214.4h0M333.1 202.0h0M283.1 230.0h0M276.9 251.6h0M302.3 267.5h0M337.3 265.6h0M289.0 227.8h0M276.0 244.9h0M345.2 252.5h0M350.8 230.3h0M276.7 256.9h0M351.2 209.4h0M301.7 268.7h0M283.9 229.1h0M336.6 264.8h0M333.0 269.5h0M325.2 273.1h0M276.2 251.0h0M319.1 272.2h0M349.8 238.0h0M310.5 222.3h0M328.2 207.2h0M289.8 227.6h0M329.2 205.4h0M285.7 265.9h0M346.1 205.1h0M348.8 210.0h0M321.6 211.8h0M345.1 253.2h0M353.4 215.5h0M304.8 270.2h0M353.2 228.6h0M351.5 217.0h0M293.8 226.1h0M334.8 270.4h0M288.4 266.1h0M342.6 257.9h0M353.7 225.8h0M324.6 212.0h0M278.6 262.9h0M337.2 201.8h0M352.3 220.9h0M327.2 206.5h0M344.0 253.1h0M328.3 208.6h0M324.5 211.4h0M354.3 224.8h0M298.2 267.8h0M334.2 268.0h0M316.7 218.2h0M343.5 257.9h0M352.6 221.7h0M346.6 245.1h0M276.6 243.3h0M340.0 202.5h0M284.9 267.1h0M276.7 234.3h0M348.2 241.0h0M351.5 213.4h0M349.7 235.0h0M323.8 273.3h0M292.9 265.0h0M278.5 260.5h0M286.6 266.7h0M277.2 241.1h0M323.6 210.2h0M351.5 212.0h0M346.4 248.9h0M347.8 246.0h0M295.5 264.9h0M349.6 238.8h0M323.1 211.3h0M352.0 223.2h0M307.9 222.1h0M333.1 202.7h0M277.8 259.7h0M285.7 269.1h0M322.5 211.4h0M350.0 233.0h0M276.8 251.1h0M283.7 266.9h0M350.7 223.1h0M349.4 208.2h0M301.0 224.3h0M325.6 209.9h0M280.9 233.6h0M341.9 257.7h0M329.3 200.5h0M354.2 217.4h0M330.7 205.0h0M285.3 267.7h0M340.8 258.7h0M276.3 242.2h0M333.5 267.5h0M317.8 272.9h0M346.9 249.7h0M344.2 204.9h0M285.2 267.7h0M295.8 225.0h0M318.8 216.0h0M344.5 256.4h0M353.0 230.9h0M278.8 235.7h0M278.1 234.5h0M333.6 270.0h0M350.0 239.9h0M344.4 205.6h0M282.8 232.1h0M276.4 245.5h0M333.8 268.7h0M344.8 250.7h0M306.9 270.0h0M277.3 249.2h0M350.4 233.1h0M277.7 245.2h0M277.6 242.5h0M277.4 243.3h0M298.3 224.5h0M336.5 203.0h0M318.8 271.2h0M344.5 256.7h0M328.8 206.3h0M279.7 233.3h0M293.0 265.1h0M316.0 219.2h0M321.9 274.6h0M332.5 203.1h0M279.9 234.9h0M327.2 206.0h0M344.8 205.3h0M294.7 226.5h0M345.1 254.8h0M296.2 266.2h0M351.4 216.6h0M341.6 202.9h0M330.5 204.5h0M348.9 242.0h0M339.5 201.4h0M289.3 265.7h0M328.7 271.6h0M351.4 230.1h0" stroke="#a39f22" stroke-width="0.90" stroke-linecap="round"/>
<path d="M302.9 224.5h0M276.0 242.5h0M351.6 211.1h0M354.1 217.9h0M290.6 266.3h0M348.6 234.6h0M309.6 271.3h0M351.0 227.5h0M342.2 257.8h0M299.2 264.9h0M328.2 270.6h0M328.0 269.4h0M307.8 270.9h0M351.8 233.3h0M286.3 227.1h0M313.2 220.5h0M337.4 203.3h0M303.0 223.8h0M315.9 218.0h0M329.1 271.6h0M343.7 256.9h0M308.5 222.0h0M292.2 264.4h0M323.9 207.6h0M350.8 214.4h0M349.7 241.2h0M298.3 224.4h0M329.8 272.7h0M305.1 223.3h0M277.7 241.7h0M343.5 256.8h0M327.5 207.4h0M348.3 237.5h0M351.6 231.2h0M310.2 272.2h0M299.8 224.1h0M348.0 247.6h0M346.4 248.8h0M277.9 246.9h0M287.0 264.6h0M283.1 230.0h0M326.0 206.8h0M292.1 265.6h0M278.5 250.8h0M348.4 233.2h0M333.5 202.7h0M349.7 233.8h0M284.9 228.2h0M291.4 266.4h0M342.8 263.2h0M352.0 228.5h0M344.7 251.4h0M282.1 266.7h0M351.7 218.6h0M349.8 240.4h0M293.2 226.4h0M351.9 214.0h0M345.5 250.6h0M325.3 209.7h0M321.6 213.8h0M331.0 270.0h0M339.0 262.2h0M343.2 204.2h0M352.8 217.5h0M334.3 202.4h0M278.4 237.2h0M294.7 223.2h0M279.2 262.7h0M311.3 222.2h0M345.8 250.8h0M276.5 235.3h0M345.7 205.0h0M352.0 224.1h0M286.0 227.5h0M281.8 229.7h0M301.9 223.7h0M277.1 252.8h0M299.7 266.4h0M349.4 211.4h0M339.3 202.2h0M309.6 222.9h0M342.5 261.8h0M275.8 256.0h0M303.9 268.2h0M290.6 226.8h0M347.1 247.9h0M344.8 249.5h0M342.1 261.1h0M280.7 265.6h0M288.8 267.9h0M332.2 270.6h0M301.2 265.8h0" stroke="#3bab78" stroke-width="0.90" stroke-linecap="round"/>
<path d="M225.6 231.1h0M228.4 234.0h0M266.7 216.6h0M227.0 233.7h0M269.3 243.8h0M270.5 236.9h0M229.2 198.1h0M253.1 250.0h0M271.3 230.7h0M247.2 248.5h0M265.4 247.8h0M221.5 226.2h0M220.8 220.1h0M220.9 226.5h0M260.9 210.0h0M221.1 214.9h0M245.4 248.0h0M241.4 242.1h0M264.8 244.8h0M248.8 248.7h0M220.1 226.0h0M221.2 216.1h0M267.1 245.0h0M231.3 196.5h0M241.0 200.3h0M232.7 194.4h0M225.9 230.0h0M248.0 210.7h0M233.0 194.9h0M253.4 250.1h0M240.4 241.8h0M249.5 210.8h0M236.6 193.1h0M271.1 234.5h0M225.4 229.2h0M224.7 207.7h0M234.9 195.3h0M255.1 211.2h0M241.3 197.7h0M222.6 212.7h0M244.1 208.1h0M262.6 248.2h0M239.8 195.9h0M243.5 204.0h0M270.3 243.1h0M260.4 210.0h0M248.3 247.0h0M271.1 236.9h0M252.5 208.2h0M229.2 201.7h0M227.5 202.5h0M243.6 202.5h0M242.6 200.8h0M224.6 210.4h0M269.5 237.5h0M252.9 208.9h0M242.1 242.9h0M256.0 210.4h0M247.9 211.5h0M237.7 240.4h0M270.0 223.1h0M225.6 206.1h0M231.7 200.5h0M260.4 250.1h0M242.8 204.9h0M224.1 229.3h0M269.9 229.0h0M222.9 210.8h0M240.7 199.7h0M224.7 207.7h0M220.4 223.4h0M227.4 206.1h0M237.8 194.5h0M221.3 216.4h0M265.8 217.1h0M229.8 234.4h0M262.4 214.1h0M243.3 202.2h0M267.6 221.6h0M240.6 196.2h0M221.6 217.3h0M225.6 210.2h0M241.0 201.2h0M267.3 218.2h0M236.6 238.7h0M244.6 209.4h0M216.1 218.6h0M251.0 210.8h0M257.7 209.7h0M253.9 211.1h0M252.3 247.8h0M236.4 190.8h0M248.2 248.9h0M265.9 216.7h0M270.4 236.9h0M228.7 198.9h0M230.0 198.9h0M226.7 232.5h0M271.3 231.7h0M246.6 205.4h0M227.3 205.0h0M253.7 209.3h0M244.2 207.8h0M269.4 241.3h0M224.9 229.0h0M240.7 202.0h0M240.8 243.3h0M232.3 235.0h0M263.6 246.9h0M218.7 213.2h0M233.3 236.9h0M241.5 245.3h0M270.7 239.1h0M237.1 240.2h0M246.1 212.2h0M246.0 244.9h0M232.9 195.2h0M224.4 226.5h0M245.3 209.1h0M227.8 203.6h0M244.1 204.6h0M249.9 250.4h0M241.1 242.1h0M267.5 220.6h0M242.9 196.6h0M229.6 201.1h0M222.6 209.8h0M226.0 228.5h0M268.6 223.3h0M265.3 218.5h0M251.8 208.7h0M268.3 224.7h0M261.7 212.7h0M249.6 209.5h0M267.7 220.8h0" stroke="#3bab78" stroke-width="0.90" stroke-linecap="round"/>
<path d="M271.3 228.0h0M234.5 195.8h0M220.9 214.4h0M232.3 196.6h0M245.4 211.3h0M218.9 219.8h0M232.2 235.5h0M219.5 228.1h0M242.2 203.0h0M231.8 194.7h0M233.7 194.6h0M243.4 203.6h0M271.5 239.5h0M258.2 247.0h0M233.5 235.2h0M254.3 208.7h0M237.8 238.7h0M221.5 210.6h0M236.1 194.4h0M248.8 212.1h0M240.8 200.8h0M226.8 230.6h0M218.6 223.5h0M268.1 247.6h0M242.4 199.3h0M265.4 216.3h0M223.7 207.6h0M263.6 246.8h0M270.3 231.3h0M241.4 199.6h0M269.0 227.0h0M232.9 234.1h0M243.7 244.3h0M243.7 201.6h0M267.4 245.4h0M266.6 246.3h0M270.1 224.2h0M233.7 197.1h0M234.1 237.4h0M230.5 198.5h0M241.8 201.2h0M265.5 246.3h0M250.4 210.7h0M243.0 246.8h0M271.3 230.8h0M269.9 226.5h0M243.3 206.1h0M271.7 231.0h0M255.5 251.2h0M253.7 207.5h0M235.2 194.4h0M269.1 227.9h0M271.9 230.0h0M268.1 223.6h0M267.8 245.5h0M238.8 197.2h0M242.9 208.8h0M254.9 248.0h0M269.1 221.4h0M231.8 198.8h0M271.8 233.0h0M240.6 198.4h0M235.1 239.9h0M240.3 198.5h0M235.7 195.2h0" stroke="#3aa3df" stroke-width="0.90" stroke-linecap="round"/>
<path d="M323.6 186.3h0M310.2 206.0h0M311.8 174.6h0M281.7 202.6h0M294.2 219.4h0M321.4 191.3h0M277.8 189.7h0M280.2 186.9h0M279.1 202.2h0M283.5 182.5h0M282.1 181.2h0M285.7 216.1h0M314.2 194.5h0M292.4 179.4h0M321.1 190.0h0M318.3 192.5h0M278.4 188.3h0M282.3 180.7h0M316.3 177.2h0M286.4 179.6h0M322.9 180.8h0M282.8 181.0h0M320.2 180.6h0M280.7 197.9h0M279.1 193.8h0M322.8 184.5h0M316.2 195.7h0M310.0 169.1h0M279.8 201.4h0M316.1 177.4h0M301.4 218.2h0M318.4 190.8h0M312.8 174.4h0M288.1 178.0h0M287.2 179.2h0M320.6 179.2h0M319.3 190.7h0M311.7 205.0h0M277.8 197.5h0M309.0 169.4h0M295.1 180.8h0M296.5 180.3h0M321.8 189.3h0M280.3 193.8h0M314.6 195.9h0M293.3 179.3h0M282.0 207.9h0M290.2 179.7h0M281.7 210.2h0M308.1 213.3h0M277.7 199.5h0M322.8 185.0h0M302.2 215.6h0M321.2 178.9h0M317.8 194.1h0M312.5 198.9h0M319.8 187.3h0M313.5 194.5h0M278.3 192.0h0M279.4 201.0h0M300.5 178.6h0M280.7 184.5h0M305.5 213.2h0M311.7 173.1h0M294.9 220.3h0M307.9 212.7h0M321.0 179.1h0M319.2 189.1h0M280.4 183.2h0M278.2 193.5h0M312.2 206.3h0M308.0 169.5h0M278.1 200.3h0M284.4 212.1h0M320.9 189.7h0M285.7 211.5h0M285.5 212.1h0M281.3 204.5h0M278.0 201.5h0M280.1 200.4h0M309.8 170.4h0M318.7 190.6h0M310.7 172.2h0M295.6 220.4h0M301.5 174.9h0M311.7 174.6h0M282.1 203.6h0M281.8 182.9h0M312.1 170.3h0M282.1 208.5h0M298.0 183.3h0M316.5 192.1h0M325.8 185.5h0M306.3 166.1h0M278.0 189.4h0M303.8 168.1h0M284.8 213.5h0M279.2 196.8h0M286.7 179.2h0M326.0 181.5h0M279.9 203.6h0M280.7 187.6h0M321.2 178.1h0M324.0 185.0h0M316.3 177.7h0M317.1 176.7h0M279.5 193.9h0M304.6 170.1h0M298.2 178.9h0M323.0 185.8h0M293.1 181.8h0M305.2 214.0h0M278.9 192.0h0M323.8 184.6h0M321.4 180.1h0M281.9 208.9h0M278.1 201.2h0M312.8 175.8h0M322.2 183.5h0M283.0 210.4h0M297.3 182.0h0M310.1 198.3h0M279.6 186.4h0M305.3 167.2h0M301.4 171.5h0M309.9 208.9h0M322.2 182.0h0M305.9 216.3h0M282.5 182.1h0M324.7 185.6h0M280.0 187.9h0M278.5 202.3h0M310.9 200.2h0M278.1 194.8h0M302.4 215.4h0M280.4 201.8h0M307.4 208.4h0M312.4 173.1h0" stroke="#2fb7c1" stroke-width="0.90" stroke-linecap="round"/>
<path d="M307.5 211.6h0M301.5 177.9h0M278.8 191.3h0M289.8 219.9h0M290.7 216.9h0M278.2 188.1h0M303.8 170.6h0M320.0 179.3h0M311.8 172.6h0M312.2 175.3h0M316.3 177.1h0M278.4 195.1h0M308.9 205.4h0M312.7 199.8h0M286.8 215.5h0M315.6 178.2h0M310.9 169.8h0M316.9 179.0h0M320.2 188.4h0M282.4 180.8h0M279.7 189.5h0M298.1 180.9h0M293.2 218.6h0M309.8 205.4h0M315.5 178.6h0M278.7 196.7h0M298.7 179.5h0M280.7 206.8h0M279.6 201.3h0M289.0 218.6h0M311.3 170.4h0M314.3 194.8h0M278.2 195.9h0M286.0 213.5h0M295.6 221.3h0M326.2 183.7h0M321.7 188.1h0M322.6 178.7h0M313.3 195.1h0M279.1 187.4h0M309.0 171.0h0M280.7 187.7h0M310.6 202.5h0M282.3 206.0h0M322.7 186.6h0M322.7 183.3h0M280.5 203.7h0M279.3 197.5h0M281.3 206.1h0M320.7 180.2h0M285.4 180.0h0M306.9 170.2h0M312.0 172.4h0M322.9 188.4h0M321.9 181.3h0M286.4 180.4h0M319.8 180.0h0M287.4 214.2h0M281.3 185.5h0M279.5 190.1h0M316.0 193.8h0M311.1 200.2h0" stroke="#a39f22" stroke-width="0.90" stroke-linecap="round"/>
<path d="M287.3 218.2h0M280.1 199.0h0M272.0 215.7h0M266.0 204.7h0M289.6 212.2h0M277.1 190.5h0M283.5 222.2h0M288.0 214.3h0M285.7 210.6h0M285.6 221.5h0M281.3 198.1h0M269.4 207.3h0M267.5 203.3h0M274.0 222.0h0M267.3 196.9h0M283.0 205.7h0M283.6 205.3h0M269.4 204.8h0M268.8 206.5h0M284.0 206.5h0M273.9 218.7h0M286.0 221.5h0M267.5 208.9h0M273.8 219.0h0M287.5 212.6h0M287.5 218.7h0M279.9 202.5h0M267.2 214.1h0M273.9 189.7h0M268.7 189.6h0M288.5 214.0h0M267.1 207.6h0M272.0 224.0h0M274.5 190.7h0M282.2 205.3h0M268.5 192.4h0M265.9 200.5h0M277.4 191.3h0M289.0 219.2h0M278.3 224.5h0M281.4 196.2h0M285.1 203.5h0M281.5 203.9h0M268.9 213.1h0M270.7 216.6h0M266.0 192.8h0M286.4 212.4h0M287.2 210.3h0M277.6 190.2h0M279.1 223.2h0M266.5 194.2h0M286.8 213.0h0M266.4 199.1h0M267.5 197.7h0M284.7 211.7h0M286.2 219.9h0M283.2 207.1h0M280.4 223.4h0M273.6 189.7h0M270.2 189.7h0M272.5 219.1h0M276.9 188.5h0M266.1 209.4h0M265.6 202.0h0M284.8 219.3h0M281.2 193.2h0M268.7 190.3h0M280.6 198.1h0M287.9 213.2h0M289.0 218.0h0M282.9 203.0h0M275.4 222.1h0M279.5 202.1h0M271.1 219.1h0M265.8 193.0h0M276.3 189.9h0M281.1 198.6h0M264.6 194.8h0M267.5 200.6h0M267.8 196.2h0" stroke="#3aa3df" stroke-width="0.90" stroke-linecap="round"/>
<path d="M259.8 207.1h0M256.5 206.8h0M252.9 195.8h0M262.6 198.4h0M259.9 195.2h0M261.9 196.6h0M252.8 205.0h0M259.7 205.6h0M247.5 201.0h0M256.7 194.0h0M263.8 196.7h0M258.2 205.7h0M264.1 200.0h0M252.7 204.6h0M264.3 202.9h0M250.7 196.0h0M251.6 206.0h0M257.0 193.7h0M264.4 196.3h0M249.3 205.3h0M253.5 194.3h0M256.1 195.7h0M254.9 195.7h0M261.6 194.2h0M262.9 203.4h0M248.9 203.8h0M255.5 195.0h0M248.2 201.5h0M256.5 194.7h0M248.0 200.5h0M258.7 194.0h0M259.2 205.1h0M252.9 205.1h0M262.8 195.3h0M260.2 205.1h0M248.2 200.1h0M262.5 196.0h0M250.6 198.0h0M258.1 205.3h0M263.3 198.9h0M260.6 195.1h0M265.0 200.7h0M249.6 203.8h0M251.6 197.0h0M256.2 194.2h0M252.5 204.0h0M264.3 198.4h0M261.3 194.3h0M252.0 205.3h0M264.7 199.9h0" stroke="#3bab78" stroke-width="0.90" stroke-linecap="round"/>
<path d="M249.5 247.3h0M267.5 245.2h0M256.7 261.3h0M270.9 258.5h0M255.9 263.0h0M270.7 257.5h0M247.2 247.1h0M245.7 249.3h0M246.3 250.8h0M246.7 248.1h0M251.1 247.4h0M269.2 246.9h0M269.1 261.9h0M268.3 244.4h0M259.5 245.3h0M266.1 244.6h0M268.3 245.6h0M269.1 246.1h0M252.6 259.2h0M267.2 258.8h0M269.4 259.9h0M247.8 252.1h0M246.3 249.2h0M256.8 246.0h0M250.4 257.8h0M250.7 246.6h0M260.2 263.1h0M254.4 259.3h0M269.3 262.1h0M256.0 260.9h0M259.4 262.8h0M259.4 263.8h0M269.6 250.7h0M259.7 247.4h0M245.7 250.8h0M250.3 258.7h0M272.2 252.2h0M259.8 247.1h0M247.7 252.6h0M271.5 248.2h0M243.4 247.6h0M245.7 249.2h0M254.3 261.4h0M267.5 260.7h0M257.6 247.6h0M260.0 264.2h0M251.0 245.0h0M244.9 250.1h0M270.7 259.2h0M269.9 257.7h0M244.7 246.8h0M268.4 260.9h0M260.9 244.7h0M256.7 262.8h0M263.4 262.8h0M258.2 261.6h0M254.3 246.3h0M262.3 245.1h0M267.7 263.0h0M253.5 247.7h0" stroke="#3aa3df" stroke-width="0.90" stroke-linecap="round"/>
<path d="M349.7 212.1h0M296.7 232.0h0M327.5 215.3h0M343.9 230.3h0M345.2 232.5h0M309.5 230.7h0M315.6 230.6h0M324.6 233.6h0M333.0 248.6h0M331.1 269.8h0M339.1 245.3h0M350.4 227.1h0M340.8 246.4h0M281.5 249.3h0M294.3 240.0h0M330.2 245.3h0M314.4 237.6h0M302.7 264.2h0M306.0 248.6h0M316.6 262.4h0M328.9 259.3h0M349.8 228.7h0M285.2 236.2h0M292.4 250.9h0M285.3 261.9h0M317.6 243.7h0M296.5 263.7h0M347.3 245.4h0M286.3 254.3h0M333.2 203.1h0M310.2 259.5h0M304.8 235.9h0M342.1 205.8h0M310.4 259.9h0M311.0 229.4h0M284.9 242.0h0M284.9 235.1h0M332.5 228.2h0M319.1 271.2h0M290.9 229.9h0M332.6 205.3h0M306.5 266.6h0M347.7 218.3h0M285.0 231.8h0M280.7 240.5h0M292.7 244.7h0M289.7 259.5h0M312.9 237.4h0M303.0 255.7h0M296.6 227.8h0M333.8 238.7h0M329.4 209.0h0M347.0 244.0h0M347.6 222.9h0M314.9 255.3h0M319.3 218.6h0M299.3 242.7h0M292.5 236.2h0M344.9 224.8h0M307.2 240.2h0M289.1 236.4h0M329.4 233.0h0M321.8 240.5h0M316.1 261.6h0M279.6 247.1h0M347.9 229.3h0M304.5 230.0h0M308.2 238.0h0M349.2 238.3h0M289.3 242.8h0M333.5 263.0h0M339.2 220.4h0M325.5 262.9h0" stroke="#b5b035" stroke-width="0.90" stroke-linecap="round"/>
<path d="M323.3 233.9h0M349.8 224.8h0M290.2 241.3h0M280.2 264.6h0M341.4 243.5h0M319.8 251.6h0M306.5 266.0h0M347.2 238.0h0M300.0 228.7h0M278.4 242.9h0M318.0 232.9h0M317.4 258.6h0M312.6 253.7h0M277.9 237.6h0M324.6 244.5h0M278.3 255.5h0M302.8 254.2h0M324.8 272.0h0M289.9 259.0h0M318.6 227.8h0M316.6 226.8h0M319.1 263.4h0M335.0 210.2h0M346.0 231.4h0M332.0 266.0h0M299.9 240.5h0M312.0 222.0h0M302.4 229.2h0M321.0 234.7h0M293.1 235.6h0M293.7 239.7h0M318.6 237.9h0M335.9 211.2h0M286.5 228.6h0M331.1 251.4h0M296.7 242.5h0M315.6 266.2h0M334.4 258.4h0M326.7 219.3h0M323.5 249.5h0M333.2 203.7h0M308.0 250.2h0M322.0 250.1h0M284.4 232.0h0M337.2 231.4h0M338.9 236.6h0M317.6 272.0h0M283.1 254.1h0M320.1 259.2h0M282.4 238.4h0M330.9 257.8h0M315.9 240.8h0M310.9 259.1h0M325.0 223.3h0M283.6 235.9h0M320.5 268.3h0M331.2 215.2h0M322.6 248.5h0M313.7 231.6h0M293.6 236.9h0M324.8 239.9h0M341.4 236.4h0M310.7 222.7h0M325.8 238.1h0M340.9 214.7h0M296.1 256.6h0M317.0 246.9h0M291.1 263.2h0M278.5 250.5h0M324.5 219.5h0M338.1 216.7h0M284.1 256.9h0" stroke="#3bab78" stroke-width="0.90" stroke-linecap="round"/>
<path d="M285.7 248.3h0M337.1 207.8h0M315.9 222.0h0M302.7 266.0h0M311.7 262.1h0M330.6 211.8h0M340.2 204.9h0M292.0 236.9h0M280.3 251.0h0M341.2 251.8h0M350.9 215.7h0M330.5 208.3h0M290.1 237.9h0M316.7 241.1h0M326.3 225.0h0M285.1 266.4h0M346.7 213.5h0M308.2 227.3h0M317.7 230.1h0M338.2 249.7h0M334.7 213.6h0M347.8 226.1h0M310.8 252.9h0M327.5 234.1h0M303.6 258.7h0M333.7 226.9h0M315.4 267.2h0M322.2 252.2h0M295.9 233.7h0M301.4 257.7h0M317.0 270.5h0M324.3 225.9h0M335.1 208.9h0M300.6 261.1h0M352.3 215.9h0M297.9 245.2h0M338.4 257.0h0M316.6 264.8h0M339.9 210.6h0M293.5 247.4h0M350.2 214.3h0M313.3 232.6h0M325.0 211.6h0M321.1 261.3h0M336.6 236.7h0M335.0 214.6h0M337.8 238.0h0M348.7 239.1h0M314.6 264.0h0M322.2 262.3h0M297.3 256.5h0M336.2 218.8h0M326.5 260.0h0M344.6 245.3h0M330.5 242.6h0M313.5 269.3h0M300.2 263.3h0M307.7 229.3h0M303.9 230.4h0M334.1 229.9h0M339.5 243.5h0M345.2 246.9h0M343.5 239.6h0M332.6 208.6h0M334.6 247.3h0M309.1 245.8h0M278.9 245.6h0M283.3 250.9h0M340.1 261.6h0M328.9 219.6h0M291.1 261.0h0M342.9 226.9h0M286.7 247.8h0M286.0 252.9h0M296.6 228.6h0" stroke="#8f8b14" stroke-width="0.90" stroke-linecap="round"/>
<path d="M305.9 190.0h0M308.9 200.3h0M303.2 203.0h0M291.5 197.8h0M289.8 196.4h0M310.2 189.5h0M297.6 208.1h0M309.0 185.6h0M303.6 180.2h0M313.0 188.9h0M280.4 202.0h0M310.8 193.0h0M301.6 208.4h0M299.7 189.4h0M296.6 189.8h0M312.5 188.6h0M295.4 219.3h0M321.3 183.3h0M293.2 214.1h0M296.9 205.7h0M307.3 190.2h0M307.9 181.2h0M280.5 188.3h0M298.2 203.7h0M314.5 184.2h0M291.9 193.7h0M303.7 189.9h0M288.0 206.2h0M290.8 216.2h0M295.1 198.4h0M293.8 202.9h0M306.9 190.3h0M309.7 201.7h0M317.1 181.8h0M312.5 192.1h0M283.8 206.1h0M292.5 195.6h0M303.7 199.1h0M304.9 200.9h0M297.2 206.5h0M291.2 205.7h0M306.4 210.3h0M285.7 206.0h0M303.7 198.6h0" stroke="#1fa5b0" stroke-width="0.90" stroke-linecap="round"/>
<path d="M295.3 205.7h0M299.2 179.5h0M279.9 200.6h0M295.5 207.5h0M323.0 182.6h0M311.6 198.7h0M294.0 187.2h0M303.6 214.5h0M307.1 174.2h0M294.7 218.7h0M291.0 196.5h0M299.2 185.8h0M312.9 196.4h0M306.7 170.7h0M283.9 200.8h0M323.9 182.2h0M287.1 195.7h0M293.5 186.2h0M300.7 196.8h0M303.5 203.9h0M301.8 173.7h0M323.9 182.4h0M289.1 198.5h0M284.9 187.8h0M303.3 178.9h0M292.4 210.6h0M303.1 178.3h0M309.3 173.8h0M307.7 194.6h0M279.4 193.8h0M288.3 194.0h0M290.2 187.2h0M286.4 214.3h0M297.3 202.7h0M306.7 179.8h0M314.0 189.2h0M281.3 187.5h0" stroke="#bfa020" stroke-width="0.90" stroke-linecap="round"/>
<path d="M305.0 210.3h0M309.7 176.5h0M303.9 181.4h0M281.5 189.6h0M286.4 179.7h0M283.7 195.5h0M310.4 197.0h0M290.5 189.9h0M296.1 208.9h0M291.4 216.4h0M288.9 181.7h0M300.3 189.2h0M291.5 186.8h0M307.2 208.6h0M279.9 199.8h0M292.4 209.3h0M305.8 185.0h0M309.1 195.6h0M312.4 192.6h0M305.8 189.5h0M287.2 190.9h0M309.0 190.4h0M300.1 207.0h0M279.8 195.0h0M294.4 206.4h0M309.7 202.2h0M281.8 202.5h0M304.8 197.7h0M307.9 175.2h0M292.9 211.7h0M283.5 198.4h0M284.2 190.4h0M304.0 180.9h0M298.4 193.0h0M304.7 201.7h0M294.3 183.6h0M297.8 207.4h0M298.3 214.1h0M310.5 181.3h0" stroke="#5cc7cf" stroke-width="0.90" stroke-linecap="round"/>
<path d="M255.9 240.3h0M229.3 203.2h0M255.6 233.9h0M257.5 244.9h0M258.7 223.3h0M234.4 223.9h0M262.0 212.8h0M241.7 236.1h0M266.5 220.5h0M226.6 206.8h0M246.0 243.6h0M235.4 211.0h0M221.9 223.3h0M230.0 228.1h0M251.8 227.3h0M267.1 219.4h0M264.5 241.5h0M247.2 245.8h0M242.9 216.8h0M251.7 223.8h0M248.9 213.8h0M229.0 201.8h0M252.3 222.6h0M250.4 243.1h0M268.9 236.2h0M227.2 227.3h0M246.0 235.2h0M266.4 225.7h0M236.0 209.4h0M269.0 236.7h0M259.0 237.2h0M249.9 233.8h0M265.2 235.3h0M240.9 219.9h0M250.1 215.6h0M242.8 239.2h0M236.5 212.5h0M253.6 224.8h0M238.9 205.3h0M230.6 218.3h0M258.0 211.3h0M238.2 199.7h0M232.4 233.1h0M253.5 238.4h0M221.6 219.8h0" stroke="#5cbf8f" stroke-width="0.90" stroke-linecap="round"/>
<path d="M241.3 241.7h0M229.0 212.7h0M248.6 237.2h0M225.2 220.4h0M231.0 204.2h0M237.5 202.0h0M266.4 238.0h0M260.8 244.2h0M258.7 226.9h0M252.4 216.6h0M232.4 220.2h0M266.6 236.0h0M245.4 227.7h0M266.5 234.2h0M236.4 199.3h0M252.6 212.9h0M234.0 219.9h0M260.1 234.7h0M263.4 246.2h0M257.2 240.0h0M240.9 221.7h0M232.7 234.4h0M231.2 230.9h0M265.3 225.8h0M231.1 229.6h0M245.2 235.6h0M260.7 225.2h0M256.4 226.4h0M247.5 224.3h0M229.9 206.5h0M242.1 217.8h0" stroke="#2e9c6a" stroke-width="0.90" stroke-linecap="round"/>
<path d="M223.7 222.5h0M257.3 218.5h0M250.5 231.5h0M253.4 238.0h0M250.1 237.2h0M238.6 237.8h0M221.1 214.0h0M264.4 232.7h0M239.6 214.7h0M248.6 216.6h0M239.1 215.7h0M231.9 215.0h0M234.7 233.7h0M244.3 232.8h0M254.5 244.6h0M263.1 239.9h0M247.9 220.2h0M235.2 207.1h0M236.1 226.9h0M235.4 198.7h0M262.9 218.9h0M223.3 222.6h0M237.5 209.3h0M232.9 225.9h0M226.9 217.2h0M247.6 219.8h0M240.9 241.2h0M243.2 206.0h0M236.9 225.6h0M262.9 227.8h0M250.9 247.0h0M259.2 229.7h0M233.0 216.0h0M264.1 233.7h0M248.6 217.5h0M236.4 222.3h0M266.8 241.5h0M266.9 242.3h0M223.5 210.7h0M261.7 212.2h0M257.6 233.9h0M263.4 228.6h0M232.8 202.6h0M268.5 227.4h0" stroke="#ffffff" stroke-width="0.90" stroke-linecap="round"/>
<path d="M272.00,279.80 C273.00,278.70 275.00,278.85 277.00,278.40 C279.00,277.95 283.17,276.75 284.00,277.10 C284.83,277.45 283.33,279.43 282.00,280.50 C280.67,281.57 277.83,282.75 276.00,283.50 C274.17,284.25 271.67,285.62 271.00,285.00 C270.33,284.38 271.00,280.90 272.00,279.80Z" fill="#e6559d"/>
<circle cx="258.2" cy="286.8" r="0.8" fill="#e6559d"/>
<ellipse cx="294.2" cy="291.2" rx="9.2" ry="2.4" fill="#8a86d4" transform="rotate(-28 294.2 291.2)"/>
<circle cx="336.8" cy="187.7" r="3.6" fill="#e0900f"/>
<path d="M234.50,252.90 C234.63,251.73 236.25,252.65 236.80,254.00 C237.35,255.35 237.57,258.88 237.80,261.00 C238.03,263.12 238.53,265.55 238.20,266.70 C237.87,267.85 236.17,268.85 235.80,267.90 C235.43,266.95 236.22,263.50 236.00,261.00 C235.78,258.50 234.37,254.07 234.50,252.90Z" fill="#53b24a"/>
<circle cx="298.8" cy="273.7" r="1" fill="#2aa86a"/><circle cx="291.9" cy="276" r="0.6" fill="#ee5566"/>
<g transform="translate(213.60,162.00) scale(1.0150,1.1165)"><path d="M16.34,5.65 C17.3,5.9 18.2,6.2 18.6,6.48 C19.2,6.9 19.6,7.3 19.54,7.81 C19.6,8.5 19.4,9.0 19.06,9.27 C18.5,9.6 17.8,9.7 17.03,9.62 C15.7,9.5 14.5,9.0 13.2,8.79 C12,8.6 10.8,8.6 9.71,8.58" fill="none" stroke="#2e2e2e" stroke-width="0.54"/><path d="M9.8,8.2 C10.8,8.0 12,7.9 13.6,7.95" fill="none" stroke="#aaa" stroke-width="0.49"/><path d="M0.3,2.93 C0.8,2.2 1.2,1.9 1.7,1.71 C2.6,1.2 3.4,0.6 3.96,0.31 C4.4,0.05 4.8,0.0 5.01,0.07 C5.4,0.3 5.6,0.7 5.7,1.01 C6.2,1.2 6.7,1.2 7.27,1.19 C8.2,1.0 9.1,1.0 10.06,1.01 C11.1,1.1 12,1.3 12.85,1.53 C13.7,1.9 14.4,2.4 14.94,2.93 C15.5,3.4 15.9,3.9 16.16,4.32 C16.4,4.7 16.55,5 16.51,5.3 C16.4,5.8 16.1,6.3 15.64,6.48 C15.1,6.8 14.6,6.9 14.07,7.04 L12.85,7.18 C11.5,7.0 10,6.6 8.67,6.48 C7.8,6.4 6.8,6.35 6.05,6.35 L5.36,6.48 L4.48,7.53 L3.09,7.67 L3.44,7.04 L4.21,6.07 C3.5,5.4 3,4.8 2.39,4.5 C1.8,4.2 1.2,4.0 0.82,3.8 C0.5,3.6 0.2,3.2 0.3,2.93Z" fill="#2e2e2e"/></g>
<text transform="translate(272.30,169.70) scale(1,1.08)" font-size="9.0" fill="#231f20">Nb_Inh</text>
<text transform="translate(337.60,179.10) scale(1,1.08)" font-size="9.0" fill="#231f20">RBC</text>
<text transform="translate(212.30,192.80) scale(1,1.08)" font-size="9.0" fill="#231f20">Nb_Ex</text>
<text transform="translate(269.00,211.80) scale(1,1.08)" font-size="9.0" fill="#231f20">NProg</text>
<text transform="translate(333.40,252.00) scale(1,1.08)" font-size="9.0" fill="#231f20">ETMR</text>
<text transform="translate(210.80,273.30) scale(1,1.08)" font-size="9.0" fill="#231f20">MG</text>
<text transform="translate(253.00,277.50) scale(1,1.08)" font-size="9.0" fill="#231f20">RG</text>
<text transform="translate(295.50,281.50) scale(1,1.08)" font-size="9.0" fill="#231f20">EC</text>
<text transform="translate(262.90,292.20) scale(1,1.08)" font-size="9.0" fill="#231f20">OPC</text>
<text transform="translate(292.70,298.10) scale(1,1.08)" font-size="9.0" fill="#231f20">PC</text>
<path d="M205.0,289.0 L205.0,306.0 L222.0,306.0" fill="none" stroke="#000" stroke-width="0.9"/>
<path d="M205.0,284.0 L203.2,289.5 L206.8,289.5Z" fill="#000"/>
<path d="M227.0,306.0 L221.5,304.2 L221.5,307.8Z" fill="#000"/>
<rect x="397.10" y="157.00" width="21.95" height="9.8" fill="#22b6c1"/>
<rect x="419.00" y="157.00" width="17.25" height="9.8" fill="#a57fc6"/>
<text transform="translate(394.40,162.80) scale(1,1.08)" font-size="6.6" text-anchor="end" fill="#231f20">ETMR</text>
<line x1="395.4" y1="161.90" x2="396.6" y2="161.90" stroke="#000" stroke-width="0.6"/>
<rect x="397.10" y="171.13" width="20.77" height="9.8" fill="#ee7670"/>
<rect x="417.82" y="171.13" width="17.25" height="9.8" fill="#7aae28"/>
<rect x="435.03" y="171.13" width="0.83" height="9.8" fill="#22b6c1"/>
<rect x="435.81" y="171.13" width="0.44" height="9.8" fill="#a57fc6"/>
<text transform="translate(394.40,176.93) scale(1,1.08)" font-size="6.6" text-anchor="end" fill="#231f20">RG</text>
<line x1="395.4" y1="176.03" x2="396.6" y2="176.03" stroke="#000" stroke-width="0.6"/>
<rect x="397.10" y="185.26" width="10.22" height="9.8" fill="#ee7670"/>
<rect x="407.27" y="185.26" width="10.22" height="9.8" fill="#7aae28"/>
<rect x="417.43" y="185.26" width="9.04" height="9.8" fill="#22b6c1"/>
<rect x="426.43" y="185.26" width="9.83" height="9.8" fill="#a57fc6"/>
<text transform="translate(394.40,191.06) scale(1,1.08)" font-size="6.6" text-anchor="end" fill="#231f20">NProg</text>
<line x1="395.4" y1="190.16" x2="396.6" y2="190.16" stroke="#000" stroke-width="0.6"/>
<rect x="397.10" y="199.39" width="14.52" height="9.8" fill="#ee7670"/>
<rect x="411.57" y="199.39" width="15.30" height="9.8" fill="#7aae28"/>
<rect x="426.82" y="199.39" width="6.31" height="9.8" fill="#22b6c1"/>
<rect x="433.07" y="199.39" width="3.18" height="9.8" fill="#a57fc6"/>
<text transform="translate(394.40,205.19) scale(1,1.08)" font-size="6.6" text-anchor="end" fill="#231f20">Nb_Ex</text>
<line x1="395.4" y1="204.29" x2="396.6" y2="204.29" stroke="#000" stroke-width="0.6"/>
<rect x="397.10" y="213.52" width="17.64" height="9.8" fill="#ee7670"/>
<rect x="414.70" y="213.52" width="19.21" height="9.8" fill="#7aae28"/>
<rect x="433.85" y="213.52" width="1.22" height="9.8" fill="#22b6c1"/>
<rect x="435.03" y="213.52" width="1.22" height="9.8" fill="#a57fc6"/>
<text transform="translate(394.40,219.32) scale(1,1.08)" font-size="6.6" text-anchor="end" fill="#231f20">Nb_Inh</text>
<line x1="395.4" y1="218.42" x2="396.6" y2="218.42" stroke="#000" stroke-width="0.6"/>
<rect x="397.10" y="227.65" width="19.99" height="9.8" fill="#ee7670"/>
<rect x="417.04" y="227.65" width="9.43" height="9.8" fill="#7aae28"/>
<rect x="426.43" y="227.65" width="4.74" height="9.8" fill="#22b6c1"/>
<rect x="431.12" y="227.65" width="5.13" height="9.8" fill="#a57fc6"/>
<text transform="translate(394.40,233.45) scale(1,1.08)" font-size="6.6" text-anchor="end" fill="#231f20">OPC</text>
<line x1="395.4" y1="232.55" x2="396.6" y2="232.55" stroke="#000" stroke-width="0.6"/>
<rect x="397.10" y="241.78" width="16.47" height="9.8" fill="#ee7670"/>
<rect x="413.52" y="241.78" width="2.40" height="9.8" fill="#7aae28"/>
<rect x="415.87" y="241.78" width="9.83" height="9.8" fill="#22b6c1"/>
<rect x="425.64" y="241.78" width="10.61" height="9.8" fill="#a57fc6"/>
<text transform="translate(394.40,247.58) scale(1,1.08)" font-size="6.6" text-anchor="end" fill="#231f20">MG</text>
<line x1="395.4" y1="246.68" x2="396.6" y2="246.68" stroke="#000" stroke-width="0.6"/>
<rect x="397.10" y="255.91" width="14.52" height="9.8" fill="#ee7670"/>
<rect x="411.57" y="255.91" width="6.31" height="9.8" fill="#7aae28"/>
<rect x="417.82" y="255.91" width="7.48" height="9.8" fill="#22b6c1"/>
<rect x="425.25" y="255.91" width="11.00" height="9.8" fill="#a57fc6"/>
<text transform="translate(394.40,261.71) scale(1,1.08)" font-size="6.6" text-anchor="end" fill="#231f20">EC</text>
<line x1="395.4" y1="260.81" x2="396.6" y2="260.81" stroke="#000" stroke-width="0.6"/>
<rect x="397.10" y="270.04" width="8.65" height="9.8" fill="#ee7670"/>
<rect x="405.70" y="270.04" width="2.00" height="9.8" fill="#7aae28"/>
<rect x="407.66" y="270.04" width="16.08" height="9.8" fill="#22b6c1"/>
<rect x="423.69" y="270.04" width="12.56" height="9.8" fill="#a57fc6"/>
<text transform="translate(394.40,275.84) scale(1,1.08)" font-size="6.6" text-anchor="end" fill="#231f20">PC</text>
<line x1="395.4" y1="274.94" x2="396.6" y2="274.94" stroke="#000" stroke-width="0.6"/>
<rect x="397.10" y="284.17" width="7.09" height="9.8" fill="#ee7670"/>
<rect x="404.14" y="284.17" width="3.57" height="9.8" fill="#7aae28"/>
<rect x="407.66" y="284.17" width="19.21" height="9.8" fill="#22b6c1"/>
<rect x="426.82" y="284.17" width="9.43" height="9.8" fill="#a57fc6"/>
<text transform="translate(394.40,289.97) scale(1,1.08)" font-size="6.6" text-anchor="end" fill="#231f20">RBC</text>
<line x1="395.4" y1="289.07" x2="396.6" y2="289.07" stroke="#000" stroke-width="0.6"/>
<path d="M396.6,154.8 L396.6,296.2 L436.4,296.2" fill="none" stroke="#000" stroke-width="1.2"/>
<line x1="397.10" y1="296.2" x2="397.10" y2="297.6" stroke="#000" stroke-width="0.6"/>
<line x1="404.92" y1="296.2" x2="404.92" y2="297.6" stroke="#000" stroke-width="0.6"/>
<line x1="412.74" y1="296.2" x2="412.74" y2="297.6" stroke="#000" stroke-width="0.6"/>
<line x1="420.56" y1="296.2" x2="420.56" y2="297.6" stroke="#000" stroke-width="0.6"/>
<line x1="428.38" y1="296.2" x2="428.38" y2="297.6" stroke="#000" stroke-width="0.6"/>
<line x1="436.20" y1="296.2" x2="436.20" y2="297.6" stroke="#000" stroke-width="0.6"/>
<text transform="translate(397.00,304.40) scale(1,1.08)" font-size="5.4" text-anchor="middle" fill="#231f20">0</text>
<text transform="translate(404.90,304.40) scale(1,1.08)" font-size="5.4" text-anchor="middle" fill="#231f20">20</text>
<text transform="translate(412.70,304.40) scale(1,1.08)" font-size="5.4" text-anchor="middle" fill="#231f20">40</text>
<text transform="translate(420.30,304.40) scale(1,1.08)" font-size="5.4" text-anchor="middle" fill="#231f20">60</text>
<text transform="translate(427.60,304.40) scale(1,1.08)" font-size="5.4" text-anchor="middle" fill="#231f20">80</text>
<text transform="translate(434.80,304.40) scale(1,1.08)" font-size="5.4" text-anchor="middle" fill="#231f20">100</text>
<text transform="translate(416.60,313.40) scale(1,1.08)" font-size="6.6" text-anchor="middle" fill="#231f20">(%) cells</text>
<rect x="440.5" y="154.9" width="5.2" height="14.1" fill="#a57fc6"/>
<text transform="translate(447.20,163.35) scale(1,1.08)" font-size="4.2" fill="#231f20">mETMR</text>
<text transform="translate(447.20,167.85) scale(1,1.08)" font-size="4.2" fill="#231f20">_FB2</text>
<rect x="440.5" y="176.0" width="5.2" height="14.2" fill="#22b6c1"/>
<text transform="translate(447.20,184.50) scale(1,1.08)" font-size="4.2" fill="#231f20">mETMR</text>
<text transform="translate(447.20,189.00) scale(1,1.08)" font-size="4.2" fill="#231f20">_FB1</text>
<rect x="440.5" y="197.7" width="5.2" height="13.7" fill="#7aae28"/>
<text transform="translate(447.20,205.55) scale(1,1.08)" font-size="4.2" fill="#231f20">mFB2</text>
<rect x="440.5" y="218.8" width="5.2" height="14.2" fill="#ee7670"/>
<text transform="translate(447.20,226.90) scale(1,1.08)" font-size="4.2" fill="#231f20">mFB1</text>
<text transform="translate(473.10,154.50) scale(1,1.08)" font-size="9.8" font-weight="bold" fill="#111">D</text>
<text transform="translate(587.20,153.80) scale(1,1.08)" font-size="9.35" text-anchor="middle" fill="#231f20">mETMR celltype correlation</text>
<rect x="527.90" y="156.90" width="11.84" height="11.82" fill="#d4e8f7"/>
<rect x="539.66" y="156.90" width="11.84" height="11.82" fill="#c0ddf3"/>
<rect x="551.42" y="156.90" width="11.84" height="11.82" fill="#fdf3f3"/>
<rect x="563.18" y="156.90" width="11.84" height="11.82" fill="#e9a097"/>
<rect x="574.94" y="156.90" width="11.84" height="11.82" fill="#f0b3ab"/>
<rect x="586.70" y="156.90" width="11.84" height="11.82" fill="#fbe0dc"/>
<rect x="598.46" y="156.90" width="11.84" height="11.82" fill="#e08a7e"/>
<rect x="610.22" y="156.90" width="11.84" height="11.82" fill="#f2b9b1"/>
<rect x="621.98" y="156.90" width="11.84" height="11.82" fill="#e3968a"/>
<rect x="633.74" y="156.90" width="11.84" height="11.82" fill="#b22222"/>
<rect x="527.90" y="168.64" width="11.84" height="11.82" fill="#d6e9f7"/>
<rect x="539.66" y="168.64" width="11.84" height="11.82" fill="#d0e6f6"/>
<rect x="551.42" y="168.64" width="11.84" height="11.82" fill="#fef5f5"/>
<rect x="563.18" y="168.64" width="11.84" height="11.82" fill="#ffffff"/>
<rect x="574.94" y="168.64" width="11.84" height="11.82" fill="#fde9e7"/>
<rect x="586.70" y="168.64" width="11.84" height="11.82" fill="#fff8f8"/>
<rect x="598.46" y="168.64" width="11.84" height="11.82" fill="#f3c0b8"/>
<rect x="610.22" y="168.64" width="11.84" height="11.82" fill="#f8d8d2"/>
<rect x="621.98" y="168.64" width="11.84" height="11.82" fill="#b52024"/>
<rect x="633.74" y="168.64" width="11.84" height="11.82" fill="#e39a8f"/>
<rect x="527.90" y="180.38" width="11.84" height="11.82" fill="#b8dcf2"/>
<rect x="539.66" y="180.38" width="11.84" height="11.82" fill="#98cdee"/>
<rect x="551.42" y="180.38" width="11.84" height="11.82" fill="#fff5f5"/>
<rect x="563.18" y="180.38" width="11.84" height="11.82" fill="#f8d1ca"/>
<rect x="574.94" y="180.38" width="11.84" height="11.82" fill="#e4f2fc"/>
<rect x="586.70" y="180.38" width="11.84" height="11.82" fill="#c9463b"/>
<rect x="598.46" y="180.38" width="11.84" height="11.82" fill="#c43d33"/>
<rect x="610.22" y="180.38" width="11.84" height="11.82" fill="#b52024"/>
<rect x="621.98" y="180.38" width="11.84" height="11.82" fill="#f9dcd7"/>
<rect x="633.74" y="180.38" width="11.84" height="11.82" fill="#f5c9c2"/>
<rect x="527.90" y="192.12" width="11.84" height="11.82" fill="#b5daf1"/>
<rect x="539.66" y="192.12" width="11.84" height="11.82" fill="#9dcfef"/>
<rect x="551.42" y="192.12" width="11.84" height="11.82" fill="#fde5e2"/>
<rect x="563.18" y="192.12" width="11.84" height="11.82" fill="#f0aaa0"/>
<rect x="574.94" y="192.12" width="11.84" height="11.82" fill="#f8d7d1"/>
<rect x="586.70" y="192.12" width="11.84" height="11.82" fill="#cc5045"/>
<rect x="598.46" y="192.12" width="11.84" height="11.82" fill="#b51f24"/>
<rect x="610.22" y="192.12" width="11.84" height="11.82" fill="#c23a30"/>
<rect x="621.98" y="192.12" width="11.84" height="11.82" fill="#f5c6bf"/>
<rect x="633.74" y="192.12" width="11.84" height="11.82" fill="#e58f85"/>
<rect x="527.90" y="203.86" width="11.84" height="11.82" fill="#b3d9f1"/>
<rect x="539.66" y="203.86" width="11.84" height="11.82" fill="#a9d5f0"/>
<rect x="551.42" y="203.86" width="11.84" height="11.82" fill="#ffffff"/>
<rect x="563.18" y="203.86" width="11.84" height="11.82" fill="#f1f8fd"/>
<rect x="574.94" y="203.86" width="11.84" height="11.82" fill="#eef7fd"/>
<rect x="586.70" y="203.86" width="11.84" height="11.82" fill="#b51f24"/>
<rect x="598.46" y="203.86" width="11.84" height="11.82" fill="#cb5045"/>
<rect x="610.22" y="203.86" width="11.84" height="11.82" fill="#c6463a"/>
<rect x="621.98" y="203.86" width="11.84" height="11.82" fill="#ffffff"/>
<rect x="633.74" y="203.86" width="11.84" height="11.82" fill="#fde6e3"/>
<rect x="527.90" y="215.60" width="11.84" height="11.82" fill="#f9d6d0"/>
<rect x="539.66" y="215.60" width="11.84" height="11.82" fill="#f8cfc8"/>
<rect x="551.42" y="215.60" width="11.84" height="11.82" fill="#fef2f0"/>
<rect x="563.18" y="215.60" width="11.84" height="11.82" fill="#f4bdb5"/>
<rect x="574.94" y="215.60" width="11.84" height="11.82" fill="#b52024"/>
<rect x="586.70" y="215.60" width="11.84" height="11.82" fill="#eef7fd"/>
<rect x="598.46" y="215.60" width="11.84" height="11.82" fill="#fadcd7"/>
<rect x="610.22" y="215.60" width="11.84" height="11.82" fill="#e7f3fc"/>
<rect x="621.98" y="215.60" width="11.84" height="11.82" fill="#fdecea"/>
<rect x="633.74" y="215.60" width="11.84" height="11.82" fill="#f5c4bc"/>
<rect x="527.90" y="227.34" width="11.84" height="11.82" fill="#f6fbfe"/>
<rect x="539.66" y="227.34" width="11.84" height="11.82" fill="#a7d4f0"/>
<rect x="551.42" y="227.34" width="11.84" height="11.82" fill="#f6c4bc"/>
<rect x="563.18" y="227.34" width="11.84" height="11.82" fill="#b51f24"/>
<rect x="574.94" y="227.34" width="11.84" height="11.82" fill="#f4bcb4"/>
<rect x="586.70" y="227.34" width="11.84" height="11.82" fill="#f1f8fd"/>
<rect x="598.46" y="227.34" width="11.84" height="11.82" fill="#f0aba1"/>
<rect x="610.22" y="227.34" width="11.84" height="11.82" fill="#f8d2cb"/>
<rect x="621.98" y="227.34" width="11.84" height="11.82" fill="#ffffff"/>
<rect x="633.74" y="227.34" width="11.84" height="11.82" fill="#eaa397"/>
<rect x="527.90" y="239.08" width="11.84" height="11.82" fill="#eef6fd"/>
<rect x="539.66" y="239.08" width="11.84" height="11.82" fill="#d4e9f7"/>
<rect x="551.42" y="239.08" width="11.84" height="11.82" fill="#b51f24"/>
<rect x="563.18" y="239.08" width="11.84" height="11.82" fill="#f5c2ba"/>
<rect x="574.94" y="239.08" width="11.84" height="11.82" fill="#fef3f1"/>
<rect x="586.70" y="239.08" width="11.84" height="11.82" fill="#ffffff"/>
<rect x="598.46" y="239.08" width="11.84" height="11.82" fill="#fde9e6"/>
<rect x="610.22" y="239.08" width="11.84" height="11.82" fill="#fef0ee"/>
<rect x="621.98" y="239.08" width="11.84" height="11.82" fill="#fff7f6"/>
<rect x="633.74" y="239.08" width="11.84" height="11.82" fill="#fff5f4"/>
<rect x="527.90" y="250.82" width="11.84" height="11.82" fill="#e2877c"/>
<rect x="539.66" y="250.82" width="11.84" height="11.82" fill="#b51f24"/>
<rect x="551.42" y="250.82" width="11.84" height="11.82" fill="#d9ebf8"/>
<rect x="563.18" y="250.82" width="11.84" height="11.82" fill="#a9d5f0"/>
<rect x="574.94" y="250.82" width="11.84" height="11.82" fill="#f8cfc8"/>
<rect x="586.70" y="250.82" width="11.84" height="11.82" fill="#bbdcf2"/>
<rect x="598.46" y="250.82" width="11.84" height="11.82" fill="#a5d3f0"/>
<rect x="610.22" y="250.82" width="11.84" height="11.82" fill="#9dcfee"/>
<rect x="621.98" y="250.82" width="11.84" height="11.82" fill="#d7eaf8"/>
<rect x="633.74" y="250.82" width="11.84" height="11.82" fill="#c9e2f5"/>
<rect x="527.90" y="262.56" width="11.84" height="11.82" fill="#b51f24"/>
<rect x="539.66" y="262.56" width="11.84" height="11.82" fill="#e08c80"/>
<rect x="551.42" y="262.56" width="11.84" height="11.82" fill="#eaf4fc"/>
<rect x="563.18" y="262.56" width="11.84" height="11.82" fill="#f6fbfe"/>
<rect x="574.94" y="262.56" width="11.84" height="11.82" fill="#f9d6d0"/>
<rect x="586.70" y="262.56" width="11.84" height="11.82" fill="#bfdef3"/>
<rect x="598.46" y="262.56" width="11.84" height="11.82" fill="#c0ddf3"/>
<rect x="610.22" y="262.56" width="11.84" height="11.82" fill="#bcdcf3"/>
<rect x="621.98" y="262.56" width="11.84" height="11.82" fill="#d7eaf8"/>
<rect x="633.74" y="262.56" width="11.84" height="11.82" fill="#d7eaf8"/>
<text transform="translate(524.60,163.80) scale(1,1.08)" font-size="9.3" text-anchor="end" fill="#231f20">PC</text>
<text transform="translate(524.60,176.00) scale(1,1.08)" font-size="9.3" text-anchor="end" fill="#231f20">EC</text>
<text transform="translate(524.60,188.20) scale(1,1.08)" font-size="9.3" text-anchor="end" fill="#231f20">RG</text>
<text transform="translate(524.60,200.40) scale(1,1.08)" font-size="9.3" text-anchor="end" fill="#231f20">RG-like</text>
<text transform="translate(524.60,212.60) scale(1,1.08)" font-size="9.3" text-anchor="end" fill="#231f20">OPC</text>
<text transform="translate(524.60,224.80) scale(1,1.08)" font-size="9.3" text-anchor="end" fill="#231f20">NProg</text>
<text transform="translate(524.60,237.00) scale(1,1.08)" font-size="9.3" text-anchor="end" fill="#231f20">NProg-like</text>
<text transform="translate(524.60,249.20) scale(1,1.08)" font-size="9.3" text-anchor="end" fill="#231f20">MG</text>
<text transform="translate(524.60,261.40) scale(1,1.08)" font-size="9.3" text-anchor="end" fill="#231f20">Nb</text>
<text transform="translate(524.60,273.60) scale(1,1.08)" font-size="9.3" text-anchor="end" fill="#231f20">Nb-like</text>
<rect x="492.2" y="191.3" width="34.2" height="12.9" fill="none" stroke="#555" stroke-width="0.7"/>
<rect x="479.2" y="228.3" width="47.2" height="12.1" fill="none" stroke="#555" stroke-width="0.7"/>
<rect x="492.1" y="264.4" width="34.3" height="12.1" fill="none" stroke="#555" stroke-width="0.7"/>
<text transform="translate(535.08,276.2) rotate(-90) scale(1,1.08)" font-size="9.3" text-anchor="end" fill="#231f20">Nb-like</text>
<text transform="translate(546.84,276.2) rotate(-90) scale(1,1.08)" font-size="9.3" text-anchor="end" fill="#231f20">Nb</text>
<text transform="translate(558.60,276.2) rotate(-90) scale(1,1.08)" font-size="9.3" text-anchor="end" fill="#231f20">MG</text>
<text transform="translate(570.36,276.2) rotate(-90) scale(1,1.08)" font-size="9.3" text-anchor="end" fill="#231f20">NProg-like</text>
<text transform="translate(582.12,276.2) rotate(-90) scale(1,1.08)" font-size="9.3" text-anchor="end" fill="#231f20">NProg</text>
<text transform="translate(593.88,276.2) rotate(-90) scale(1,1.08)" font-size="9.3" text-anchor="end" fill="#231f20">OPC</text>
<text transform="translate(605.64,276.2) rotate(-90) scale(1,1.08)" font-size="9.3" text-anchor="end" fill="#231f20">RG-like</text>
<text transform="translate(617.40,276.2) rotate(-90) scale(1,1.08)" font-size="9.3" text-anchor="end" fill="#231f20">RG</text>
<text transform="translate(629.16,276.2) rotate(-90) scale(1,1.08)" font-size="9.3" text-anchor="end" fill="#231f20">EC</text>
<text transform="translate(640.92,276.2) rotate(-90) scale(1,1.08)" font-size="9.3" text-anchor="end" fill="#231f20">PC</text>
<g transform="translate(481.70,162.30) scale(0.9800,1.0780)"><path d="M16.34,5.65 C17.3,5.9 18.2,6.2 18.6,6.48 C19.2,6.9 19.6,7.3 19.54,7.81 C19.6,8.5 19.4,9.0 19.06,9.27 C18.5,9.6 17.8,9.7 17.03,9.62 C15.7,9.5 14.5,9.0 13.2,8.79 C12,8.6 10.8,8.6 9.71,8.58" fill="none" stroke="#2e2e2e" stroke-width="0.56"/><path d="M9.8,8.2 C10.8,8.0 12,7.9 13.6,7.95" fill="none" stroke="#aaa" stroke-width="0.51"/><path d="M0.3,2.93 C0.8,2.2 1.2,1.9 1.7,1.71 C2.6,1.2 3.4,0.6 3.96,0.31 C4.4,0.05 4.8,0.0 5.01,0.07 C5.4,0.3 5.6,0.7 5.7,1.01 C6.2,1.2 6.7,1.2 7.27,1.19 C8.2,1.0 9.1,1.0 10.06,1.01 C11.1,1.1 12,1.3 12.85,1.53 C13.7,1.9 14.4,2.4 14.94,2.93 C15.5,3.4 15.9,3.9 16.16,4.32 C16.4,4.7 16.55,5 16.51,5.3 C16.4,5.8 16.1,6.3 15.64,6.48 C15.1,6.8 14.6,6.9 14.07,7.04 L12.85,7.18 C11.5,7.0 10,6.6 8.67,6.48 C7.8,6.4 6.8,6.35 6.05,6.35 L5.36,6.48 L4.48,7.53 L3.09,7.67 L3.44,7.04 L4.21,6.07 C3.5,5.4 3,4.8 2.39,4.5 C1.8,4.2 1.2,4.0 0.82,3.8 C0.5,3.6 0.2,3.2 0.3,2.93Z" fill="#2e2e2e"/></g>
<rect x="650.3" y="198.1" width="34" height="10.4" fill="none" stroke="#555" stroke-width="0.7"/>
<text transform="translate(667.30,205.60) scale(1,1.08)" font-size="6.6" text-anchor="middle" fill="#231f20">malignant</text>
<text transform="translate(650.60,225.60) scale(1,1.08)" font-size="6.4" fill="#231f20">Person</text>
<text transform="translate(650.60,233.60) scale(1,1.08)" font-size="6.4" fill="#231f20">Correlation</text>
<defs><linearGradient id="dg" x1="0" y1="0" x2="0" y2="1"><stop offset="0" stop-color="#b2182b"/><stop offset="0.25" stop-color="#de7a6b"/><stop offset="0.5" stop-color="#ffffff"/><stop offset="1" stop-color="#6fb6e3"/></linearGradient></defs>
<rect x="667.6" y="235.8" width="8.4" height="38" fill="url(#dg)"/>
<text transform="translate(650.60,241.60) scale(1,1.08)" font-size="6.4" fill="#231f20">1.00</text>
<text transform="translate(650.60,249.60) scale(1,1.08)" font-size="6.4" fill="#231f20">0.75</text>
<text transform="translate(650.60,257.60) scale(1,1.08)" font-size="6.4" fill="#231f20">0.50</text>
<text transform="translate(650.60,265.60) scale(1,1.08)" font-size="6.4" fill="#231f20">0.25</text>
<text transform="translate(650.60,273.60) scale(1,1.08)" font-size="6.4" fill="#231f20">0.00</text>
<text transform="translate(0.40,338.20) scale(1,1.08)" font-size="9.8" font-weight="bold" fill="#111">E</text>
<text transform="translate(99.00,339.00) scale(1,1.08)" font-size="9.35" text-anchor="middle" fill="#231f20">hETMR</text>
<rect x="17.6" y="346.4" width="163.2" height="164.6" fill="#fff" stroke="#7a7a7a" stroke-width="0.8"/>
<path d="M97.53,413.47 C98.27,412.90 99.49,412.64 100.40,413.21 C101.31,413.77 102.19,415.47 103.01,416.86 C103.84,418.26 104.54,420.00 105.36,421.57 C106.19,423.13 105.84,425.18 107.97,426.27 C110.11,427.36 114.20,428.10 118.16,428.10 C122.12,428.10 127.78,426.83 131.74,426.27 C135.70,425.70 138.27,424.70 141.93,424.70 C145.58,424.70 150.89,424.87 153.68,426.27 C156.46,427.66 157.33,430.53 158.64,433.06 C159.95,435.58 160.64,438.02 161.51,441.41 C162.38,444.81 163.65,449.21 163.86,453.43 C164.08,457.65 163.69,462.83 162.82,466.75 C161.95,470.66 160.99,474.10 158.64,476.93 C156.29,479.76 152.63,482.03 148.72,483.72 C144.80,485.42 139.66,485.99 135.14,487.12 C130.61,488.25 125.52,489.56 121.56,490.51 C117.59,491.47 114.46,491.73 111.37,492.86 C108.28,494.00 105.23,495.61 103.01,497.30 C100.79,499.00 100.49,501.92 98.05,503.05 C95.61,504.18 90.65,504.79 88.39,504.09 C86.12,503.40 84.69,500.87 84.47,498.87 C84.25,496.87 87.39,493.91 87.08,492.08 C86.78,490.25 85.91,488.86 82.64,487.90 C79.38,486.94 72.80,487.03 67.49,486.33 C62.18,485.64 55.83,484.99 50.78,483.72 C45.73,482.46 41.03,481.02 37.20,478.76 C33.37,476.50 29.76,473.23 27.80,470.14 C25.84,467.05 25.71,463.57 25.45,460.22 C25.19,456.87 25.14,453.17 26.23,450.03 C27.32,446.90 29.02,443.94 31.98,441.41 C34.94,438.89 39.20,436.41 43.99,434.89 C48.78,433.36 55.09,432.84 60.70,432.27 C66.32,431.71 71.89,433.36 77.68,431.49 C83.47,429.62 92.39,423.52 95.44,421.04 C98.49,418.56 95.61,417.87 95.96,416.60 C96.31,415.34 96.79,414.04 97.53,413.47Z" fill="#ec6f6a"/>
<path d="M154.1 479.9h0M40.0 437.4h0M87.4 503.4h0M79.2 430.5h0M105.4 422.3h0M90.3 425.2h0M85.9 427.3h0M68.4 487.7h0M161.2 472.9h0M105.0 420.5h0M119.8 490.7h0M161.4 472.2h0M149.7 426.3h0M125.9 425.8h0M32.7 474.3h0M161.3 445.8h0M86.4 426.8h0M92.6 503.7h0M160.8 440.3h0M117.5 492.3h0M58.4 484.6h0M89.8 424.4h0M38.7 479.3h0M162.7 453.6h0M39.2 479.5h0M108.0 427.2h0M158.9 475.1h0M27.0 469.0h0M154.7 478.8h0M81.9 487.6h0M91.9 503.7h0M127.8 489.0h0M64.2 486.5h0M162.9 449.7h0M25.5 458.9h0M139.0 423.9h0M90.8 423.7h0M136.6 487.3h0M83.1 490.9h0M30.3 473.4h0M162.9 471.3h0M26.1 449.4h0M26.7 452.6h0M148.5 483.7h0M26.7 467.0h0M86.5 499.3h0M86.9 491.8h0M33.5 440.9h0M96.3 502.3h0M68.5 433.2h0M151.2 426.2h0M85.9 496.3h0M81.2 430.0h0M155.8 429.8h0M49.0 435.2h0M108.3 427.2h0M26.8 448.6h0M164.0 454.8h0M79.3 488.0h0M73.2 487.5h0M154.7 428.6h0M47.0 433.8h0M118.4 428.2h0M52.9 432.7h0M54.8 486.2h0M105.8 423.0h0M72.4 431.4h0M160.8 435.8h0M60.4 431.9h0M98.6 500.7h0M87.1 503.8h0M119.1 427.2h0M153.9 480.4h0M121.0 428.3h0M42.6 436.4h0M99.5 501.6h0M156.3 431.7h0M26.7 461.3h0M54.4 434.7h0M56.8 484.6h0M119.4 429.0h0M142.4 484.8h0M153.0 425.5h0M122.8 427.2h0M161.1 444.7h0M77.9 431.6h0M97.4 413.0h0M95.5 416.8h0M160.2 467.2h0M116.4 490.3h0M28.4 445.6h0M102.9 415.5h0M123.2 490.7h0M25.1 453.5h0M145.7 484.4h0M162.8 448.4h0M163.7 444.1h0M86.3 426.6h0M86.4 496.5h0M95.7 415.9h0M55.2 431.9h0M101.7 413.6h0M151.5 480.1h0M108.9 494.6h0M151.0 426.4h0M140.6 487.0h0M158.8 474.9h0M106.0 423.7h0M144.7 484.2h0M51.0 434.9h0M50.4 433.9h0M52.3 481.9h0M50.7 483.6h0M159.1 436.5h0M164.2 461.4h0M121.1 427.8h0M37.6 478.7h0M122.6 491.3h0M86.7 490.5h0M114.4 492.9h0M75.0 487.7h0M132.1 486.7h0M100.3 412.6h0M38.6 439.0h0M159.7 433.9h0M121.6 428.1h0M128.3 425.5h0M149.1 426.2h0M57.3 432.5h0M93.6 420.9h0M100.8 500.4h0M53.7 435.7h0M61.8 487.0h0M153.0 479.9h0M109.5 427.4h0M67.0 431.5h0M159.3 433.0h0M73.5 432.4h0M126.3 427.0h0M74.4 431.7h0M30.6 442.5h0M96.7 413.2h0M161.4 443.2h0M85.7 424.8h0M162.1 461.4h0M126.1 426.5h0M92.3 505.7h0M113.2 492.7h0M150.3 484.9h0M107.4 423.2h0M163.5 465.2h0M86.8 503.7h0M71.0 430.6h0M27.9 468.8h0M85.9 491.1h0M150.3 482.2h0M88.2 501.1h0M148.9 484.0h0M30.9 442.8h0M32.2 474.4h0M44.0 434.1h0M164.4 461.2h0M123.1 489.7h0M26.4 458.4h0M27.2 458.8h0M26.0 451.9h0M31.7 442.2h0M163.0 456.2h0M65.2 485.0h0M133.2 486.6h0M118.2 427.3h0M145.5 426.0h0M163.3 456.9h0M32.2 475.8h0M117.2 426.6h0M159.9 473.2h0M163.4 452.4h0M156.0 477.1h0M26.0 447.9h0M57.0 433.5h0M114.6 428.4h0M42.9 437.0h0M36.5 477.8h0M38.4 480.2h0M56.5 485.6h0M141.2 424.6h0M97.9 502.8h0M113.4 492.8h0M155.0 429.3h0M66.4 432.0h0M34.9 440.1h0M49.7 434.0h0M162.3 469.8h0M72.4 431.7h0M31.2 473.8h0M163.5 462.7h0M89.8 504.3h0M25.6 466.2h0M39.7 479.0h0M110.7 427.2h0M150.1 480.4h0M118.2 491.5h0M50.0 483.3h0M164.5 453.8h0M162.2 445.8h0M38.9 479.4h0M52.3 483.2h0M49.3 433.5h0M76.8 485.6h0M39.6 436.4h0M34.2 475.5h0M107.0 425.6h0M47.6 434.1h0M66.7 487.9h0M96.2 415.4h0M29.5 445.7h0M108.7 425.8h0M101.4 417.8h0M142.5 486.6h0M85.1 495.9h0M41.6 436.8h0M156.9 432.1h0M115.8 429.3h0M138.1 486.2h0M147.9 483.0h0M51.0 485.2h0M98.5 411.6h0M104.9 417.3h0M155.6 478.9h0M155.4 479.1h0M47.9 434.4h0M163.3 450.7h0M75.6 485.7h0M137.9 426.6h0M162.0 471.6h0M29.1 443.9h0M51.8 485.1h0M90.6 423.6h0M106.8 423.3h0M68.1 431.7h0M162.3 465.0h0M63.5 484.3h0M159.3 441.8h0M112.0 492.2h0M94.2 423.6h0M160.9 437.8h0M92.0 503.3h0M32.4 442.8h0M30.1 446.2h0M142.7 484.7h0M99.1 501.4h0M112.1 425.3h0M96.9 416.3h0M50.5 485.1h0M148.5 425.9h0M159.0 475.5h0M163.3 465.1h0M70.4 433.2h0M108.6 426.1h0M36.1 440.0h0M114.3 492.5h0M25.4 456.5h0M38.8 437.5h0M27.6 446.5h0M109.3 425.9h0M87.0 494.1h0M117.2 427.8h0M94.3 504.5h0M71.4 487.9h0M56.5 485.2h0M62.5 433.5h0M85.3 500.9h0M119.4 491.9h0M84.7 498.6h0M91.7 503.5h0M105.8 494.5h0M90.7 505.2h0M162.4 461.2h0M105.8 423.9h0M57.2 483.6h0M89.7 506.0h0M26.8 464.6h0M67.4 432.0h0M29.7 443.2h0M102.5 499.1h0M29.9 472.1h0M83.6 429.7h0M27.2 471.4h0M86.1 490.5h0M150.6 481.2h0M85.2 499.9h0M148.1 426.5h0M84.5 500.7h0M71.4 486.9h0M139.7 425.4h0M140.9 425.9h0M81.0 488.1h0M104.8 420.1h0M141.9 424.8h0M103.1 498.5h0M72.1 433.0h0M88.2 423.1h0M50.1 483.5h0M109.8 495.1h0M130.6 426.3h0M109.7 426.6h0M79.4 486.3h0M74.5 431.4h0M128.2 426.0h0M109.1 426.1h0M96.6 413.6h0M26.7 448.5h0M153.9 426.9h0M79.5 428.8h0M85.8 492.4h0M126.3 428.2h0M84.2 498.8h0M38.8 437.9h0M161.8 471.1h0M111.4 426.8h0M142.7 485.7h0M24.9 465.7h0M95.4 504.5h0M101.5 414.1h0M96.2 414.0h0M163.0 443.2h0M98.6 501.8h0M157.3 430.2h0M49.3 482.7h0M129.5 489.0h0M43.7 435.4h0M88.6 423.6h0M119.4 428.3h0M30.0 444.9h0M148.3 425.4h0M52.2 484.2h0M158.9 433.5h0M50.3 434.8h0M156.2 477.6h0M98.8 502.0h0M25.8 463.7h0M131.2 488.0h0M162.0 457.8h0M103.3 497.1h0M53.1 483.2h0M163.6 446.5h0M134.4 486.5h0M85.2 494.9h0M92.4 504.9h0M91.0 503.2h0" stroke="#ec6f6a" stroke-width="0.90" stroke-linecap="round"/>
<defs><radialGradient id="eh" cx="0.5" cy="0.5" r="0.5"><stop offset="0" stop-color="#fff" stop-opacity="0.45"/><stop offset="0.6" stop-color="#fff" stop-opacity="0.25"/><stop offset="1" stop-color="#fff" stop-opacity="0"/></radialGradient></defs>
<ellipse cx="109.0" cy="458.9" rx="18.3" ry="34.0" fill="url(#eh)"/>
<ellipse cx="103.8" cy="438.0" rx="10.4" ry="10.4" fill="url(#eh)"/>
<path d="M107.0 465.1h0M114.2 435.2h0M110.0 438.8h0M118.2 446.3h0M105.6 447.6h0M102.8 439.5h0M117.8 463.3h0M102.5 462.7h0M104.5 444.3h0M108.2 470.8h0M104.1 475.5h0M109.2 460.0h0M106.6 443.1h0M110.9 461.2h0M113.7 459.4h0M114.7 439.0h0M118.3 444.4h0M118.9 442.4h0M118.4 441.8h0M107.9 466.1h0M100.6 439.4h0M113.0 450.5h0M107.2 470.2h0M117.4 464.3h0M116.0 449.4h0M99.1 458.9h0M113.6 445.3h0M116.1 431.0h0M103.2 474.8h0M112.8 440.5h0M102.6 439.6h0M113.6 473.6h0M109.8 445.0h0M105.0 466.5h0M100.9 448.5h0M116.7 450.6h0M107.9 431.9h0M105.2 474.0h0M115.6 434.2h0M110.6 460.0h0M115.1 463.0h0M108.8 456.9h0M107.7 480.6h0M116.3 454.3h0M106.5 469.4h0M109.0 444.5h0M105.9 474.6h0M111.7 472.2h0M117.3 446.6h0M107.1 433.0h0M107.2 455.8h0M112.8 446.4h0M107.0 443.3h0M114.2 462.2h0M119.0 458.7h0M114.6 460.5h0M118.4 443.0h0M109.2 446.4h0M104.6 465.9h0M107.5 457.1h0M109.2 456.4h0M115.2 449.3h0M108.3 436.3h0M107.0 465.1h0M113.8 461.9h0M98.6 449.3h0M101.9 446.2h0M111.8 448.0h0M100.7 441.5h0M99.6 439.4h0M111.0 456.3h0M99.1 458.6h0M103.9 452.1h0M110.3 476.0h0M112.9 470.7h0M110.9 462.9h0M103.7 439.7h0M108.4 435.5h0M109.5 432.9h0M101.5 468.8h0M109.4 468.4h0M113.5 473.7h0M102.8 445.0h0M117.6 462.8h0M114.3 474.9h0M119.6 451.4h0M112.3 472.6h0M107.0 466.0h0M114.9 473.4h0M111.8 473.0h0M103.2 432.2h0M113.4 456.8h0M109.7 441.5h0M117.8 459.2h0M117.2 449.6h0M112.7 447.5h0M102.7 431.8h0M100.4 434.6h0M98.1 448.1h0M103.6 448.5h0M103.2 460.5h0M106.1 459.0h0M108.3 430.7h0" stroke="#ec6f6a" stroke-width="0.90" stroke-linecap="round"/>
<path d="M113.1 435.1h0M106.1 438.8h0M102.8 451.3h0M109.0 442.0h0M105.6 449.3h0M105.0 437.2h0M100.2 438.1h0M113.9 432.8h0M100.6 438.7h0M101.5 430.8h0M109.1 471.3h0M103.8 469.6h0M117.7 465.4h0M110.7 455.7h0M103.2 438.2h0M105.1 472.5h0M101.1 434.3h0M106.7 444.4h0M107.2 472.4h0M114.1 440.7h0M105.9 465.8h0M118.2 452.4h0M109.0 443.9h0M104.3 442.5h0M104.9 477.6h0M103.5 435.4h0M109.2 444.4h0M109.9 474.6h0M110.6 439.7h0M114.6 469.3h0M101.2 430.2h0M99.8 454.6h0M108.0 453.9h0M108.6 447.3h0M118.7 445.2h0M118.1 450.2h0M110.7 470.6h0M104.3 446.3h0M115.7 473.3h0M102.3 440.0h0M114.1 444.6h0M105.6 476.9h0M108.9 435.4h0M109.0 431.0h0M104.0 457.5h0M111.6 457.3h0M108.5 434.9h0M116.8 446.0h0M114.1 468.0h0M103.5 447.9h0M104.8 430.4h0M105.4 441.3h0M119.0 447.3h0M104.4 447.2h0M114.3 448.1h0M110.1 460.1h0M107.6 455.6h0M99.2 449.2h0M101.0 463.6h0M105.8 441.9h0M108.6 458.1h0M100.7 455.4h0M105.0 451.7h0M101.1 448.2h0M105.5 472.6h0M116.6 465.8h0M113.7 449.1h0M99.9 441.5h0M110.1 443.6h0M114.0 446.3h0M113.3 449.4h0M116.5 456.2h0M113.9 465.0h0M115.7 440.7h0M109.9 474.5h0M111.6 441.3h0M105.3 456.1h0M118.1 445.5h0M115.0 439.6h0M114.1 453.5h0M106.8 451.4h0M110.5 440.6h0M115.1 462.8h0M112.6 470.0h0M111.5 436.7h0M113.8 455.6h0M102.2 467.8h0M116.6 464.8h0M104.9 454.1h0M113.0 473.2h0M104.2 479.5h0M109.3 435.0h0M117.5 438.3h0M114.4 469.2h0M116.1 466.6h0M110.1 430.4h0M98.3 447.1h0" stroke="#ffffff" stroke-width="0.90" stroke-linecap="round"/>
<path d="M94.1 478.7h0M70.4 443.2h0M157.4 431.5h0M30.7 445.3h0M127.6 464.9h0M65.6 439.4h0M93.5 500.0h0M111.0 460.9h0M57.7 448.1h0M125.5 431.0h0M153.1 454.7h0M95.0 484.2h0M119.6 446.5h0M86.7 454.2h0M60.5 463.1h0M73.6 479.3h0M69.5 478.2h0M73.7 469.2h0M111.4 446.4h0M119.8 471.3h0M77.6 456.2h0M87.4 477.2h0M67.6 473.0h0M115.4 489.7h0M91.1 461.8h0M121.9 434.8h0M87.4 426.8h0M109.6 464.8h0M75.8 464.8h0M60.9 477.9h0M46.0 444.7h0M40.0 444.8h0M52.8 475.4h0M112.6 467.8h0M75.9 465.9h0M105.3 438.6h0M52.7 475.8h0M123.4 449.9h0M125.4 488.9h0M111.5 428.4h0M113.4 453.2h0M71.7 460.9h0M56.1 455.4h0M52.9 455.4h0M72.9 436.1h0M57.8 464.2h0M151.6 455.2h0M87.4 430.5h0M159.9 445.6h0M55.2 456.0h0M122.7 454.1h0M130.9 442.7h0M66.7 475.7h0M32.2 444.5h0M51.8 456.8h0M130.8 452.9h0M155.2 431.4h0M126.9 441.2h0M45.8 460.3h0M108.4 490.1h0M90.3 485.4h0M132.3 485.1h0M133.3 482.2h0M88.7 448.3h0M95.9 429.1h0M151.8 426.4h0M120.7 483.4h0M118.3 465.0h0M102.6 485.1h0M65.9 455.0h0M96.4 480.4h0M44.1 465.9h0M94.8 463.6h0M84.8 442.8h0M97.7 443.8h0M136.9 460.3h0M93.9 424.2h0M112.0 483.2h0M100.5 433.7h0M75.1 480.0h0M122.1 478.9h0M120.9 490.5h0M115.3 489.6h0M118.3 479.8h0M137.8 482.8h0M127.4 481.2h0M66.1 435.7h0M91.1 482.3h0M75.0 474.7h0M147.5 479.7h0M28.7 467.3h0M146.2 470.5h0M123.3 433.4h0M56.8 457.0h0M53.4 435.6h0M54.2 468.8h0M100.3 467.6h0M53.8 435.7h0M100.9 460.8h0M41.7 472.5h0M95.6 493.7h0M143.4 473.2h0M53.1 450.1h0M55.9 441.5h0M153.9 428.9h0M35.0 468.6h0M68.5 453.4h0M138.2 455.1h0M156.4 434.8h0M135.3 473.5h0M112.9 461.3h0M68.5 475.3h0M81.5 468.7h0M150.9 427.7h0M31.6 467.3h0M154.5 469.2h0M150.9 436.0h0M103.0 461.1h0M143.9 444.7h0M137.1 459.0h0M92.5 488.7h0M58.0 445.3h0M125.2 447.3h0M138.2 466.7h0M124.7 458.7h0M65.1 453.9h0M57.8 435.1h0M135.7 444.9h0M66.5 469.4h0M135.2 484.4h0M45.5 438.4h0M36.8 446.3h0M128.6 483.7h0M94.1 489.0h0M90.3 474.5h0M86.3 499.2h0M147.6 469.3h0M91.0 424.4h0M96.3 465.0h0M150.7 452.4h0M160.5 450.5h0M71.4 463.5h0M86.8 461.6h0M42.5 436.3h0M64.9 454.0h0M91.2 437.0h0M36.2 473.0h0M42.5 449.2h0M142.7 430.1h0M68.3 467.0h0M50.6 449.8h0M95.5 436.0h0M58.9 482.2h0M44.7 436.3h0M90.7 447.3h0M112.3 484.8h0M49.6 443.9h0M76.9 475.2h0M97.2 476.6h0M104.5 495.5h0M145.2 474.2h0M86.6 440.8h0M140.5 426.6h0M106.6 430.4h0M114.0 455.0h0M96.5 421.7h0M63.9 456.0h0M67.9 470.8h0M31.8 457.9h0M100.6 435.4h0" stroke="#ffffff" stroke-width="0.80" stroke-linecap="round"/>
<path d="M97.8 499.1h0M98.2 479.3h0M90.2 479.4h0M59.2 449.6h0M91.4 487.1h0M144.9 425.2h0M157.2 475.8h0M43.3 475.4h0M133.5 441.9h0M160.8 452.7h0M133.4 466.3h0M125.3 474.5h0M95.1 501.5h0M87.1 463.5h0M29.2 446.9h0M149.1 458.0h0M110.2 489.6h0M42.3 449.4h0M110.9 444.9h0M82.1 463.1h0M137.5 429.4h0M102.3 474.2h0M140.5 454.1h0M57.7 470.9h0M155.1 473.0h0M156.7 477.7h0M50.7 467.5h0M44.4 453.4h0M111.0 462.0h0M141.6 439.1h0M156.8 433.7h0M68.1 449.4h0M42.1 443.1h0M162.5 456.9h0M102.6 486.4h0M86.1 473.4h0M54.2 481.1h0M156.8 460.1h0M120.2 464.2h0M60.7 471.5h0M141.2 432.1h0M98.2 486.0h0M59.3 435.7h0M30.6 452.0h0M33.7 452.7h0M155.6 456.5h0M39.2 449.3h0M47.0 477.9h0M63.9 451.0h0M111.6 488.9h0M109.6 476.8h0M148.8 441.2h0M33.4 452.2h0M47.9 446.0h0M147.9 448.4h0M42.7 478.2h0M82.9 468.3h0M60.4 481.3h0M45.8 457.2h0M91.1 476.5h0M97.3 416.5h0M155.8 434.9h0M129.3 452.1h0M86.9 446.2h0M151.2 471.5h0M120.4 430.0h0M137.7 475.4h0M109.9 434.6h0M51.6 445.3h0M64.3 466.1h0M128.5 466.9h0M44.7 446.3h0M107.1 428.8h0M106.4 473.9h0M141.5 433.3h0M120.3 446.5h0M113.7 447.6h0M159.9 437.2h0M144.3 469.8h0M155.5 479.0h0M70.9 467.3h0M127.1 478.1h0M153.8 479.3h0M109.4 460.0h0M89.8 468.4h0M80.9 442.0h0M75.8 432.0h0M104.3 464.4h0M47.9 463.0h0M155.6 453.3h0" stroke="#f49a95" stroke-width="0.80" stroke-linecap="round"/>
<path d="M77.50,356.50 C77.83,357.42 78.83,359.75 79.50,362.00 C80.17,364.25 80.92,367.33 81.50,370.00 C82.08,372.67 82.50,375.33 83.00,378.00 C83.50,380.67 83.83,383.50 84.50,386.00 C85.17,388.50 86.00,390.83 87.00,393.00 C88.00,395.17 89.42,397.08 90.50,399.00 C91.58,400.92 92.42,402.58 93.50,404.50 C94.58,406.42 96.42,409.50 97.00,410.50" fill="none" stroke="#c889c9" stroke-width="1.2"/>
<path d="M77.50,356.50 C77.83,357.42 78.83,359.75 79.50,362.00 C80.17,364.25 80.92,367.33 81.50,370.00 C82.08,372.67 82.50,375.33 83.00,378.00 C83.50,380.67 84.25,384.67 84.50,386.00" fill="none" stroke="#3ea8df" stroke-width="1.5"/>
<path d="M83.50,382.00 C83.83,381.50 85.08,384.50 86.00,386.00 C86.92,387.50 88.00,389.33 89.00,391.00 C90.00,392.67 91.33,394.50 92.00,396.00 C92.67,397.50 93.33,399.33 93.00,400.00 C92.67,400.67 91.08,400.83 90.00,400.00 C88.92,399.17 87.50,396.83 86.50,395.00 C85.50,393.17 84.50,391.17 84.00,389.00 C83.50,386.83 83.17,382.50 83.50,382.00Z" fill="#c483c9"/>
<path d="M89.4 397.2h0M89.6 392.3h0M86.9 394.7h0M90.4 398.1h0M84.9 386.8h0M85.8 390.0h0M85.0 391.1h0M86.1 392.1h0M84.4 387.6h0M86.8 391.9h0M89.6 399.1h0M90.5 398.9h0M84.9 388.6h0M86.6 393.7h0M86.3 389.1h0" stroke="#ffffff" stroke-width="0.80" stroke-linecap="round"/>
<path d="M90.0 392.8h0M92.3 399.5h0M86.2 388.5h0M83.7 385.2h0M88.6 394.3h0M91.2 395.0h0M91.1 394.9h0M85.1 386.2h0M91.3 396.5h0M87.5 390.9h0" stroke="#d9a0d8" stroke-width="0.80" stroke-linecap="round"/>
<circle cx="80.8" cy="367" r="0.5" fill="#f08080"/><circle cx="82.2" cy="372" r="0.5" fill="#f0a0a0"/>
<path d="M111.00,360.00 C111.58,358.67 112.67,357.50 114.00,357.00 C115.33,356.50 117.75,356.17 119.00,357.00 C120.25,357.83 121.00,359.83 121.50,362.00 C122.00,364.17 121.58,367.83 122.00,370.00 C122.42,372.17 123.75,373.17 124.00,375.00 C124.25,376.83 124.17,379.67 123.50,381.00 C122.83,382.33 121.25,382.75 120.00,383.00 C118.75,383.25 117.17,383.17 116.00,382.50 C114.83,381.83 113.67,380.75 113.00,379.00 C112.33,377.25 112.42,374.33 112.00,372.00 C111.58,369.67 110.67,367.00 110.50,365.00 C110.33,363.00 110.42,361.33 111.00,360.00Z" fill="#a8a51a"/>
<path d="M117.9 376.5h0M120.6 376.6h0M115.6 357.7h0M111.2 363.1h0M117.0 366.4h0M117.9 378.4h0M114.1 372.5h0M116.5 374.7h0M117.1 373.0h0M117.3 376.5h0M119.9 378.5h0M117.8 361.4h0M115.1 371.2h0M120.4 382.5h0M119.3 359.7h0M119.6 371.0h0M120.2 360.1h0" stroke="#c8c050" stroke-width="0.80" stroke-linecap="round"/>
<path d="M119.3 377.9h0M111.6 365.9h0M112.7 359.0h0M114.9 373.1h0M117.3 376.7h0M119.6 371.3h0M111.5 367.6h0M122.8 375.8h0M121.1 378.1h0M117.9 376.2h0M114.4 380.4h0M116.8 375.2h0M118.7 380.6h0" stroke="#ffffff" stroke-width="0.80" stroke-linecap="round"/>
<path d="M105.00,370.00 C105.83,369.00 107.75,368.00 109.00,368.00 C110.25,368.00 111.75,368.83 112.50,370.00 C113.25,371.17 113.75,373.33 113.50,375.00 C113.25,376.67 112.08,378.92 111.00,380.00 C109.92,381.08 108.08,381.83 107.00,381.50 C105.92,381.17 105.00,379.25 104.50,378.00 C104.00,376.75 103.92,375.33 104.00,374.00 C104.08,372.67 104.17,371.00 105.00,370.00Z" fill="#2a78b5"/>
<path d="M107.1 381.3h0M110.2 372.9h0M109.2 375.8h0M107.7 369.7h0M110.7 370.7h0M105.8 377.5h0M109.6 373.2h0M110.9 378.2h0M108.4 374.9h0M105.7 377.8h0M109.1 380.7h0M105.7 376.6h0M112.6 371.7h0M109.3 380.1h0M107.6 369.6h0M105.2 377.2h0" stroke="#a8a51a" stroke-width="0.90" stroke-linecap="round"/>
<path d="M110.0 371.3h0M109.8 371.2h0M106.8 375.3h0" stroke="#4a98d5" stroke-width="0.90" stroke-linecap="round"/>
<path d="M110.8 375.4h0M108.0 373.0h0M106.2 370.7h0M108.1 377.6h0M109.9 372.7h0M104.8 376.8h0M106.1 377.8h0M107.6 371.7h0M105.3 374.1h0M110.0 370.4h0M109.2 368.4h0" stroke="#ffffff" stroke-width="0.90" stroke-linecap="round"/>
<path d="M128.00,381.00 C128.17,380.22 129.83,379.78 131.00,379.50 C132.17,379.22 133.93,378.97 135.00,379.30 C136.07,379.63 137.40,380.72 137.40,381.50 C137.40,382.28 136.23,383.55 135.00,384.00 C133.77,384.45 131.17,384.70 130.00,384.20 C128.83,383.70 127.83,381.78 128.00,381.00Z" fill="#3cb87a"/>
<path d="M117,383.5 L128,383.5" stroke="#e99" stroke-width="0.8" stroke-dasharray="1,1.2"/>
<g transform="translate(23.60,351.20) scale(1.5813)"><path d="M1.3,2.4 C0.7,3 0.5,4 0.4,5.5 L0.2,8.6 L0.8,8.6 L1.1,5.5Z M4.7,2.4 C5.3,3 5.5,4 5.6,5.5 L5.8,8.6 L5.2,8.6 L4.9,5.5Z" fill="#6e6e6e"/><ellipse cx="3" cy="0.85" rx="0.68" ry="0.9" fill="#3d3d3d"/><path d="M2.4,1.7 L3.6,1.7 C4.5,1.9 4.9,2.3 4.9,3.2 L4.6,6.8 L4.3,11 L4.0,15.3 L4.4,16 L3.2,16 L3.1,11.5 L3.0,9 L2.9,11.5 L2.8,16 L1.6,16 L2.0,15.3 L1.7,11 L1.4,6.8 L1.1,3.2 C1.1,2.3 1.5,1.9 2.4,1.7Z" fill="#3d3d3d"/></g>
<text transform="translate(67.20,367.50) scale(1,1.08)" font-size="9.0" fill="#231f20">EC</text>
<text transform="translate(119.50,367.50) scale(1,1.08)" font-size="9.0" fill="#231f20">MG</text>
<text transform="translate(95.40,388.90) scale(1,1.08)" font-size="9.0" fill="#231f20">Tcell</text>
<text transform="translate(135.10,394.10) scale(1,1.08)" font-size="9.0" fill="#231f20">OPC</text>
<text transform="translate(71.90,404.90) scale(1,1.08)" font-size="9.0" fill="#231f20">PC</text>
<text transform="translate(94.70,446.60) scale(1,1.08)" font-size="9.0" fill="#231f20">ETMR</text>
<path d="M13.6,498.00000000000006 L13.6,516.2 L32.0,516.2" fill="none" stroke="#000" stroke-width="0.9"/>
<path d="M13.6,493.00000000000006 L11.799999999999999,498.50000000000006 L15.4,498.50000000000006Z" fill="#000"/>
<path d="M37.0,516.2 L31.5,514.4000000000001 L31.5,518.0Z" fill="#000"/>
<text transform="translate(9.6,504.0) rotate(-90) scale(1,1.08)" font-size="6.4" text-anchor="middle" fill="#231f20">UMAP2</text>
<text transform="translate(25.60,524.20) scale(1,1.08)" font-size="6.4" text-anchor="middle" fill="#231f20">UMAP1</text>
<text transform="translate(68.00,521.40) scale(1,1.08)" font-size="6.7" fill="#231f20">n (cells) = 46516</text>
<text transform="translate(68.00,528.40) scale(1,1.08)" font-size="6.7" fill="#231f20">n(samples) = 9</text>
<text transform="translate(194.20,337.80) scale(1,1.08)" font-size="9.8" font-weight="bold" fill="#111">F</text>
<text transform="translate(303.60,339.20) scale(1,1.08)" font-size="9.35" text-anchor="middle" fill="#231f20">hETMR</text>
<rect x="235.40" y="350.60" width="16.59" height="1.67" fill="#d73027"/><rect x="251.94" y="350.60" width="16.59" height="1.67" fill="#f2f1d0"/><rect x="268.48" y="350.60" width="16.59" height="1.67" fill="#f0f0d4"/><rect x="285.01" y="350.60" width="16.59" height="1.67" fill="#c2dbe9"/><rect x="301.55" y="350.60" width="16.59" height="1.67" fill="#f5efbe"/><rect x="318.09" y="350.60" width="16.59" height="1.67" fill="#edefd8"/><rect x="334.62" y="350.60" width="16.59" height="1.67" fill="#eef0d6"/><rect x="351.16" y="350.60" width="16.59" height="1.67" fill="#fdbf6f"/><rect x="235.40" y="352.22" width="16.59" height="1.67" fill="#d73027"/><rect x="251.94" y="352.22" width="16.59" height="1.67" fill="#eef0d6"/><rect x="268.48" y="352.22" width="16.59" height="1.67" fill="#eef0d6"/><rect x="285.01" y="352.22" width="16.59" height="1.67" fill="#d1e5f0"/><rect x="301.55" y="352.22" width="16.59" height="1.67" fill="#f0f0d4"/><rect x="318.09" y="352.22" width="16.59" height="1.67" fill="#f7f1c2"/><rect x="334.62" y="352.22" width="16.59" height="1.67" fill="#eef0d6"/><rect x="351.16" y="352.22" width="16.59" height="1.67" fill="#f2f1d0"/><rect x="235.40" y="353.83" width="16.59" height="1.67" fill="#fdae61"/><rect x="251.94" y="353.83" width="16.59" height="1.67" fill="#eef0d6"/><rect x="268.48" y="353.83" width="16.59" height="1.67" fill="#edf3ea"/><rect x="285.01" y="353.83" width="16.59" height="1.67" fill="#b4d3e8"/><rect x="301.55" y="353.83" width="16.59" height="1.67" fill="#eef0d6"/><rect x="318.09" y="353.83" width="16.59" height="1.67" fill="#fae8a4"/><rect x="334.62" y="353.83" width="16.59" height="1.67" fill="#f0f0d4"/><rect x="351.16" y="353.83" width="16.59" height="1.67" fill="#f2f1d0"/><rect x="235.40" y="355.45" width="16.59" height="1.67" fill="#fee090"/><rect x="251.94" y="355.45" width="16.59" height="1.67" fill="#d5e6ea"/><rect x="268.48" y="355.45" width="16.59" height="1.67" fill="#d6e8ee"/><rect x="285.01" y="355.45" width="16.59" height="1.67" fill="#d1e5f0"/><rect x="301.55" y="355.45" width="16.59" height="1.67" fill="#f2f1d0"/><rect x="318.09" y="355.45" width="16.59" height="1.67" fill="#f0f0d4"/><rect x="334.62" y="355.45" width="16.59" height="1.67" fill="#edefd8"/><rect x="351.16" y="355.45" width="16.59" height="1.67" fill="#f0f0d4"/><rect x="235.40" y="357.06" width="16.59" height="1.67" fill="#d73027"/><rect x="251.94" y="357.06" width="16.59" height="1.67" fill="#eef0d6"/><rect x="268.48" y="357.06" width="16.59" height="1.67" fill="#f0f0d4"/><rect x="285.01" y="357.06" width="16.59" height="1.67" fill="#b4d3e8"/><rect x="301.55" y="357.06" width="16.59" height="1.67" fill="#f2f1d0"/><rect x="318.09" y="357.06" width="16.59" height="1.67" fill="#f0f0d4"/><rect x="334.62" y="357.06" width="16.59" height="1.67" fill="#f2f1d0"/><rect x="351.16" y="357.06" width="16.59" height="1.67" fill="#f0f0d4"/><rect x="235.40" y="358.68" width="16.59" height="1.67" fill="#d73027"/><rect x="251.94" y="358.68" width="16.59" height="1.67" fill="#f3e9b0"/><rect x="268.48" y="358.68" width="16.59" height="1.67" fill="#edf3ea"/><rect x="285.01" y="358.68" width="16.59" height="1.67" fill="#b4d3e8"/><rect x="301.55" y="358.68" width="16.59" height="1.67" fill="#f7f1c2"/><rect x="318.09" y="358.68" width="16.59" height="1.67" fill="#f2f1d0"/><rect x="334.62" y="358.68" width="16.59" height="1.67" fill="#eef0d6"/><rect x="351.16" y="358.68" width="16.59" height="1.67" fill="#f0f0d4"/><rect x="235.40" y="360.30" width="16.59" height="1.67" fill="#f46d43"/><rect x="251.94" y="360.30" width="16.59" height="1.67" fill="#f3e9b0"/><rect x="268.48" y="360.30" width="16.59" height="1.67" fill="#d6e8ee"/><rect x="285.01" y="360.30" width="16.59" height="1.67" fill="#f7f1c2"/><rect x="301.55" y="360.30" width="16.59" height="1.67" fill="#eef0d6"/><rect x="318.09" y="360.30" width="16.59" height="1.67" fill="#f7f1c2"/><rect x="334.62" y="360.30" width="16.59" height="1.67" fill="#edefd8"/><rect x="351.16" y="360.30" width="16.59" height="1.67" fill="#d5e6ea"/><rect x="235.40" y="361.91" width="16.59" height="1.67" fill="#fee090"/><rect x="251.94" y="361.91" width="16.59" height="1.67" fill="#f0f0d4"/><rect x="268.48" y="361.91" width="16.59" height="1.67" fill="#edefd8"/><rect x="285.01" y="361.91" width="16.59" height="1.67" fill="#eef0d6"/><rect x="301.55" y="361.91" width="16.59" height="1.67" fill="#edefd8"/><rect x="318.09" y="361.91" width="16.59" height="1.67" fill="#f2f1d0"/><rect x="334.62" y="361.91" width="16.59" height="1.67" fill="#f2f1d0"/><rect x="351.16" y="361.91" width="16.59" height="1.67" fill="#eef0d6"/><rect x="235.40" y="363.53" width="16.59" height="1.67" fill="#fdae61"/><rect x="251.94" y="363.53" width="16.59" height="1.67" fill="#f7f1c2"/><rect x="268.48" y="363.53" width="16.59" height="1.67" fill="#d6e8ee"/><rect x="285.01" y="363.53" width="16.59" height="1.67" fill="#fae8a4"/><rect x="301.55" y="363.53" width="16.59" height="1.67" fill="#f2f1d0"/><rect x="318.09" y="363.53" width="16.59" height="1.67" fill="#d5e6ea"/><rect x="334.62" y="363.53" width="16.59" height="1.67" fill="#f0f0d4"/><rect x="351.16" y="363.53" width="16.59" height="1.67" fill="#f2f1d0"/><rect x="235.40" y="365.14" width="16.59" height="1.67" fill="#d73027"/><rect x="251.94" y="365.14" width="16.59" height="1.67" fill="#f2f1d0"/><rect x="268.48" y="365.14" width="16.59" height="1.67" fill="#fae8a4"/><rect x="285.01" y="365.14" width="16.59" height="1.67" fill="#d1e5f0"/><rect x="301.55" y="365.14" width="16.59" height="1.67" fill="#f2f1d0"/><rect x="318.09" y="365.14" width="16.59" height="1.67" fill="#f2f1d0"/><rect x="334.62" y="365.14" width="16.59" height="1.67" fill="#f2f1d0"/><rect x="351.16" y="365.14" width="16.59" height="1.67" fill="#f2f1d0"/><rect x="235.40" y="366.76" width="16.59" height="1.67" fill="#fdc57a"/><rect x="251.94" y="366.76" width="16.59" height="1.67" fill="#e3eef0"/><rect x="268.48" y="366.76" width="16.59" height="1.67" fill="#edefd8"/><rect x="285.01" y="366.76" width="16.59" height="1.67" fill="#c2dbe9"/><rect x="301.55" y="366.76" width="16.59" height="1.67" fill="#f5efbe"/><rect x="318.09" y="366.76" width="16.59" height="1.67" fill="#edefd8"/><rect x="334.62" y="366.76" width="16.59" height="1.67" fill="#f0f0d4"/><rect x="351.16" y="366.76" width="16.59" height="1.67" fill="#edefd8"/><rect x="235.40" y="368.38" width="16.59" height="1.67" fill="#f46d43"/><rect x="251.94" y="368.38" width="16.59" height="1.67" fill="#f3e9b0"/><rect x="268.48" y="368.38" width="16.59" height="1.67" fill="#f2f1d0"/><rect x="285.01" y="368.38" width="16.59" height="1.67" fill="#c2dbe9"/><rect x="301.55" y="368.38" width="16.59" height="1.67" fill="#f7f1c2"/><rect x="318.09" y="368.38" width="16.59" height="1.67" fill="#f0f0d4"/><rect x="334.62" y="368.38" width="16.59" height="1.67" fill="#eef0d6"/><rect x="351.16" y="368.38" width="16.59" height="1.67" fill="#f7f1c2"/><rect x="235.40" y="369.99" width="16.59" height="1.67" fill="#fdae61"/><rect x="251.94" y="369.99" width="16.59" height="1.67" fill="#f7f1c2"/><rect x="268.48" y="369.99" width="16.59" height="1.67" fill="#d6e8ee"/><rect x="285.01" y="369.99" width="16.59" height="1.67" fill="#c2dbe9"/><rect x="301.55" y="369.99" width="16.59" height="1.67" fill="#f2f1d0"/><rect x="318.09" y="369.99" width="16.59" height="1.67" fill="#fdd08a"/><rect x="334.62" y="369.99" width="16.59" height="1.67" fill="#edefd8"/><rect x="351.16" y="369.99" width="16.59" height="1.67" fill="#f2f1d0"/><rect x="235.40" y="371.61" width="16.59" height="1.67" fill="#f88e57"/><rect x="251.94" y="371.61" width="16.59" height="1.67" fill="#f3e9b0"/><rect x="268.48" y="371.61" width="16.59" height="1.67" fill="#f2f1d0"/><rect x="285.01" y="371.61" width="16.59" height="1.67" fill="#b4d3e8"/><rect x="301.55" y="371.61" width="16.59" height="1.67" fill="#eef0d6"/><rect x="318.09" y="371.61" width="16.59" height="1.67" fill="#edefd8"/><rect x="334.62" y="371.61" width="16.59" height="1.67" fill="#eef0d6"/><rect x="351.16" y="371.61" width="16.59" height="1.67" fill="#f2f1d0"/><rect x="235.40" y="373.22" width="16.59" height="1.67" fill="#fee090"/><rect x="251.94" y="373.22" width="16.59" height="1.67" fill="#d6e8ee"/><rect x="268.48" y="373.22" width="16.59" height="1.67" fill="#edf3ea"/><rect x="285.01" y="373.22" width="16.59" height="1.67" fill="#edefd8"/><rect x="301.55" y="373.22" width="16.59" height="1.67" fill="#edefd8"/><rect x="318.09" y="373.22" width="16.59" height="1.67" fill="#edefd8"/><rect x="334.62" y="373.22" width="16.59" height="1.67" fill="#eef0d6"/><rect x="351.16" y="373.22" width="16.59" height="1.67" fill="#f2f1d0"/><rect x="235.40" y="374.84" width="16.59" height="1.67" fill="#fdae61"/><rect x="251.94" y="374.84" width="16.59" height="1.67" fill="#f2f1d0"/><rect x="268.48" y="374.84" width="16.59" height="1.67" fill="#f2f1d0"/><rect x="285.01" y="374.84" width="16.59" height="1.67" fill="#d1e5f0"/><rect x="301.55" y="374.84" width="16.59" height="1.67" fill="#f5efbe"/><rect x="318.09" y="374.84" width="16.59" height="1.67" fill="#fae8a4"/><rect x="334.62" y="374.84" width="16.59" height="1.67" fill="#dde9e4"/><rect x="351.16" y="374.84" width="16.59" height="1.67" fill="#f0f0d4"/><rect x="235.40" y="376.46" width="16.59" height="1.67" fill="#f46d43"/><rect x="251.94" y="376.46" width="16.59" height="1.67" fill="#d6e8ee"/><rect x="268.48" y="376.46" width="16.59" height="1.67" fill="#e3eef0"/><rect x="285.01" y="376.46" width="16.59" height="1.67" fill="#dbeaf0"/><rect x="301.55" y="376.46" width="16.59" height="1.67" fill="#f0f0d4"/><rect x="318.09" y="376.46" width="16.59" height="1.67" fill="#fdbf6f"/><rect x="334.62" y="376.46" width="16.59" height="1.67" fill="#f2f1d0"/><rect x="351.16" y="376.46" width="16.59" height="1.67" fill="#f0f0d4"/><rect x="235.40" y="378.07" width="16.59" height="1.67" fill="#fdc57a"/><rect x="251.94" y="378.07" width="16.59" height="1.67" fill="#f2f1d0"/><rect x="268.48" y="378.07" width="16.59" height="1.67" fill="#d6e8ee"/><rect x="285.01" y="378.07" width="16.59" height="1.67" fill="#f0f0d4"/><rect x="301.55" y="378.07" width="16.59" height="1.67" fill="#f0f0d4"/><rect x="318.09" y="378.07" width="16.59" height="1.67" fill="#edefd8"/><rect x="334.62" y="378.07" width="16.59" height="1.67" fill="#edefd8"/><rect x="351.16" y="378.07" width="16.59" height="1.67" fill="#edefd8"/><rect x="235.40" y="379.69" width="16.59" height="1.67" fill="#d73027"/><rect x="251.94" y="379.69" width="16.59" height="1.67" fill="#eef0d6"/><rect x="268.48" y="379.69" width="16.59" height="1.67" fill="#e3eef0"/><rect x="285.01" y="379.69" width="16.59" height="1.67" fill="#dbeaf0"/><rect x="301.55" y="379.69" width="16.59" height="1.67" fill="#eef0d6"/><rect x="318.09" y="379.69" width="16.59" height="1.67" fill="#f5efbe"/><rect x="334.62" y="379.69" width="16.59" height="1.67" fill="#eef0d6"/><rect x="351.16" y="379.69" width="16.59" height="1.67" fill="#f0f0d4"/><rect x="235.40" y="381.30" width="16.59" height="1.67" fill="#e34a33"/><rect x="251.94" y="381.30" width="16.59" height="1.67" fill="#e3eef0"/><rect x="268.48" y="381.30" width="16.59" height="1.67" fill="#d6e8ee"/><rect x="285.01" y="381.30" width="16.59" height="1.67" fill="#edefd8"/><rect x="301.55" y="381.30" width="16.59" height="1.67" fill="#dde9e4"/><rect x="318.09" y="381.30" width="16.59" height="1.67" fill="#f7f1c2"/><rect x="334.62" y="381.30" width="16.59" height="1.67" fill="#eef0d6"/><rect x="351.16" y="381.30" width="16.59" height="1.67" fill="#edefd8"/><rect x="235.40" y="382.92" width="16.59" height="1.67" fill="#f7efc0"/><rect x="251.94" y="382.92" width="16.59" height="1.67" fill="#d73027"/><rect x="268.48" y="382.92" width="16.59" height="1.67" fill="#f0f0d4"/><rect x="285.01" y="382.92" width="16.59" height="1.67" fill="#d1e5f0"/><rect x="301.55" y="382.92" width="16.59" height="1.67" fill="#eef0d6"/><rect x="318.09" y="382.92" width="16.59" height="1.67" fill="#fdbf6f"/><rect x="334.62" y="382.92" width="16.59" height="1.67" fill="#edefd8"/><rect x="351.16" y="382.92" width="16.59" height="1.67" fill="#f2f1d0"/><rect x="235.40" y="384.54" width="16.59" height="1.67" fill="#fee090"/><rect x="251.94" y="384.54" width="16.59" height="1.67" fill="#e34a33"/><rect x="268.48" y="384.54" width="16.59" height="1.67" fill="#f2f1d0"/><rect x="285.01" y="384.54" width="16.59" height="1.67" fill="#c2dbe9"/><rect x="301.55" y="384.54" width="16.59" height="1.67" fill="#fae8a4"/><rect x="318.09" y="384.54" width="16.59" height="1.67" fill="#eef0d6"/><rect x="334.62" y="384.54" width="16.59" height="1.67" fill="#f2f1d0"/><rect x="351.16" y="384.54" width="16.59" height="1.67" fill="#edefd8"/><rect x="235.40" y="386.15" width="16.59" height="1.67" fill="#fee090"/><rect x="251.94" y="386.15" width="16.59" height="1.67" fill="#e34a33"/><rect x="268.48" y="386.15" width="16.59" height="1.67" fill="#f0f0d4"/><rect x="285.01" y="386.15" width="16.59" height="1.67" fill="#dbeaf0"/><rect x="301.55" y="386.15" width="16.59" height="1.67" fill="#f2f1d0"/><rect x="318.09" y="386.15" width="16.59" height="1.67" fill="#dde9e4"/><rect x="334.62" y="386.15" width="16.59" height="1.67" fill="#edefd8"/><rect x="351.16" y="386.15" width="16.59" height="1.67" fill="#dde9e4"/><rect x="235.40" y="387.77" width="16.59" height="1.67" fill="#fee090"/><rect x="251.94" y="387.77" width="16.59" height="1.67" fill="#e85b3a"/><rect x="268.48" y="387.77" width="16.59" height="1.67" fill="#f5efbe"/><rect x="285.01" y="387.77" width="16.59" height="1.67" fill="#c2dbe9"/><rect x="301.55" y="387.77" width="16.59" height="1.67" fill="#f2f1d0"/><rect x="318.09" y="387.77" width="16.59" height="1.67" fill="#edefd8"/><rect x="334.62" y="387.77" width="16.59" height="1.67" fill="#f5efbe"/><rect x="351.16" y="387.77" width="16.59" height="1.67" fill="#edefd8"/><rect x="235.40" y="389.38" width="16.59" height="1.67" fill="#fdae61"/><rect x="251.94" y="389.38" width="16.59" height="1.67" fill="#e34a33"/><rect x="268.48" y="389.38" width="16.59" height="1.67" fill="#e3eef0"/><rect x="285.01" y="389.38" width="16.59" height="1.67" fill="#d1e5f0"/><rect x="301.55" y="389.38" width="16.59" height="1.67" fill="#edefd8"/><rect x="318.09" y="389.38" width="16.59" height="1.67" fill="#f2f1d0"/><rect x="334.62" y="389.38" width="16.59" height="1.67" fill="#fdd08a"/><rect x="351.16" y="389.38" width="16.59" height="1.67" fill="#edefd8"/><rect x="235.40" y="391.00" width="16.59" height="1.67" fill="#fee090"/><rect x="251.94" y="391.00" width="16.59" height="1.67" fill="#e85b3a"/><rect x="268.48" y="391.00" width="16.59" height="1.67" fill="#f5efbe"/><rect x="285.01" y="391.00" width="16.59" height="1.67" fill="#b4d3e8"/><rect x="301.55" y="391.00" width="16.59" height="1.67" fill="#f7f1c2"/><rect x="318.09" y="391.00" width="16.59" height="1.67" fill="#eef0d6"/><rect x="334.62" y="391.00" width="16.59" height="1.67" fill="#dde9e4"/><rect x="351.16" y="391.00" width="16.59" height="1.67" fill="#f2f1d0"/><rect x="235.40" y="392.62" width="16.59" height="1.67" fill="#fee090"/><rect x="251.94" y="392.62" width="16.59" height="1.67" fill="#dc3a2b"/><rect x="268.48" y="392.62" width="16.59" height="1.67" fill="#edf3ea"/><rect x="285.01" y="392.62" width="16.59" height="1.67" fill="#c2dbe9"/><rect x="301.55" y="392.62" width="16.59" height="1.67" fill="#dde9e4"/><rect x="318.09" y="392.62" width="16.59" height="1.67" fill="#f0f0d4"/><rect x="334.62" y="392.62" width="16.59" height="1.67" fill="#f2f1d0"/><rect x="351.16" y="392.62" width="16.59" height="1.67" fill="#eef0d6"/><rect x="235.40" y="394.23" width="16.59" height="1.67" fill="#fee090"/><rect x="251.94" y="394.23" width="16.59" height="1.67" fill="#e85b3a"/><rect x="268.48" y="394.23" width="16.59" height="1.67" fill="#e3eef0"/><rect x="285.01" y="394.23" width="16.59" height="1.67" fill="#edefd8"/><rect x="301.55" y="394.23" width="16.59" height="1.67" fill="#fae8a4"/><rect x="318.09" y="394.23" width="16.59" height="1.67" fill="#edefd8"/><rect x="334.62" y="394.23" width="16.59" height="1.67" fill="#edefd8"/><rect x="351.16" y="394.23" width="16.59" height="1.67" fill="#f7f1c2"/><rect x="235.40" y="395.85" width="16.59" height="1.67" fill="#fee090"/><rect x="251.94" y="395.85" width="16.59" height="1.67" fill="#d73027"/><rect x="268.48" y="395.85" width="16.59" height="1.67" fill="#d6e8ee"/><rect x="285.01" y="395.85" width="16.59" height="1.67" fill="#dbeaf0"/><rect x="301.55" y="395.85" width="16.59" height="1.67" fill="#f0f0d4"/><rect x="318.09" y="395.85" width="16.59" height="1.67" fill="#d5e6ea"/><rect x="334.62" y="395.85" width="16.59" height="1.67" fill="#f0f0d4"/><rect x="351.16" y="395.85" width="16.59" height="1.67" fill="#eef0d6"/><rect x="235.40" y="397.46" width="16.59" height="1.67" fill="#fbe6a2"/><rect x="251.94" y="397.46" width="16.59" height="1.67" fill="#d73027"/><rect x="268.48" y="397.46" width="16.59" height="1.67" fill="#e3eef0"/><rect x="285.01" y="397.46" width="16.59" height="1.67" fill="#dbeaf0"/><rect x="301.55" y="397.46" width="16.59" height="1.67" fill="#edefd8"/><rect x="318.09" y="397.46" width="16.59" height="1.67" fill="#edefd8"/><rect x="334.62" y="397.46" width="16.59" height="1.67" fill="#eef0d6"/><rect x="351.16" y="397.46" width="16.59" height="1.67" fill="#f2f1d0"/><rect x="235.40" y="399.08" width="16.59" height="1.67" fill="#fdae61"/><rect x="251.94" y="399.08" width="16.59" height="1.67" fill="#d73027"/><rect x="268.48" y="399.08" width="16.59" height="1.67" fill="#f2f1d0"/><rect x="285.01" y="399.08" width="16.59" height="1.67" fill="#dbeaf0"/><rect x="301.55" y="399.08" width="16.59" height="1.67" fill="#fae8a4"/><rect x="318.09" y="399.08" width="16.59" height="1.67" fill="#d5e6ea"/><rect x="334.62" y="399.08" width="16.59" height="1.67" fill="#eef0d6"/><rect x="351.16" y="399.08" width="16.59" height="1.67" fill="#fae8a4"/><rect x="235.40" y="400.70" width="16.59" height="1.67" fill="#fee090"/><rect x="251.94" y="400.70" width="16.59" height="1.67" fill="#d73027"/><rect x="268.48" y="400.70" width="16.59" height="1.67" fill="#d6e8ee"/><rect x="285.01" y="400.70" width="16.59" height="1.67" fill="#f0f0d4"/><rect x="301.55" y="400.70" width="16.59" height="1.67" fill="#eef0d6"/><rect x="318.09" y="400.70" width="16.59" height="1.67" fill="#edefd8"/><rect x="334.62" y="400.70" width="16.59" height="1.67" fill="#f7f1c2"/><rect x="351.16" y="400.70" width="16.59" height="1.67" fill="#edefd8"/><rect x="235.40" y="402.31" width="16.59" height="1.67" fill="#f5f0c8"/><rect x="251.94" y="402.31" width="16.59" height="1.67" fill="#e34a33"/><rect x="268.48" y="402.31" width="16.59" height="1.67" fill="#e3eef0"/><rect x="285.01" y="402.31" width="16.59" height="1.67" fill="#b4d3e8"/><rect x="301.55" y="402.31" width="16.59" height="1.67" fill="#dde9e4"/><rect x="318.09" y="402.31" width="16.59" height="1.67" fill="#fdbf6f"/><rect x="334.62" y="402.31" width="16.59" height="1.67" fill="#f2f1d0"/><rect x="351.16" y="402.31" width="16.59" height="1.67" fill="#f2f1d0"/><rect x="235.40" y="403.93" width="16.59" height="1.67" fill="#fbe6a2"/><rect x="251.94" y="403.93" width="16.59" height="1.67" fill="#d73027"/><rect x="268.48" y="403.93" width="16.59" height="1.67" fill="#e3eef0"/><rect x="285.01" y="403.93" width="16.59" height="1.67" fill="#eef0d6"/><rect x="301.55" y="403.93" width="16.59" height="1.67" fill="#dde9e4"/><rect x="318.09" y="403.93" width="16.59" height="1.67" fill="#eef0d6"/><rect x="334.62" y="403.93" width="16.59" height="1.67" fill="#edefd8"/><rect x="351.16" y="403.93" width="16.59" height="1.67" fill="#f0f0d4"/><rect x="235.40" y="405.54" width="16.59" height="1.67" fill="#fbe6a2"/><rect x="251.94" y="405.54" width="16.59" height="1.67" fill="#dc3a2b"/><rect x="268.48" y="405.54" width="16.59" height="1.67" fill="#f7f1c2"/><rect x="285.01" y="405.54" width="16.59" height="1.67" fill="#edefd8"/><rect x="301.55" y="405.54" width="16.59" height="1.67" fill="#f0f0d4"/><rect x="318.09" y="405.54" width="16.59" height="1.67" fill="#f5efbe"/><rect x="334.62" y="405.54" width="16.59" height="1.67" fill="#eef0d6"/><rect x="351.16" y="405.54" width="16.59" height="1.67" fill="#f0f0d4"/><rect x="235.40" y="407.16" width="16.59" height="1.67" fill="#f7efc0"/><rect x="251.94" y="407.16" width="16.59" height="1.67" fill="#d73027"/><rect x="268.48" y="407.16" width="16.59" height="1.67" fill="#e3eef0"/><rect x="285.01" y="407.16" width="16.59" height="1.67" fill="#f2f1d0"/><rect x="301.55" y="407.16" width="16.59" height="1.67" fill="#f2f1d0"/><rect x="318.09" y="407.16" width="16.59" height="1.67" fill="#eef0d6"/><rect x="334.62" y="407.16" width="16.59" height="1.67" fill="#f0f0d4"/><rect x="351.16" y="407.16" width="16.59" height="1.67" fill="#edefd8"/><rect x="235.40" y="408.78" width="16.59" height="1.67" fill="#f5f0c8"/><rect x="251.94" y="408.78" width="16.59" height="1.67" fill="#dc3a2b"/><rect x="268.48" y="408.78" width="16.59" height="1.67" fill="#edf3ea"/><rect x="285.01" y="408.78" width="16.59" height="1.67" fill="#eef0d6"/><rect x="301.55" y="408.78" width="16.59" height="1.67" fill="#edefd8"/><rect x="318.09" y="408.78" width="16.59" height="1.67" fill="#f0f0d4"/><rect x="334.62" y="408.78" width="16.59" height="1.67" fill="#edefd8"/><rect x="351.16" y="408.78" width="16.59" height="1.67" fill="#f0f0d4"/><rect x="235.40" y="410.39" width="16.59" height="1.67" fill="#f5f0c8"/><rect x="251.94" y="410.39" width="16.59" height="1.67" fill="#d73027"/><rect x="268.48" y="410.39" width="16.59" height="1.67" fill="#f2f1d0"/><rect x="285.01" y="410.39" width="16.59" height="1.67" fill="#d1e5f0"/><rect x="301.55" y="410.39" width="16.59" height="1.67" fill="#edefd8"/><rect x="318.09" y="410.39" width="16.59" height="1.67" fill="#f0f0d4"/><rect x="334.62" y="410.39" width="16.59" height="1.67" fill="#eef0d6"/><rect x="351.16" y="410.39" width="16.59" height="1.67" fill="#f0f0d4"/><rect x="235.40" y="412.01" width="16.59" height="1.67" fill="#fdae61"/><rect x="251.94" y="412.01" width="16.59" height="1.67" fill="#e85b3a"/><rect x="268.48" y="412.01" width="16.59" height="1.67" fill="#edf3ea"/><rect x="285.01" y="412.01" width="16.59" height="1.67" fill="#f7f1c2"/><rect x="301.55" y="412.01" width="16.59" height="1.67" fill="#f2f1d0"/><rect x="318.09" y="412.01" width="16.59" height="1.67" fill="#eef0d6"/><rect x="334.62" y="412.01" width="16.59" height="1.67" fill="#f0f0d4"/><rect x="351.16" y="412.01" width="16.59" height="1.67" fill="#eef0d6"/><rect x="235.40" y="413.62" width="16.59" height="1.67" fill="#f7efc0"/><rect x="251.94" y="413.62" width="16.59" height="1.67" fill="#f88e57"/><rect x="268.48" y="413.62" width="16.59" height="1.67" fill="#eef0d6"/><rect x="285.01" y="413.62" width="16.59" height="1.67" fill="#b4d3e8"/><rect x="301.55" y="413.62" width="16.59" height="1.67" fill="#fae8a4"/><rect x="318.09" y="413.62" width="16.59" height="1.67" fill="#d5e6ea"/><rect x="334.62" y="413.62" width="16.59" height="1.67" fill="#f2f1d0"/><rect x="351.16" y="413.62" width="16.59" height="1.67" fill="#f0f0d4"/><rect x="235.40" y="415.24" width="16.59" height="1.67" fill="#fee090"/><rect x="251.94" y="415.24" width="16.59" height="1.67" fill="#d73027"/><rect x="268.48" y="415.24" width="16.59" height="1.67" fill="#f7f1c2"/><rect x="285.01" y="415.24" width="16.59" height="1.67" fill="#dbeaf0"/><rect x="301.55" y="415.24" width="16.59" height="1.67" fill="#eef0d6"/><rect x="318.09" y="415.24" width="16.59" height="1.67" fill="#f2f1d0"/><rect x="334.62" y="415.24" width="16.59" height="1.67" fill="#d5e6ea"/><rect x="351.16" y="415.24" width="16.59" height="1.67" fill="#f7f1c2"/><rect x="235.40" y="416.86" width="16.59" height="1.67" fill="#fdae61"/><rect x="251.94" y="416.86" width="16.59" height="1.67" fill="#e34a33"/><rect x="268.48" y="416.86" width="16.59" height="1.67" fill="#e3eef0"/><rect x="285.01" y="416.86" width="16.59" height="1.67" fill="#f2f1d0"/><rect x="301.55" y="416.86" width="16.59" height="1.67" fill="#d5e6ea"/><rect x="318.09" y="416.86" width="16.59" height="1.67" fill="#f7f1c2"/><rect x="334.62" y="416.86" width="16.59" height="1.67" fill="#edefd8"/><rect x="351.16" y="416.86" width="16.59" height="1.67" fill="#eef0d6"/><rect x="235.40" y="418.47" width="16.59" height="1.67" fill="#edefd8"/><rect x="251.94" y="418.47" width="16.59" height="1.67" fill="#fdbf6f"/><rect x="268.48" y="418.47" width="16.59" height="1.67" fill="#d73027"/><rect x="285.01" y="418.47" width="16.59" height="1.67" fill="#f7f1c2"/><rect x="301.55" y="418.47" width="16.59" height="1.67" fill="#edefd8"/><rect x="318.09" y="418.47" width="16.59" height="1.67" fill="#eef0d6"/><rect x="334.62" y="418.47" width="16.59" height="1.67" fill="#f0f0d4"/><rect x="351.16" y="418.47" width="16.59" height="1.67" fill="#f0f0d4"/><rect x="235.40" y="420.09" width="16.59" height="1.67" fill="#fbe6a2"/><rect x="251.94" y="420.09" width="16.59" height="1.67" fill="#f0f0d4"/><rect x="268.48" y="420.09" width="16.59" height="1.67" fill="#e34a33"/><rect x="285.01" y="420.09" width="16.59" height="1.67" fill="#f0f0d4"/><rect x="301.55" y="420.09" width="16.59" height="1.67" fill="#f5efbe"/><rect x="318.09" y="420.09" width="16.59" height="1.67" fill="#f7f1c2"/><rect x="334.62" y="420.09" width="16.59" height="1.67" fill="#f2f1d0"/><rect x="351.16" y="420.09" width="16.59" height="1.67" fill="#f0f0d4"/><rect x="235.40" y="421.70" width="16.59" height="1.67" fill="#fbe6a2"/><rect x="251.94" y="421.70" width="16.59" height="1.67" fill="#eef0d6"/><rect x="268.48" y="421.70" width="16.59" height="1.67" fill="#f88e57"/><rect x="285.01" y="421.70" width="16.59" height="1.67" fill="#f5efbe"/><rect x="301.55" y="421.70" width="16.59" height="1.67" fill="#f0f0d4"/><rect x="318.09" y="421.70" width="16.59" height="1.67" fill="#f2f1d0"/><rect x="334.62" y="421.70" width="16.59" height="1.67" fill="#f0f0d4"/><rect x="351.16" y="421.70" width="16.59" height="1.67" fill="#f0f0d4"/><rect x="235.40" y="423.32" width="16.59" height="1.67" fill="#f5efc0"/><rect x="251.94" y="423.32" width="16.59" height="1.67" fill="#d5e6ea"/><rect x="268.48" y="423.32" width="16.59" height="1.67" fill="#f88e57"/><rect x="285.01" y="423.32" width="16.59" height="1.67" fill="#eef0d6"/><rect x="301.55" y="423.32" width="16.59" height="1.67" fill="#edefd8"/><rect x="318.09" y="423.32" width="16.59" height="1.67" fill="#eef0d6"/><rect x="334.62" y="423.32" width="16.59" height="1.67" fill="#d5e6ea"/><rect x="351.16" y="423.32" width="16.59" height="1.67" fill="#f7f1c2"/><rect x="235.40" y="424.94" width="16.59" height="1.67" fill="#f8eab0"/><rect x="251.94" y="424.94" width="16.59" height="1.67" fill="#fdd08a"/><rect x="268.48" y="424.94" width="16.59" height="1.67" fill="#f46d43"/><rect x="285.01" y="424.94" width="16.59" height="1.67" fill="#dde9e4"/><rect x="301.55" y="424.94" width="16.59" height="1.67" fill="#f5efbe"/><rect x="318.09" y="424.94" width="16.59" height="1.67" fill="#fdbf6f"/><rect x="334.62" y="424.94" width="16.59" height="1.67" fill="#edefd8"/><rect x="351.16" y="424.94" width="16.59" height="1.67" fill="#f0f0d4"/><rect x="235.40" y="426.55" width="16.59" height="1.67" fill="#f5efbe"/><rect x="251.94" y="426.55" width="16.59" height="1.67" fill="#f0f0d4"/><rect x="268.48" y="426.55" width="16.59" height="1.67" fill="#dc3a2b"/><rect x="285.01" y="426.55" width="16.59" height="1.67" fill="#edefd8"/><rect x="301.55" y="426.55" width="16.59" height="1.67" fill="#edefd8"/><rect x="318.09" y="426.55" width="16.59" height="1.67" fill="#edefd8"/><rect x="334.62" y="426.55" width="16.59" height="1.67" fill="#fdbf6f"/><rect x="351.16" y="426.55" width="16.59" height="1.67" fill="#eef0d6"/><rect x="235.40" y="428.17" width="16.59" height="1.67" fill="#f8eab0"/><rect x="251.94" y="428.17" width="16.59" height="1.67" fill="#eef0d6"/><rect x="268.48" y="428.17" width="16.59" height="1.67" fill="#d73027"/><rect x="285.01" y="428.17" width="16.59" height="1.67" fill="#fae8a4"/><rect x="301.55" y="428.17" width="16.59" height="1.67" fill="#f2f1d0"/><rect x="318.09" y="428.17" width="16.59" height="1.67" fill="#fdbf6f"/><rect x="334.62" y="428.17" width="16.59" height="1.67" fill="#edefd8"/><rect x="351.16" y="428.17" width="16.59" height="1.67" fill="#d5e6ea"/><rect x="235.40" y="429.78" width="16.59" height="1.67" fill="#d5e6ea"/><rect x="251.94" y="429.78" width="16.59" height="1.67" fill="#f7f1c2"/><rect x="268.48" y="429.78" width="16.59" height="1.67" fill="#dc3a2b"/><rect x="285.01" y="429.78" width="16.59" height="1.67" fill="#edefd8"/><rect x="301.55" y="429.78" width="16.59" height="1.67" fill="#f7f1c2"/><rect x="318.09" y="429.78" width="16.59" height="1.67" fill="#d5e6ea"/><rect x="334.62" y="429.78" width="16.59" height="1.67" fill="#f0f0d4"/><rect x="351.16" y="429.78" width="16.59" height="1.67" fill="#fdd08a"/><rect x="235.40" y="431.40" width="16.59" height="1.67" fill="#dde9e4"/><rect x="251.94" y="431.40" width="16.59" height="1.67" fill="#eef0d6"/><rect x="268.48" y="431.40" width="16.59" height="1.67" fill="#e34a33"/><rect x="285.01" y="431.40" width="16.59" height="1.67" fill="#f0f0d4"/><rect x="301.55" y="431.40" width="16.59" height="1.67" fill="#f0f0d4"/><rect x="318.09" y="431.40" width="16.59" height="1.67" fill="#f2f1d0"/><rect x="334.62" y="431.40" width="16.59" height="1.67" fill="#edefd8"/><rect x="351.16" y="431.40" width="16.59" height="1.67" fill="#edefd8"/><rect x="235.40" y="433.02" width="16.59" height="1.67" fill="#eef0d6"/><rect x="251.94" y="433.02" width="16.59" height="1.67" fill="#f7f1c2"/><rect x="268.48" y="433.02" width="16.59" height="1.67" fill="#e85b3a"/><rect x="285.01" y="433.02" width="16.59" height="1.67" fill="#eef0d6"/><rect x="301.55" y="433.02" width="16.59" height="1.67" fill="#f0f0d4"/><rect x="318.09" y="433.02" width="16.59" height="1.67" fill="#fdbf6f"/><rect x="334.62" y="433.02" width="16.59" height="1.67" fill="#eef0d6"/><rect x="351.16" y="433.02" width="16.59" height="1.67" fill="#f0f0d4"/><rect x="235.40" y="434.63" width="16.59" height="1.67" fill="#fbe6a2"/><rect x="251.94" y="434.63" width="16.59" height="1.67" fill="#f0f0d4"/><rect x="268.48" y="434.63" width="16.59" height="1.67" fill="#dc3a2b"/><rect x="285.01" y="434.63" width="16.59" height="1.67" fill="#f0f0d4"/><rect x="301.55" y="434.63" width="16.59" height="1.67" fill="#f2f1d0"/><rect x="318.09" y="434.63" width="16.59" height="1.67" fill="#f2f1d0"/><rect x="334.62" y="434.63" width="16.59" height="1.67" fill="#edefd8"/><rect x="351.16" y="434.63" width="16.59" height="1.67" fill="#f2f1d0"/><rect x="235.40" y="436.25" width="16.59" height="1.67" fill="#f0f0d4"/><rect x="251.94" y="436.25" width="16.59" height="1.67" fill="#dde9e4"/><rect x="268.48" y="436.25" width="16.59" height="1.67" fill="#dc3a2b"/><rect x="285.01" y="436.25" width="16.59" height="1.67" fill="#d5e6ea"/><rect x="301.55" y="436.25" width="16.59" height="1.67" fill="#f2f1d0"/><rect x="318.09" y="436.25" width="16.59" height="1.67" fill="#eef0d6"/><rect x="334.62" y="436.25" width="16.59" height="1.67" fill="#f0f0d4"/><rect x="351.16" y="436.25" width="16.59" height="1.67" fill="#eef0d6"/><rect x="235.40" y="437.86" width="16.59" height="1.67" fill="#f8eab0"/><rect x="251.94" y="437.86" width="16.59" height="1.67" fill="#f7f1c2"/><rect x="268.48" y="437.86" width="16.59" height="1.67" fill="#d73027"/><rect x="285.01" y="437.86" width="16.59" height="1.67" fill="#fae8a4"/><rect x="301.55" y="437.86" width="16.59" height="1.67" fill="#fae8a4"/><rect x="318.09" y="437.86" width="16.59" height="1.67" fill="#f0f0d4"/><rect x="334.62" y="437.86" width="16.59" height="1.67" fill="#fae8a4"/><rect x="351.16" y="437.86" width="16.59" height="1.67" fill="#f2f1d0"/><rect x="235.40" y="439.48" width="16.59" height="1.67" fill="#eef0d6"/><rect x="251.94" y="439.48" width="16.59" height="1.67" fill="#edefd8"/><rect x="268.48" y="439.48" width="16.59" height="1.67" fill="#f46d43"/><rect x="285.01" y="439.48" width="16.59" height="1.67" fill="#f0f0d4"/><rect x="301.55" y="439.48" width="16.59" height="1.67" fill="#f2f1d0"/><rect x="318.09" y="439.48" width="16.59" height="1.67" fill="#f0f0d4"/><rect x="334.62" y="439.48" width="16.59" height="1.67" fill="#edefd8"/><rect x="351.16" y="439.48" width="16.59" height="1.67" fill="#f0f0d4"/><rect x="235.40" y="441.10" width="16.59" height="1.67" fill="#f5efc0"/><rect x="251.94" y="441.10" width="16.59" height="1.67" fill="#edefd8"/><rect x="268.48" y="441.10" width="16.59" height="1.67" fill="#d73027"/><rect x="285.01" y="441.10" width="16.59" height="1.67" fill="#f0f0d4"/><rect x="301.55" y="441.10" width="16.59" height="1.67" fill="#f0f0d4"/><rect x="318.09" y="441.10" width="16.59" height="1.67" fill="#d5e6ea"/><rect x="334.62" y="441.10" width="16.59" height="1.67" fill="#f0f0d4"/><rect x="351.16" y="441.10" width="16.59" height="1.67" fill="#f2f1d0"/><rect x="235.40" y="442.71" width="16.59" height="1.67" fill="#fbe6a2"/><rect x="251.94" y="442.71" width="16.59" height="1.67" fill="#f2f1d0"/><rect x="268.48" y="442.71" width="16.59" height="1.67" fill="#dc3a2b"/><rect x="285.01" y="442.71" width="16.59" height="1.67" fill="#eef0d6"/><rect x="301.55" y="442.71" width="16.59" height="1.67" fill="#f2f1d0"/><rect x="318.09" y="442.71" width="16.59" height="1.67" fill="#eef0d6"/><rect x="334.62" y="442.71" width="16.59" height="1.67" fill="#eef0d6"/><rect x="351.16" y="442.71" width="16.59" height="1.67" fill="#f0f0d4"/><rect x="235.40" y="444.33" width="16.59" height="1.67" fill="#edefd8"/><rect x="251.94" y="444.33" width="16.59" height="1.67" fill="#eef0d6"/><rect x="268.48" y="444.33" width="16.59" height="1.67" fill="#dc3a2b"/><rect x="285.01" y="444.33" width="16.59" height="1.67" fill="#f5efbe"/><rect x="301.55" y="444.33" width="16.59" height="1.67" fill="#f2f1d0"/><rect x="318.09" y="444.33" width="16.59" height="1.67" fill="#eef0d6"/><rect x="334.62" y="444.33" width="16.59" height="1.67" fill="#edefd8"/><rect x="351.16" y="444.33" width="16.59" height="1.67" fill="#eef0d6"/><rect x="235.40" y="445.94" width="16.59" height="1.67" fill="#fbe6a2"/><rect x="251.94" y="445.94" width="16.59" height="1.67" fill="#f2f1d0"/><rect x="268.48" y="445.94" width="16.59" height="1.67" fill="#d73027"/><rect x="285.01" y="445.94" width="16.59" height="1.67" fill="#fae8a4"/><rect x="301.55" y="445.94" width="16.59" height="1.67" fill="#f2f1d0"/><rect x="318.09" y="445.94" width="16.59" height="1.67" fill="#f0f0d4"/><rect x="334.62" y="445.94" width="16.59" height="1.67" fill="#f0f0d4"/><rect x="351.16" y="445.94" width="16.59" height="1.67" fill="#f0f0d4"/><rect x="235.40" y="447.56" width="16.59" height="1.67" fill="#f0f0d4"/><rect x="251.94" y="447.56" width="16.59" height="1.67" fill="#eef0d6"/><rect x="268.48" y="447.56" width="16.59" height="1.67" fill="#e34a33"/><rect x="285.01" y="447.56" width="16.59" height="1.67" fill="#f2f1d0"/><rect x="301.55" y="447.56" width="16.59" height="1.67" fill="#f2f1d0"/><rect x="318.09" y="447.56" width="16.59" height="1.67" fill="#d5e6ea"/><rect x="334.62" y="447.56" width="16.59" height="1.67" fill="#f2f1d0"/><rect x="351.16" y="447.56" width="16.59" height="1.67" fill="#d5e6ea"/><rect x="235.40" y="449.18" width="16.59" height="1.67" fill="#fbe6a2"/><rect x="251.94" y="449.18" width="16.59" height="1.67" fill="#dde9e4"/><rect x="268.48" y="449.18" width="16.59" height="1.67" fill="#edefd8"/><rect x="285.01" y="449.18" width="16.59" height="1.67" fill="#dc3a2b"/><rect x="301.55" y="449.18" width="16.59" height="1.67" fill="#d5e6ea"/><rect x="318.09" y="449.18" width="16.59" height="1.67" fill="#fdd08a"/><rect x="334.62" y="449.18" width="16.59" height="1.67" fill="#f2f1d0"/><rect x="351.16" y="449.18" width="16.59" height="1.67" fill="#f0f0d4"/><rect x="235.40" y="450.79" width="16.59" height="1.67" fill="#f8eab0"/><rect x="251.94" y="450.79" width="16.59" height="1.67" fill="#f7f1c2"/><rect x="268.48" y="450.79" width="16.59" height="1.67" fill="#d5e6ea"/><rect x="285.01" y="450.79" width="16.59" height="1.67" fill="#d73027"/><rect x="301.55" y="450.79" width="16.59" height="1.67" fill="#edefd8"/><rect x="318.09" y="450.79" width="16.59" height="1.67" fill="#edefd8"/><rect x="334.62" y="450.79" width="16.59" height="1.67" fill="#dde9e4"/><rect x="351.16" y="450.79" width="16.59" height="1.67" fill="#eef0d6"/><rect x="235.40" y="452.41" width="16.59" height="1.67" fill="#f2f1d0"/><rect x="251.94" y="452.41" width="16.59" height="1.67" fill="#f0f0d4"/><rect x="268.48" y="452.41" width="16.59" height="1.67" fill="#f7f1c2"/><rect x="285.01" y="452.41" width="16.59" height="1.67" fill="#f88e57"/><rect x="301.55" y="452.41" width="16.59" height="1.67" fill="#f2f1d0"/><rect x="318.09" y="452.41" width="16.59" height="1.67" fill="#f2f1d0"/><rect x="334.62" y="452.41" width="16.59" height="1.67" fill="#edefd8"/><rect x="351.16" y="452.41" width="16.59" height="1.67" fill="#f0f0d4"/><rect x="235.40" y="454.02" width="16.59" height="1.67" fill="#f5efc0"/><rect x="251.94" y="454.02" width="16.59" height="1.67" fill="#edefd8"/><rect x="268.48" y="454.02" width="16.59" height="1.67" fill="#eef0d6"/><rect x="285.01" y="454.02" width="16.59" height="1.67" fill="#e85b3a"/><rect x="301.55" y="454.02" width="16.59" height="1.67" fill="#d5e6ea"/><rect x="318.09" y="454.02" width="16.59" height="1.67" fill="#fae8a4"/><rect x="334.62" y="454.02" width="16.59" height="1.67" fill="#eef0d6"/><rect x="351.16" y="454.02" width="16.59" height="1.67" fill="#edefd8"/><rect x="235.40" y="455.64" width="16.59" height="1.67" fill="#d5e6ea"/><rect x="251.94" y="455.64" width="16.59" height="1.67" fill="#f0f0d4"/><rect x="268.48" y="455.64" width="16.59" height="1.67" fill="#f7f1c2"/><rect x="285.01" y="455.64" width="16.59" height="1.67" fill="#e34a33"/><rect x="301.55" y="455.64" width="16.59" height="1.67" fill="#edefd8"/><rect x="318.09" y="455.64" width="16.59" height="1.67" fill="#f2f1d0"/><rect x="334.62" y="455.64" width="16.59" height="1.67" fill="#f0f0d4"/><rect x="351.16" y="455.64" width="16.59" height="1.67" fill="#eef0d6"/><rect x="235.40" y="457.26" width="16.59" height="1.67" fill="#f8eab0"/><rect x="251.94" y="457.26" width="16.59" height="1.67" fill="#eef0d6"/><rect x="268.48" y="457.26" width="16.59" height="1.67" fill="#f0f0d4"/><rect x="285.01" y="457.26" width="16.59" height="1.67" fill="#d73027"/><rect x="301.55" y="457.26" width="16.59" height="1.67" fill="#edefd8"/><rect x="318.09" y="457.26" width="16.59" height="1.67" fill="#edefd8"/><rect x="334.62" y="457.26" width="16.59" height="1.67" fill="#edefd8"/><rect x="351.16" y="457.26" width="16.59" height="1.67" fill="#f2f1d0"/><rect x="235.40" y="458.87" width="16.59" height="1.67" fill="#fbe6a2"/><rect x="251.94" y="458.87" width="16.59" height="1.67" fill="#edefd8"/><rect x="268.48" y="458.87" width="16.59" height="1.67" fill="#f2f1d0"/><rect x="285.01" y="458.87" width="16.59" height="1.67" fill="#e34a33"/><rect x="301.55" y="458.87" width="16.59" height="1.67" fill="#fdbf6f"/><rect x="318.09" y="458.87" width="16.59" height="1.67" fill="#eef0d6"/><rect x="334.62" y="458.87" width="16.59" height="1.67" fill="#eef0d6"/><rect x="351.16" y="458.87" width="16.59" height="1.67" fill="#edefd8"/><rect x="235.40" y="460.49" width="16.59" height="1.67" fill="#f8eab0"/><rect x="251.94" y="460.49" width="16.59" height="1.67" fill="#f0f0d4"/><rect x="268.48" y="460.49" width="16.59" height="1.67" fill="#f7f1c2"/><rect x="285.01" y="460.49" width="16.59" height="1.67" fill="#e85b3a"/><rect x="301.55" y="460.49" width="16.59" height="1.67" fill="#f2f1d0"/><rect x="318.09" y="460.49" width="16.59" height="1.67" fill="#f2f1d0"/><rect x="334.62" y="460.49" width="16.59" height="1.67" fill="#f7f1c2"/><rect x="351.16" y="460.49" width="16.59" height="1.67" fill="#edefd8"/><rect x="235.40" y="462.10" width="16.59" height="1.67" fill="#f0f0d4"/><rect x="251.94" y="462.10" width="16.59" height="1.67" fill="#f0f0d4"/><rect x="268.48" y="462.10" width="16.59" height="1.67" fill="#f7f1c2"/><rect x="285.01" y="462.10" width="16.59" height="1.67" fill="#d73027"/><rect x="301.55" y="462.10" width="16.59" height="1.67" fill="#f0f0d4"/><rect x="318.09" y="462.10" width="16.59" height="1.67" fill="#f5efbe"/><rect x="334.62" y="462.10" width="16.59" height="1.67" fill="#edefd8"/><rect x="351.16" y="462.10" width="16.59" height="1.67" fill="#f0f0d4"/><rect x="235.40" y="463.72" width="16.59" height="1.67" fill="#fdd08a"/><rect x="251.94" y="463.72" width="16.59" height="1.67" fill="#eef0d6"/><rect x="268.48" y="463.72" width="16.59" height="1.67" fill="#fdd08a"/><rect x="285.01" y="463.72" width="16.59" height="1.67" fill="#f46d43"/><rect x="301.55" y="463.72" width="16.59" height="1.67" fill="#f2f1d0"/><rect x="318.09" y="463.72" width="16.59" height="1.67" fill="#f5efbe"/><rect x="334.62" y="463.72" width="16.59" height="1.67" fill="#eef0d6"/><rect x="351.16" y="463.72" width="16.59" height="1.67" fill="#f7f1c2"/><rect x="235.40" y="465.34" width="16.59" height="1.67" fill="#f5efc0"/><rect x="251.94" y="465.34" width="16.59" height="1.67" fill="#edefd8"/><rect x="268.48" y="465.34" width="16.59" height="1.67" fill="#f7f1c2"/><rect x="285.01" y="465.34" width="16.59" height="1.67" fill="#eef0d6"/><rect x="301.55" y="465.34" width="16.59" height="1.67" fill="#dc3a2b"/><rect x="318.09" y="465.34" width="16.59" height="1.67" fill="#eef0d6"/><rect x="334.62" y="465.34" width="16.59" height="1.67" fill="#f0f0d4"/><rect x="351.16" y="465.34" width="16.59" height="1.67" fill="#fae8a4"/><rect x="235.40" y="466.95" width="16.59" height="1.67" fill="#eef0d6"/><rect x="251.94" y="466.95" width="16.59" height="1.67" fill="#f2f1d0"/><rect x="268.48" y="466.95" width="16.59" height="1.67" fill="#eef0d6"/><rect x="285.01" y="466.95" width="16.59" height="1.67" fill="#edefd8"/><rect x="301.55" y="466.95" width="16.59" height="1.67" fill="#e85b3a"/><rect x="318.09" y="466.95" width="16.59" height="1.67" fill="#edefd8"/><rect x="334.62" y="466.95" width="16.59" height="1.67" fill="#eef0d6"/><rect x="351.16" y="466.95" width="16.59" height="1.67" fill="#f2f1d0"/><rect x="235.40" y="468.57" width="16.59" height="1.67" fill="#f5efc0"/><rect x="251.94" y="468.57" width="16.59" height="1.67" fill="#eef0d6"/><rect x="268.48" y="468.57" width="16.59" height="1.67" fill="#f0f0d4"/><rect x="285.01" y="468.57" width="16.59" height="1.67" fill="#edefd8"/><rect x="301.55" y="468.57" width="16.59" height="1.67" fill="#d73027"/><rect x="318.09" y="468.57" width="16.59" height="1.67" fill="#eef0d6"/><rect x="334.62" y="468.57" width="16.59" height="1.67" fill="#fdbf6f"/><rect x="351.16" y="468.57" width="16.59" height="1.67" fill="#f0f0d4"/><rect x="235.40" y="470.18" width="16.59" height="1.67" fill="#edefd8"/><rect x="251.94" y="470.18" width="16.59" height="1.67" fill="#f2f1d0"/><rect x="268.48" y="470.18" width="16.59" height="1.67" fill="#f0f0d4"/><rect x="285.01" y="470.18" width="16.59" height="1.67" fill="#f2f1d0"/><rect x="301.55" y="470.18" width="16.59" height="1.67" fill="#d73027"/><rect x="318.09" y="470.18" width="16.59" height="1.67" fill="#f2f1d0"/><rect x="334.62" y="470.18" width="16.59" height="1.67" fill="#edefd8"/><rect x="351.16" y="470.18" width="16.59" height="1.67" fill="#fae8a4"/><rect x="235.40" y="471.80" width="16.59" height="1.67" fill="#f2f1d0"/><rect x="251.94" y="471.80" width="16.59" height="1.67" fill="#eef0d6"/><rect x="268.48" y="471.80" width="16.59" height="1.67" fill="#edefd8"/><rect x="285.01" y="471.80" width="16.59" height="1.67" fill="#f0f0d4"/><rect x="301.55" y="471.80" width="16.59" height="1.67" fill="#d73027"/><rect x="318.09" y="471.80" width="16.59" height="1.67" fill="#dde9e4"/><rect x="334.62" y="471.80" width="16.59" height="1.67" fill="#edefd8"/><rect x="351.16" y="471.80" width="16.59" height="1.67" fill="#f5efbe"/><rect x="235.40" y="473.42" width="16.59" height="1.67" fill="#fbe6a2"/><rect x="251.94" y="473.42" width="16.59" height="1.67" fill="#f0f0d4"/><rect x="268.48" y="473.42" width="16.59" height="1.67" fill="#f0f0d4"/><rect x="285.01" y="473.42" width="16.59" height="1.67" fill="#f0f0d4"/><rect x="301.55" y="473.42" width="16.59" height="1.67" fill="#e85b3a"/><rect x="318.09" y="473.42" width="16.59" height="1.67" fill="#f0f0d4"/><rect x="334.62" y="473.42" width="16.59" height="1.67" fill="#edefd8"/><rect x="351.16" y="473.42" width="16.59" height="1.67" fill="#f5efbe"/><rect x="235.40" y="475.03" width="16.59" height="1.67" fill="#f5efbe"/><rect x="251.94" y="475.03" width="16.59" height="1.67" fill="#eef0d6"/><rect x="268.48" y="475.03" width="16.59" height="1.67" fill="#f0f0d4"/><rect x="285.01" y="475.03" width="16.59" height="1.67" fill="#f0f0d4"/><rect x="301.55" y="475.03" width="16.59" height="1.67" fill="#f88e57"/><rect x="318.09" y="475.03" width="16.59" height="1.67" fill="#eef0d6"/><rect x="334.62" y="475.03" width="16.59" height="1.67" fill="#edefd8"/><rect x="351.16" y="475.03" width="16.59" height="1.67" fill="#d5e6ea"/><rect x="235.40" y="476.65" width="16.59" height="1.67" fill="#f2f1d0"/><rect x="251.94" y="476.65" width="16.59" height="1.67" fill="#f0f0d4"/><rect x="268.48" y="476.65" width="16.59" height="1.67" fill="#edefd8"/><rect x="285.01" y="476.65" width="16.59" height="1.67" fill="#edefd8"/><rect x="301.55" y="476.65" width="16.59" height="1.67" fill="#d73027"/><rect x="318.09" y="476.65" width="16.59" height="1.67" fill="#f2f1d0"/><rect x="334.62" y="476.65" width="16.59" height="1.67" fill="#edefd8"/><rect x="351.16" y="476.65" width="16.59" height="1.67" fill="#f2f1d0"/><rect x="235.40" y="478.26" width="16.59" height="1.67" fill="#f0f0d4"/><rect x="251.94" y="478.26" width="16.59" height="1.67" fill="#edefd8"/><rect x="268.48" y="478.26" width="16.59" height="1.67" fill="#eef0d6"/><rect x="285.01" y="478.26" width="16.59" height="1.67" fill="#edefd8"/><rect x="301.55" y="478.26" width="16.59" height="1.67" fill="#f46d43"/><rect x="318.09" y="478.26" width="16.59" height="1.67" fill="#f5efbe"/><rect x="334.62" y="478.26" width="16.59" height="1.67" fill="#f0f0d4"/><rect x="351.16" y="478.26" width="16.59" height="1.67" fill="#f2f1d0"/><rect x="235.40" y="479.88" width="16.59" height="1.67" fill="#fbe6a2"/><rect x="251.94" y="479.88" width="16.59" height="1.67" fill="#f5efbe"/><rect x="268.48" y="479.88" width="16.59" height="1.67" fill="#dde9e4"/><rect x="285.01" y="479.88" width="16.59" height="1.67" fill="#f0f0d4"/><rect x="301.55" y="479.88" width="16.59" height="1.67" fill="#d73027"/><rect x="318.09" y="479.88" width="16.59" height="1.67" fill="#f2f1d0"/><rect x="334.62" y="479.88" width="16.59" height="1.67" fill="#eef0d6"/><rect x="351.16" y="479.88" width="16.59" height="1.67" fill="#d5e6ea"/><rect x="235.40" y="481.50" width="16.59" height="1.67" fill="#f2f1d0"/><rect x="251.94" y="481.50" width="16.59" height="1.67" fill="#edefd8"/><rect x="268.48" y="481.50" width="16.59" height="1.67" fill="#edefd8"/><rect x="285.01" y="481.50" width="16.59" height="1.67" fill="#eef0d6"/><rect x="301.55" y="481.50" width="16.59" height="1.67" fill="#d73027"/><rect x="318.09" y="481.50" width="16.59" height="1.67" fill="#f0f0d4"/><rect x="334.62" y="481.50" width="16.59" height="1.67" fill="#f5efbe"/><rect x="351.16" y="481.50" width="16.59" height="1.67" fill="#f2f1d0"/><rect x="235.40" y="483.11" width="16.59" height="1.67" fill="#fbe6a2"/><rect x="251.94" y="483.11" width="16.59" height="1.67" fill="#eef0d6"/><rect x="268.48" y="483.11" width="16.59" height="1.67" fill="#f5efbe"/><rect x="285.01" y="483.11" width="16.59" height="1.67" fill="#eef0d6"/><rect x="301.55" y="483.11" width="16.59" height="1.67" fill="#f5efbe"/><rect x="318.09" y="483.11" width="16.59" height="1.67" fill="#e85b3a"/><rect x="334.62" y="483.11" width="16.59" height="1.67" fill="#f2f1d0"/><rect x="351.16" y="483.11" width="16.59" height="1.67" fill="#f7f1c2"/><rect x="235.40" y="484.73" width="16.59" height="1.67" fill="#fbe6a2"/><rect x="251.94" y="484.73" width="16.59" height="1.67" fill="#dde9e4"/><rect x="268.48" y="484.73" width="16.59" height="1.67" fill="#eef0d6"/><rect x="285.01" y="484.73" width="16.59" height="1.67" fill="#f0f0d4"/><rect x="301.55" y="484.73" width="16.59" height="1.67" fill="#f2f1d0"/><rect x="318.09" y="484.73" width="16.59" height="1.67" fill="#d73027"/><rect x="334.62" y="484.73" width="16.59" height="1.67" fill="#eef0d6"/><rect x="351.16" y="484.73" width="16.59" height="1.67" fill="#f0f0d4"/><rect x="235.40" y="486.34" width="16.59" height="1.67" fill="#fbe6a2"/><rect x="251.94" y="486.34" width="16.59" height="1.67" fill="#f0f0d4"/><rect x="268.48" y="486.34" width="16.59" height="1.67" fill="#f2f1d0"/><rect x="285.01" y="486.34" width="16.59" height="1.67" fill="#eef0d6"/><rect x="301.55" y="486.34" width="16.59" height="1.67" fill="#f0f0d4"/><rect x="318.09" y="486.34" width="16.59" height="1.67" fill="#d73027"/><rect x="334.62" y="486.34" width="16.59" height="1.67" fill="#f0f0d4"/><rect x="351.16" y="486.34" width="16.59" height="1.67" fill="#f2f1d0"/><rect x="235.40" y="487.96" width="16.59" height="1.67" fill="#f7f1c2"/><rect x="251.94" y="487.96" width="16.59" height="1.67" fill="#f2f1d0"/><rect x="268.48" y="487.96" width="16.59" height="1.67" fill="#f2f1d0"/><rect x="285.01" y="487.96" width="16.59" height="1.67" fill="#f2f1d0"/><rect x="301.55" y="487.96" width="16.59" height="1.67" fill="#edefd8"/><rect x="318.09" y="487.96" width="16.59" height="1.67" fill="#e85b3a"/><rect x="334.62" y="487.96" width="16.59" height="1.67" fill="#f0f0d4"/><rect x="351.16" y="487.96" width="16.59" height="1.67" fill="#edefd8"/><rect x="235.40" y="489.58" width="16.59" height="1.67" fill="#f0f0d4"/><rect x="251.94" y="489.58" width="16.59" height="1.67" fill="#eef0d6"/><rect x="268.48" y="489.58" width="16.59" height="1.67" fill="#f0f0d4"/><rect x="285.01" y="489.58" width="16.59" height="1.67" fill="#f0f0d4"/><rect x="301.55" y="489.58" width="16.59" height="1.67" fill="#f0f0d4"/><rect x="318.09" y="489.58" width="16.59" height="1.67" fill="#f0f0d4"/><rect x="334.62" y="489.58" width="16.59" height="1.67" fill="#d73027"/><rect x="351.16" y="489.58" width="16.59" height="1.67" fill="#eef0d6"/><rect x="235.40" y="491.19" width="16.59" height="1.67" fill="#f5efc0"/><rect x="251.94" y="491.19" width="16.59" height="1.67" fill="#f2f1d0"/><rect x="268.48" y="491.19" width="16.59" height="1.67" fill="#f2f1d0"/><rect x="285.01" y="491.19" width="16.59" height="1.67" fill="#eef0d6"/><rect x="301.55" y="491.19" width="16.59" height="1.67" fill="#f2f1d0"/><rect x="318.09" y="491.19" width="16.59" height="1.67" fill="#f0f0d4"/><rect x="334.62" y="491.19" width="16.59" height="1.67" fill="#d73027"/><rect x="351.16" y="491.19" width="16.59" height="1.67" fill="#f7f1c2"/><rect x="235.40" y="492.81" width="16.59" height="1.67" fill="#f8eab0"/><rect x="251.94" y="492.81" width="16.59" height="1.67" fill="#eef0d6"/><rect x="268.48" y="492.81" width="16.59" height="1.67" fill="#eef0d6"/><rect x="285.01" y="492.81" width="16.59" height="1.67" fill="#f7f1c2"/><rect x="301.55" y="492.81" width="16.59" height="1.67" fill="#f5efbe"/><rect x="318.09" y="492.81" width="16.59" height="1.67" fill="#f5efbe"/><rect x="334.62" y="492.81" width="16.59" height="1.67" fill="#e85b3a"/><rect x="351.16" y="492.81" width="16.59" height="1.67" fill="#fae8a4"/><rect x="235.40" y="494.42" width="16.59" height="1.67" fill="#edefd8"/><rect x="251.94" y="494.42" width="16.59" height="1.67" fill="#f2f1d0"/><rect x="268.48" y="494.42" width="16.59" height="1.67" fill="#f0f0d4"/><rect x="285.01" y="494.42" width="16.59" height="1.67" fill="#eef0d6"/><rect x="301.55" y="494.42" width="16.59" height="1.67" fill="#f2f1d0"/><rect x="318.09" y="494.42" width="16.59" height="1.67" fill="#edefd8"/><rect x="334.62" y="494.42" width="16.59" height="1.67" fill="#f88e57"/><rect x="351.16" y="494.42" width="16.59" height="1.67" fill="#f5efbe"/><rect x="235.40" y="496.04" width="16.59" height="1.67" fill="#eef0d6"/><rect x="251.94" y="496.04" width="16.59" height="1.67" fill="#f0f0d4"/><rect x="268.48" y="496.04" width="16.59" height="1.67" fill="#eef0d6"/><rect x="285.01" y="496.04" width="16.59" height="1.67" fill="#f0f0d4"/><rect x="301.55" y="496.04" width="16.59" height="1.67" fill="#f7f1c2"/><rect x="318.09" y="496.04" width="16.59" height="1.67" fill="#fae8a4"/><rect x="334.62" y="496.04" width="16.59" height="1.67" fill="#d73027"/><rect x="351.16" y="496.04" width="16.59" height="1.67" fill="#d5e6ea"/><rect x="235.40" y="497.66" width="16.59" height="1.67" fill="#f0f0d4"/><rect x="251.94" y="497.66" width="16.59" height="1.67" fill="#fdbf6f"/><rect x="268.48" y="497.66" width="16.59" height="1.67" fill="#edefd8"/><rect x="285.01" y="497.66" width="16.59" height="1.67" fill="#f2f1d0"/><rect x="301.55" y="497.66" width="16.59" height="1.67" fill="#d5e6ea"/><rect x="318.09" y="497.66" width="16.59" height="1.67" fill="#eef0d6"/><rect x="334.62" y="497.66" width="16.59" height="1.67" fill="#e85b3a"/><rect x="351.16" y="497.66" width="16.59" height="1.67" fill="#f0f0d4"/><rect x="235.40" y="499.27" width="16.59" height="1.67" fill="#edefd8"/><rect x="251.94" y="499.27" width="16.59" height="1.67" fill="#d5e6ea"/><rect x="268.48" y="499.27" width="16.59" height="1.67" fill="#eef0d6"/><rect x="285.01" y="499.27" width="16.59" height="1.67" fill="#eef0d6"/><rect x="301.55" y="499.27" width="16.59" height="1.67" fill="#eef0d6"/><rect x="318.09" y="499.27" width="16.59" height="1.67" fill="#f0f0d4"/><rect x="334.62" y="499.27" width="16.59" height="1.67" fill="#d73027"/><rect x="351.16" y="499.27" width="16.59" height="1.67" fill="#edefd8"/><rect x="235.40" y="500.89" width="16.59" height="1.67" fill="#eef0d6"/><rect x="251.94" y="500.89" width="16.59" height="1.67" fill="#edefd8"/><rect x="268.48" y="500.89" width="16.59" height="1.67" fill="#eef0d6"/><rect x="285.01" y="500.89" width="16.59" height="1.67" fill="#f2f1d0"/><rect x="301.55" y="500.89" width="16.59" height="1.67" fill="#eef0d6"/><rect x="318.09" y="500.89" width="16.59" height="1.67" fill="#f0f0d4"/><rect x="334.62" y="500.89" width="16.59" height="1.67" fill="#dc3a2b"/><rect x="351.16" y="500.89" width="16.59" height="1.67" fill="#f0f0d4"/><rect x="235.40" y="502.50" width="16.59" height="1.67" fill="#f5efc0"/><rect x="251.94" y="502.50" width="16.59" height="1.67" fill="#eef0d6"/><rect x="268.48" y="502.50" width="16.59" height="1.67" fill="#f0f0d4"/><rect x="285.01" y="502.50" width="16.59" height="1.67" fill="#f0f0d4"/><rect x="301.55" y="502.50" width="16.59" height="1.67" fill="#edefd8"/><rect x="318.09" y="502.50" width="16.59" height="1.67" fill="#f0f0d4"/><rect x="334.62" y="502.50" width="16.59" height="1.67" fill="#d73027"/><rect x="351.16" y="502.50" width="16.59" height="1.67" fill="#edefd8"/><rect x="235.40" y="504.12" width="16.59" height="1.67" fill="#f2f1d0"/><rect x="251.94" y="504.12" width="16.59" height="1.67" fill="#edefd8"/><rect x="268.48" y="504.12" width="16.59" height="1.67" fill="#f2f1d0"/><rect x="285.01" y="504.12" width="16.59" height="1.67" fill="#d5e6ea"/><rect x="301.55" y="504.12" width="16.59" height="1.67" fill="#fdbf6f"/><rect x="318.09" y="504.12" width="16.59" height="1.67" fill="#f5efbe"/><rect x="334.62" y="504.12" width="16.59" height="1.67" fill="#fae8a4"/><rect x="351.16" y="504.12" width="16.59" height="1.67" fill="#e85b3a"/><rect x="235.40" y="505.74" width="16.59" height="1.67" fill="#fae8a4"/><rect x="251.94" y="505.74" width="16.59" height="1.67" fill="#edefd8"/><rect x="268.48" y="505.74" width="16.59" height="1.67" fill="#f5efbe"/><rect x="285.01" y="505.74" width="16.59" height="1.67" fill="#fae8a4"/><rect x="301.55" y="505.74" width="16.59" height="1.67" fill="#f0f0d4"/><rect x="318.09" y="505.74" width="16.59" height="1.67" fill="#eef0d6"/><rect x="334.62" y="505.74" width="16.59" height="1.67" fill="#f5efbe"/><rect x="351.16" y="505.74" width="16.59" height="1.67" fill="#d73027"/><rect x="235.40" y="507.35" width="16.59" height="1.67" fill="#f5efc0"/><rect x="251.94" y="507.35" width="16.59" height="1.67" fill="#f0f0d4"/><rect x="268.48" y="507.35" width="16.59" height="1.67" fill="#f2f1d0"/><rect x="285.01" y="507.35" width="16.59" height="1.67" fill="#dde9e4"/><rect x="301.55" y="507.35" width="16.59" height="1.67" fill="#d5e6ea"/><rect x="318.09" y="507.35" width="16.59" height="1.67" fill="#eef0d6"/><rect x="334.62" y="507.35" width="16.59" height="1.67" fill="#eef0d6"/><rect x="351.16" y="507.35" width="16.59" height="1.67" fill="#e85b3a"/><rect x="235.40" y="508.97" width="16.59" height="1.67" fill="#f5efc0"/><rect x="251.94" y="508.97" width="16.59" height="1.67" fill="#f0f0d4"/><rect x="268.48" y="508.97" width="16.59" height="1.67" fill="#f0f0d4"/><rect x="285.01" y="508.97" width="16.59" height="1.67" fill="#edefd8"/><rect x="301.55" y="508.97" width="16.59" height="1.67" fill="#f7f1c2"/><rect x="318.09" y="508.97" width="16.59" height="1.67" fill="#f2f1d0"/><rect x="334.62" y="508.97" width="16.59" height="1.67" fill="#fae8a4"/><rect x="351.16" y="508.97" width="16.59" height="1.67" fill="#e34a33"/><rect x="235.40" y="510.58" width="16.59" height="1.67" fill="#fbe6a2"/><rect x="251.94" y="510.58" width="16.59" height="1.67" fill="#dde9e4"/><rect x="268.48" y="510.58" width="16.59" height="1.67" fill="#fae8a4"/><rect x="285.01" y="510.58" width="16.59" height="1.67" fill="#f0f0d4"/><rect x="301.55" y="510.58" width="16.59" height="1.67" fill="#edefd8"/><rect x="318.09" y="510.58" width="16.59" height="1.67" fill="#edefd8"/><rect x="334.62" y="510.58" width="16.59" height="1.67" fill="#f2f1d0"/><rect x="351.16" y="510.58" width="16.59" height="1.67" fill="#e85b3a"/>
<rect x="301.55" y="350.60" width="16.54" height="1.45" fill="#e34a33"/>
<rect x="318.09" y="355.45" width="16.54" height="1.45" fill="#e85b3a"/>
<rect x="301.55" y="363.53" width="16.54" height="1.45" fill="#e34a33"/>
<rect x="318.09" y="371.61" width="16.54" height="1.45" fill="#e34a33"/>
<rect x="285.01" y="369.99" width="16.54" height="1.45" fill="#e34a33"/>
<rect x="285.01" y="379.69" width="16.54" height="1.45" fill="#e34a33"/>
<rect x="318.09" y="386.15" width="16.54" height="1.45" fill="#e85b3a"/>
<rect x="235.40" y="455.64" width="16.54" height="1.45" fill="#e85b3a"/>
<rect x="235.40" y="473.42" width="16.54" height="1.45" fill="#e85b3a"/>
<rect x="268.48" y="455.64" width="16.54" height="1.45" fill="#f46d43"/>
<rect x="318.09" y="415.24" width="16.54" height="1.45" fill="#e34a33"/>
<rect x="301.55" y="476.65" width="16.54" height="1.45" fill="#e85b3a"/>
<rect x="318.09" y="449.18" width="16.54" height="1.45" fill="#e85b3a"/>
<rect x="334.62" y="434.63" width="16.54" height="1.45" fill="#fdae61"/>
<g stroke="#b8b8a8" stroke-width="0.25" opacity="0.6"><line x1="235.4" y1="353.83" x2="367.7" y2="353.83"/><line x1="235.4" y1="357.06" x2="367.7" y2="357.06"/><line x1="235.4" y1="360.30" x2="367.7" y2="360.30"/><line x1="235.4" y1="363.53" x2="367.7" y2="363.53"/><line x1="235.4" y1="366.76" x2="367.7" y2="366.76"/><line x1="235.4" y1="369.99" x2="367.7" y2="369.99"/><line x1="235.4" y1="373.22" x2="367.7" y2="373.22"/><line x1="235.4" y1="376.46" x2="367.7" y2="376.46"/><line x1="235.4" y1="379.69" x2="367.7" y2="379.69"/><line x1="235.4" y1="382.92" x2="367.7" y2="382.92"/><line x1="235.4" y1="386.15" x2="367.7" y2="386.15"/><line x1="235.4" y1="389.38" x2="367.7" y2="389.38"/><line x1="235.4" y1="392.62" x2="367.7" y2="392.62"/><line x1="235.4" y1="395.85" x2="367.7" y2="395.85"/><line x1="235.4" y1="399.08" x2="367.7" y2="399.08"/><line x1="235.4" y1="402.31" x2="367.7" y2="402.31"/><line x1="235.4" y1="405.54" x2="367.7" y2="405.54"/><line x1="235.4" y1="408.78" x2="367.7" y2="408.78"/><line x1="235.4" y1="412.01" x2="367.7" y2="412.01"/><line x1="235.4" y1="415.24" x2="367.7" y2="415.24"/><line x1="235.4" y1="418.47" x2="367.7" y2="418.47"/><line x1="235.4" y1="421.70" x2="367.7" y2="421.70"/><line x1="235.4" y1="424.94" x2="367.7" y2="424.94"/><line x1="235.4" y1="428.17" x2="367.7" y2="428.17"/><line x1="235.4" y1="431.40" x2="367.7" y2="431.40"/><line x1="235.4" y1="434.63" x2="367.7" y2="434.63"/><line x1="235.4" y1="437.86" x2="367.7" y2="437.86"/><line x1="235.4" y1="441.10" x2="367.7" y2="441.10"/><line x1="235.4" y1="444.33" x2="367.7" y2="444.33"/><line x1="235.4" y1="447.56" x2="367.7" y2="447.56"/><line x1="235.4" y1="450.79" x2="367.7" y2="450.79"/><line x1="235.4" y1="454.02" x2="367.7" y2="454.02"/><line x1="235.4" y1="457.26" x2="367.7" y2="457.26"/><line x1="235.4" y1="460.49" x2="367.7" y2="460.49"/><line x1="235.4" y1="463.72" x2="367.7" y2="463.72"/><line x1="235.4" y1="466.95" x2="367.7" y2="466.95"/><line x1="235.4" y1="470.18" x2="367.7" y2="470.18"/><line x1="235.4" y1="473.42" x2="367.7" y2="473.42"/><line x1="235.4" y1="476.65" x2="367.7" y2="476.65"/><line x1="235.4" y1="479.88" x2="367.7" y2="479.88"/><line x1="235.4" y1="483.11" x2="367.7" y2="483.11"/><line x1="235.4" y1="486.34" x2="367.7" y2="486.34"/><line x1="235.4" y1="489.58" x2="367.7" y2="489.58"/><line x1="235.4" y1="492.81" x2="367.7" y2="492.81"/><line x1="235.4" y1="496.04" x2="367.7" y2="496.04"/><line x1="235.4" y1="499.27" x2="367.7" y2="499.27"/><line x1="235.4" y1="502.50" x2="367.7" y2="502.50"/><line x1="235.4" y1="505.74" x2="367.7" y2="505.74"/><line x1="235.4" y1="508.97" x2="367.7" y2="508.97"/></g>
<g stroke="#8a8a80" stroke-width="0.45"><line x1="251.94" y1="350.6" x2="251.94" y2="512.2"/><line x1="268.48" y1="350.6" x2="268.48" y2="512.2"/><line x1="285.01" y1="350.6" x2="285.01" y2="512.2"/><line x1="301.55" y1="350.6" x2="301.55" y2="512.2"/><line x1="318.09" y1="350.6" x2="318.09" y2="512.2"/><line x1="334.62" y1="350.6" x2="334.62" y2="512.2"/><line x1="351.16" y1="350.6" x2="351.16" y2="512.2"/></g>
<rect x="235.4" y="350.6" width="132.30" height="161.60" fill="none" stroke="#9a9a90" stroke-width="0.4"/>
<g transform="translate(221.80,351.60) scale(1.5688)"><path d="M1.3,2.4 C0.7,3 0.5,4 0.4,5.5 L0.2,8.6 L0.8,8.6 L1.1,5.5Z M4.7,2.4 C5.3,3 5.5,4 5.6,5.5 L5.8,8.6 L5.2,8.6 L4.9,5.5Z" fill="#6e6e6e"/><ellipse cx="3" cy="0.85" rx="0.68" ry="0.9" fill="#3d3d3d"/><path d="M2.4,1.7 L3.6,1.7 C4.5,1.9 4.9,2.3 4.9,3.2 L4.6,6.8 L4.3,11 L4.0,15.3 L4.4,16 L3.2,16 L3.1,11.5 L3.0,9 L2.9,11.5 L2.8,16 L1.6,16 L2.0,15.3 L1.7,11 L1.4,6.8 L1.1,3.2 C1.1,2.3 1.5,1.9 2.4,1.7Z" fill="#3d3d3d"/></g>
<text transform="translate(221.80,455.60) scale(1,1.08)" font-size="6.8" text-anchor="middle" fill="#231f20">Exp.</text>
<text transform="translate(221.80,463.40) scale(1,1.08)" font-size="6.8" text-anchor="middle" fill="#231f20">score</text>
<defs><linearGradient id="fg" x1="0" y1="0" x2="0" y2="1"><stop offset="0" stop-color="#d73027"/><stop offset="0.25" stop-color="#fdae61"/><stop offset="0.5" stop-color="#ffffbf"/><stop offset="0.75" stop-color="#abd9e9"/><stop offset="1" stop-color="#4575b4"/></linearGradient></defs>
<rect x="227.0" y="468.4" width="2.9" height="41.9" fill="url(#fg)"/>
<text transform="translate(223.80,474.90) scale(1,1.08)" font-size="6.8" text-anchor="end" fill="#231f20">2</text>
<text transform="translate(223.80,483.80) scale(1,1.08)" font-size="6.8" text-anchor="end" fill="#231f20">1</text>
<text transform="translate(223.80,491.80) scale(1,1.08)" font-size="6.8" text-anchor="end" fill="#231f20">0</text>
<text transform="translate(223.80,500.00) scale(1,1.08)" font-size="6.8" text-anchor="end" fill="#231f20">-1</text>
<text transform="translate(223.80,508.40) scale(1,1.08)" font-size="6.8" text-anchor="end" fill="#231f20">-2</text>
<text transform="translate(244.30,520.10) rotate(-33) scale(1,1.08)" font-size="9.3" text-anchor="end" fill="#231f20">RG-like</text>
<text transform="translate(263.00,520.10) rotate(-33) scale(1,1.08)" font-size="9.3" text-anchor="end" fill="#231f20">Nprog-like</text>
<text transform="translate(278.20,521.50) rotate(-33) scale(1,1.08)" font-size="9.3" text-anchor="end" fill="#231f20">Nb-like</text>
<text transform="translate(295.70,523.80) rotate(-33) scale(1,1.08)" font-size="9.3" text-anchor="end" fill="#231f20">OPC</text>
<text transform="translate(311.60,523.80) rotate(-33) scale(1,1.08)" font-size="9.3" text-anchor="end" fill="#231f20">PC</text>
<text transform="translate(328.40,524.30) rotate(-33) scale(1,1.08)" font-size="9.3" text-anchor="end" fill="#231f20">EC</text>
<text transform="translate(346.00,525.50) rotate(-33) scale(1,1.08)" font-size="9.3" text-anchor="end" fill="#231f20">MG</text>
<text transform="translate(364.00,524.30) rotate(-33) scale(1,1.08)" font-size="9.3" text-anchor="end" fill="#231f20">Tcell</text>
<text transform="translate(382.10,352.80) scale(1,1.08)" font-size="6.7" font-style="italic" fill="#231f20">HOPX</text>
<text transform="translate(382.10,359.42) scale(1,1.08)" font-size="6.7" font-style="italic" fill="#231f20">ID4</text>
<text transform="translate(382.10,366.04) scale(1,1.08)" font-size="6.7" font-style="italic" fill="#231f20">TTYH1</text>
<text transform="translate(382.10,372.66) scale(1,1.08)" font-size="6.7" font-style="italic" fill="#231f20">FABP7</text>
<text transform="translate(382.10,379.28) scale(1,1.08)" font-size="6.7" font-style="italic" fill="#231f20">PTPRZ1</text>
<text transform="translate(391.20,386.80) scale(1,1.08)" font-size="6.7" font-style="italic" fill="#231f20">HIST1H1D</text>
<text transform="translate(391.20,393.42) scale(1,1.08)" font-size="6.7" font-style="italic" fill="#231f20">HMGB2</text>
<text transform="translate(391.20,400.04) scale(1,1.08)" font-size="6.7" font-style="italic" fill="#231f20">TOP2A</text>
<text transform="translate(391.20,406.66) scale(1,1.08)" font-size="6.7" font-style="italic" fill="#231f20">MKI67</text>
<text transform="translate(391.20,413.28) scale(1,1.08)" font-size="6.7" font-style="italic" fill="#231f20">CENPF</text>
<text transform="translate(418.60,408.80) scale(1,1.08)" font-size="6.7" font-style="italic" fill="#231f20">STMN2</text>
<text transform="translate(418.60,415.42) scale(1,1.08)" font-size="6.7" font-style="italic" fill="#231f20">MEF2C</text>
<text transform="translate(418.60,422.04) scale(1,1.08)" font-size="6.7" font-style="italic" fill="#231f20">SATB2</text>
<text transform="translate(418.60,428.66) scale(1,1.08)" font-size="6.7" font-style="italic" fill="#231f20">MAPT</text>
<text transform="translate(418.60,435.28) scale(1,1.08)" font-size="6.7" font-style="italic" fill="#231f20">NEFM</text>
<text transform="translate(381.30,437.80) scale(1,1.08)" font-size="6.7" font-style="italic" fill="#231f20">BCAS1</text>
<text transform="translate(381.30,444.42) scale(1,1.08)" font-size="6.7" font-style="italic" fill="#231f20">PDGFRA</text>
<text transform="translate(381.30,451.04) scale(1,1.08)" font-size="6.7" font-style="italic" fill="#231f20">OLIG1</text>
<text transform="translate(381.30,457.66) scale(1,1.08)" font-size="6.7" font-style="italic" fill="#231f20">APOD</text>
<text transform="translate(381.30,464.28) scale(1,1.08)" font-size="6.7" font-style="italic" fill="#231f20">BCAM</text>
<text transform="translate(408.90,462.00) scale(1,1.08)" font-size="6.7" font-style="italic" fill="#231f20">COL4A1</text>
<text transform="translate(408.90,468.62) scale(1,1.08)" font-size="6.7" font-style="italic" fill="#231f20">RGS5</text>
<text transform="translate(408.90,475.24) scale(1,1.08)" font-size="6.7" font-style="italic" fill="#231f20">DCN</text>
<text transform="translate(408.90,481.86) scale(1,1.08)" font-size="6.7" font-style="italic" fill="#231f20">FN1</text>
<text transform="translate(408.90,488.48) scale(1,1.08)" font-size="6.7" font-style="italic" fill="#231f20">ITIH5</text>
<text transform="translate(381.30,482.00) scale(1,1.08)" font-size="6.7" font-style="italic" fill="#231f20">CCL3</text>
<text transform="translate(381.30,488.62) scale(1,1.08)" font-size="6.7" font-style="italic" fill="#231f20">SPP1</text>
<text transform="translate(381.30,495.24) scale(1,1.08)" font-size="6.7" font-style="italic" fill="#231f20">CCL3L3</text>
<text transform="translate(381.30,501.86) scale(1,1.08)" font-size="6.7" font-style="italic" fill="#231f20">CCL4</text>
<text transform="translate(381.30,508.48) scale(1,1.08)" font-size="6.7" font-style="italic" fill="#231f20">P2RY12</text>
<text transform="translate(417.20,502.60) scale(1,1.08)" font-size="6.7" font-style="italic" fill="#231f20">CD2</text>
<text transform="translate(417.20,509.22) scale(1,1.08)" font-size="6.7" font-style="italic" fill="#231f20">CD3E</text>
<text transform="translate(417.20,515.84) scale(1,1.08)" font-size="6.7" font-style="italic" fill="#231f20">CD52</text>
<text transform="translate(417.20,522.46) scale(1,1.08)" font-size="6.7" font-style="italic" fill="#231f20">PTPRC</text>
<path d="M371.2,372.2 L376.4,372.2 L376.4,363.6 L378.6,363.6" stroke="#333" stroke-width="0.7" fill="none"/>
<path d="M371.2,397.4 L387.6,397.4" stroke="#333" stroke-width="0.7" fill="none"/>
<path d="M371.2,429.2 L386.2,429.2 L386.2,417.4 L414.6,417.4" stroke="#333" stroke-width="0.7" fill="none"/>
<path d="M371.2,450.6 L374.8,450.6 L374.8,443.2 L378.6,443.2" stroke="#333" stroke-width="0.7" fill="none"/>
<path d="M371.2,467.4 L386.0,467.4 L386.0,471.6 L404.6,471.6" stroke="#333" stroke-width="0.7" fill="none"/>
<path d="M371.2,495.4 L375.4,495.4 L375.4,489.4 L378.6,489.4" stroke="#333" stroke-width="0.7" fill="none"/>
<path d="M371.2,510.8 L412.6,510.8" stroke="#333" stroke-width="0.7" fill="none"/>
<text transform="translate(0.30,549.50) scale(1,1.08)" font-size="9.8" font-weight="bold" fill="#111">G</text>
<text transform="translate(118.00,556.60) scale(1,1.08)" font-size="9.35" text-anchor="middle" fill="#231f20">ETMR cell subpopulations</text>
<rect x="28.3" y="563.5" width="84.4" height="80" fill="#fff" stroke="#7a7a7a" stroke-width="0.8"/>
<rect x="120.6" y="563.5" width="84.8" height="80" fill="#fff" stroke="#7a7a7a" stroke-width="0.8"/>
<path d="M34.15,599.63 C34.13,598.80 34.91,597.33 35.32,596.19 C35.74,595.05 36.12,593.73 36.65,592.80 C37.18,591.88 37.84,591.19 38.51,590.64 C39.19,590.09 40.25,590.36 40.70,589.53 C41.14,588.70 40.75,586.56 41.17,585.64 C41.60,584.73 42.50,584.27 43.25,584.03 C44.00,583.80 45.19,583.90 45.70,584.26 C46.20,584.62 46.13,585.21 46.28,586.20 C46.43,587.19 46.43,589.09 46.60,590.20 C46.77,591.31 47.04,592.21 47.29,592.86 C47.54,593.51 47.60,593.94 48.09,594.08 C48.58,594.22 49.46,593.62 50.22,593.69 C50.97,593.77 52.04,593.92 52.61,594.52 C53.19,595.13 53.19,596.56 53.68,597.30 C54.16,598.04 54.78,598.59 55.54,598.96 C56.29,599.33 57.30,599.15 58.20,599.52 C59.09,599.89 60.51,600.44 60.91,601.18 C61.31,601.92 60.81,603.10 60.59,603.96 C60.38,604.82 60.21,605.19 59.63,606.35 C59.06,607.50 57.64,609.63 57.13,610.90 C56.63,612.16 56.56,612.70 56.60,613.95 C56.65,615.20 56.96,617.09 57.40,618.39 C57.84,619.68 58.42,620.79 59.26,621.72 C60.10,622.64 61.39,623.52 62.45,623.94 C63.52,624.36 64.67,624.12 65.65,624.22 C66.62,624.31 67.60,624.12 68.31,624.49 C69.02,624.86 69.89,625.89 69.90,626.44 C69.91,626.98 69.14,627.45 68.36,627.77 C67.58,628.09 66.36,628.49 65.22,628.38 C64.08,628.27 62.63,627.64 61.50,627.10 C60.36,626.57 59.44,626.02 58.41,625.16 C57.38,624.30 56.36,622.91 55.33,621.94 C54.29,620.97 53.13,620.30 52.19,619.33 C51.25,618.36 50.51,617.30 49.69,616.11 C48.86,614.93 48.17,613.63 47.24,612.23 C46.31,610.82 45.34,608.87 44.10,607.68 C42.86,606.48 41.24,606.15 39.79,605.07 C38.35,603.99 36.37,602.09 35.43,601.18 C34.49,600.28 34.17,600.46 34.15,599.63Z" fill="#ececec"/>
<path d="M55.11,582.09 C56.18,582.09 57.55,582.64 58.30,583.42 C59.06,584.21 59.63,585.68 59.63,586.81 C59.63,587.94 59.06,589.41 58.30,590.20 C57.55,590.98 56.18,591.53 55.11,591.53 C54.05,591.53 52.67,590.98 51.92,590.20 C51.17,589.41 50.59,587.94 50.59,586.81 C50.59,585.68 51.17,584.21 51.92,583.42 C52.67,582.64 54.05,582.09 55.11,582.09Z" fill="#ececec"/>
<path d="M61.39,581.76 C61.79,580.83 62.72,580.65 63.52,580.65 C64.32,580.65 65.38,581.20 66.18,581.76 C66.98,582.31 67.77,583.05 68.31,583.98 C68.84,584.90 69.10,585.83 69.37,587.31 C69.64,588.79 69.81,591.01 69.90,592.86 C69.99,594.71 70.08,596.74 69.90,598.41 C69.73,600.07 69.46,601.92 68.84,602.85 C68.22,603.77 67.07,604.14 66.18,603.96 C65.29,603.77 64.23,602.85 63.52,601.74 C62.81,600.63 62.28,598.96 61.92,597.30 C61.57,595.63 61.52,593.60 61.39,591.75 C61.26,589.90 61.12,587.86 61.12,586.20 C61.12,584.53 60.99,582.68 61.39,581.76Z" fill="#ececec"/>
<path d="M68.57,579.26 C68.92,578.44 69.96,577.02 70.65,576.43 C71.33,575.84 71.99,575.65 72.67,575.71 C73.34,575.77 74.13,576.17 74.69,576.76 C75.25,577.36 75.58,578.97 76.02,579.26 C76.46,579.56 77.01,579.07 77.35,578.54 C77.69,578.01 77.98,577.15 78.04,576.10 C78.10,575.04 77.78,573.33 77.72,572.21 C77.67,571.09 77.44,570.03 77.72,569.38 C78.01,568.74 78.87,568.33 79.43,568.33 C79.98,568.33 80.68,568.74 81.07,569.38 C81.46,570.03 81.43,571.63 81.77,572.21 C82.10,572.80 82.59,572.65 83.10,572.88 C83.60,573.11 84.23,573.13 84.80,573.60 C85.37,574.07 85.83,575.36 86.50,575.71 C87.17,576.06 88.05,575.53 88.84,575.71 C89.63,575.89 90.72,576.29 91.24,576.76 C91.75,577.24 92.04,577.95 91.93,578.54 C91.81,579.13 91.16,579.72 90.54,580.32 C89.92,580.91 88.99,581.44 88.20,582.09 C87.41,582.74 86.55,583.50 85.81,584.20 C85.07,584.90 84.35,585.49 83.79,586.31 C83.23,587.13 82.63,588.21 82.46,589.14 C82.29,590.08 82.61,591.09 82.78,591.92 C82.95,592.74 83.69,593.37 83.47,594.08 C83.25,594.79 82.24,595.55 81.45,596.19 C80.66,596.83 79.75,597.68 78.73,597.91 C77.71,598.14 76.23,597.98 75.33,597.58 C74.42,597.17 73.75,596.29 73.31,595.47 C72.86,594.64 72.61,593.46 72.67,592.64 C72.73,591.81 73.79,591.11 73.68,590.53 C73.56,589.95 72.43,589.84 71.98,589.14 C71.53,588.44 71.37,587.25 70.97,586.31 C70.57,585.37 69.98,584.30 69.58,583.48 C69.18,582.66 68.74,582.07 68.57,581.37 C68.40,580.67 68.23,580.09 68.57,579.26Z" fill="#ececec"/>
<path d="M46.49,590.08 C46.49,588.70 48.80,587.12 49.69,587.31 C50.57,587.49 50.66,590.45 51.81,591.19 C52.97,591.93 55.01,592.03 56.60,591.75 C58.20,591.47 60.42,588.88 61.39,589.53 C62.37,590.18 62.45,593.41 62.45,595.63 C62.45,597.85 61.92,600.54 61.39,602.85 C60.86,605.16 59.97,607.84 59.26,609.51 C58.55,611.17 57.13,611.54 57.13,612.84 C57.13,614.13 58.20,616.91 59.26,617.28 C60.33,617.65 62.45,614.32 63.52,615.06 C64.58,615.80 65.82,620.33 65.65,621.72 C65.47,623.11 63.87,623.85 62.45,623.38 C61.04,622.92 58.38,620.70 57.13,618.94 C55.89,617.19 55.18,614.87 55.01,612.84 C54.83,610.80 56.25,608.68 56.07,606.73 C55.89,604.79 55.01,603.03 53.94,601.18 C52.88,599.33 50.93,597.48 49.69,595.63 C48.45,593.78 46.49,591.47 46.49,590.08Z" fill="#f3f3f3"/>
<path d="M62.45,601.74 C62.45,600.44 65.11,599.89 67.24,599.52 C69.37,599.15 72.56,599.52 75.22,599.52 C77.88,599.52 81.43,598.96 83.20,599.52 C84.98,600.07 87.19,601.92 85.86,602.85 C84.53,603.77 78.33,604.33 75.22,605.07 C72.12,605.81 69.37,607.84 67.24,607.29 C65.11,606.73 62.45,603.03 62.45,601.74Z" fill="#f0f0f0"/>
<circle cx="98.8" cy="580.3" r="1.8" fill="#ececec"/>
<path d="M64.58,572.05 C64.98,571.61 66.41,571.52 67.24,571.66 C68.08,571.80 69.27,572.31 69.58,572.88 C69.89,573.45 69.58,574.69 69.10,575.10 C68.63,575.51 67.42,575.46 66.71,575.32 C66.00,575.18 65.20,574.81 64.85,574.27 C64.49,573.72 64.18,572.48 64.58,572.05Z" fill="#ececec"/>
<path d="M71.29,639.26 C71.51,638.72 72.99,636.58 74.00,635.71 C75.01,634.83 76.39,634.27 77.35,633.99 C78.31,633.70 79.51,633.70 79.74,633.99 C79.97,634.27 79.47,635.18 78.73,635.71 C78.00,636.23 76.34,636.61 75.33,637.15 C74.32,637.68 73.34,638.57 72.67,638.92 C71.99,639.28 71.06,639.79 71.29,639.26Z" fill="#f0f0f0"/>
<path d="M66.40,609.70 C66.62,608.20 67.12,606.75 68.30,605.90 C69.48,605.05 71.78,605.03 73.50,604.60 C75.22,604.17 77.32,603.83 78.60,603.30 C79.88,602.77 79.90,601.83 81.20,601.40 C82.50,600.97 84.90,601.03 86.40,600.70 C87.90,600.37 89.13,599.72 90.20,599.40 C91.27,599.08 91.28,598.58 92.80,598.80 C94.32,599.02 97.37,600.17 99.30,600.70 C101.23,601.23 103.33,601.13 104.40,602.00 C105.47,602.87 105.70,603.97 105.70,605.90 C105.70,607.83 105.05,611.23 104.40,613.60 C103.75,615.97 103.08,618.17 101.80,620.10 C100.52,622.03 98.63,623.80 96.70,625.20 C94.77,626.60 92.35,627.85 90.20,628.50 C88.05,629.15 85.73,629.43 83.80,629.10 C81.87,628.77 80.32,627.37 78.60,626.50 C76.88,625.63 75.00,625.18 73.50,623.90 C72.00,622.62 70.68,620.30 69.60,618.80 C68.52,617.30 67.53,616.42 67.00,614.90 C66.47,613.38 66.18,611.20 66.40,609.70Z" fill="#63b62f"/>
<path d="M82.5 615.2h0M73.3 605.6h0M75.2 616.0h0M90.7 602.2h0M85.1 604.6h0M76.6 606.3h0M91.9 626.7h0M93.1 624.8h0M79.4 623.0h0M69.3 606.4h0M86.2 609.8h0M94.0 615.8h0M102.3 603.2h0M93.8 617.2h0M72.8 617.6h0M74.5 604.7h0M69.4 615.8h0M76.2 607.1h0M78.2 622.2h0M92.3 604.0h0M85.3 618.2h0M97.9 607.9h0M66.8 609.3h0M69.3 610.4h0M95.1 618.2h0M101.3 617.1h0M105.4 605.3h0M96.8 602.8h0M76.4 607.1h0M93.8 599.6h0M70.6 607.2h0M87.3 605.2h0M68.0 607.1h0M94.0 599.2h0M103.8 608.1h0M97.6 610.6h0M73.3 612.5h0M92.8 627.0h0M86.6 628.2h0M90.4 600.2h0M103.0 614.3h0" stroke="#4fa325" stroke-width="0.80" stroke-linecap="round"/>
<path d="M72.6 614.4h0M93.7 610.3h0M96.5 619.1h0M89.5 607.0h0M70.6 617.7h0M67.8 610.5h0M98.3 610.0h0M88.5 611.1h0M96.3 619.3h0M77.6 607.9h0M78.3 625.5h0M92.2 601.1h0M82.0 609.3h0M80.8 602.2h0M95.6 619.6h0M79.0 616.8h0M101.6 619.9h0M85.6 607.4h0M93.5 625.4h0M80.0 609.8h0M79.1 620.3h0M88.3 624.0h0M70.8 615.2h0M91.2 616.3h0M88.4 600.4h0M79.9 617.6h0M83.0 620.0h0M78.9 609.0h0M100.9 610.6h0M80.8 624.3h0M87.4 604.9h0M88.7 603.2h0M88.0 614.6h0M91.7 612.7h0M98.5 609.4h0M77.6 614.7h0M72.4 620.8h0M97.7 616.8h0M77.6 619.7h0M73.1 612.6h0M104.3 605.1h0" stroke="#7cc24a" stroke-width="0.80" stroke-linecap="round"/>
<path d="M93.1 620.3h0M94.4 621.1h0M91.2 616.7h0M72.3 613.4h0M93.3 609.3h0M96.0 618.4h0M79.8 624.2h0M91.6 624.1h0M77.2 619.7h0M86.5 625.0h0M96.7 607.2h0M86.2 625.0h0M76.2 605.8h0M97.9 610.4h0M71.1 610.7h0M82.2 607.3h0M70.8 619.7h0M96.8 605.2h0M83.8 627.5h0M89.6 607.7h0M75.1 615.9h0M97.7 613.3h0M68.5 615.5h0M102.8 616.7h0M87.3 602.2h0M76.1 604.6h0M91.3 615.1h0M96.4 620.4h0M95.2 607.5h0M85.7 606.0h0M82.7 613.1h0M75.8 624.3h0M88.0 610.9h0M101.6 613.9h0M72.6 613.7h0M84.8 612.4h0M93.1 604.6h0M77.9 610.6h0" stroke="#58ad2a" stroke-width="0.80" stroke-linecap="round"/>
<path d="M91.50,593.00 C91.93,591.72 92.80,589.97 94.10,589.10 C95.40,588.23 97.58,587.58 99.30,587.80 C101.02,588.02 103.17,589.12 104.40,590.40 C105.63,591.68 106.43,593.78 106.70,595.50 C106.97,597.22 106.60,599.40 106.00,600.70 C105.40,602.00 104.43,603.30 103.10,603.30 C101.77,603.30 99.72,601.35 98.00,600.70 C96.28,600.05 93.88,600.05 92.80,599.40 C91.72,598.75 91.72,597.87 91.50,596.80 C91.28,595.73 91.07,594.28 91.50,593.00Z" fill="#b3a21c"/>
<path d="M65.10,622.60 C65.32,621.10 66.25,618.57 67.00,617.50 C67.75,616.43 68.85,615.98 69.60,616.20 C70.35,616.42 71.28,617.52 71.50,618.80 C71.72,620.08 71.43,622.50 70.90,623.90 C70.37,625.30 69.17,626.77 68.30,627.20 C67.43,627.63 66.23,627.27 65.70,626.50 C65.17,625.73 64.88,624.10 65.10,622.60Z" fill="#d957a8"/>
<g transform="translate(32.80,569.70) scale(1.0350,1.1385)"><path d="M16.34,5.65 C17.3,5.9 18.2,6.2 18.6,6.48 C19.2,6.9 19.6,7.3 19.54,7.81 C19.6,8.5 19.4,9.0 19.06,9.27 C18.5,9.6 17.8,9.7 17.03,9.62 C15.7,9.5 14.5,9.0 13.2,8.79 C12,8.6 10.8,8.6 9.71,8.58" fill="none" stroke="#2e2e2e" stroke-width="0.53"/><path d="M9.8,8.2 C10.8,8.0 12,7.9 13.6,7.95" fill="none" stroke="#aaa" stroke-width="0.48"/><path d="M0.3,2.93 C0.8,2.2 1.2,1.9 1.7,1.71 C2.6,1.2 3.4,0.6 3.96,0.31 C4.4,0.05 4.8,0.0 5.01,0.07 C5.4,0.3 5.6,0.7 5.7,1.01 C6.2,1.2 6.7,1.2 7.27,1.19 C8.2,1.0 9.1,1.0 10.06,1.01 C11.1,1.1 12,1.3 12.85,1.53 C13.7,1.9 14.4,2.4 14.94,2.93 C15.5,3.4 15.9,3.9 16.16,4.32 C16.4,4.7 16.55,5 16.51,5.3 C16.4,5.8 16.1,6.3 15.64,6.48 C15.1,6.8 14.6,6.9 14.07,7.04 L12.85,7.18 C11.5,7.0 10,6.6 8.67,6.48 C7.8,6.4 6.8,6.35 6.05,6.35 L5.36,6.48 L4.48,7.53 L3.09,7.67 L3.44,7.04 L4.21,6.07 C3.5,5.4 3,4.8 2.39,4.5 C1.8,4.2 1.2,4.0 0.82,3.8 C0.5,3.6 0.2,3.2 0.3,2.93Z" fill="#2e2e2e"/></g>
<path d="M152.28,570.45 C152.43,570.88 152.90,571.96 153.21,573.00 C153.52,574.04 153.87,575.47 154.14,576.70 C154.41,577.94 154.61,579.17 154.84,580.41 C155.07,581.64 155.23,582.95 155.54,584.11 C155.85,585.27 156.24,586.35 156.71,587.35 C157.17,588.35 157.83,589.24 158.34,590.13 C158.84,591.02 159.23,591.79 159.73,592.68 C160.24,593.56 161.09,594.99 161.37,595.45" fill="none" stroke="#e8e8e4" stroke-width="1.2"/>
<path d="M167.89,572.07 C168.16,571.45 168.67,570.91 169.29,570.68 C169.91,570.45 171.04,570.30 171.62,570.68 C172.20,571.07 172.55,572.00 172.78,573.00 C173.02,574.00 172.82,575.70 173.02,576.70 C173.21,577.71 173.83,578.17 173.95,579.02 C174.06,579.87 174.03,581.18 173.71,581.80 C173.40,582.41 172.67,582.61 172.08,582.72 C171.50,582.84 170.76,582.80 170.22,582.49 C169.68,582.18 169.13,581.68 168.82,580.87 C168.51,580.06 168.55,578.71 168.36,577.63 C168.16,576.55 167.73,575.31 167.66,574.39 C167.58,573.46 167.62,572.69 167.89,572.07Z" fill="#ebeae6"/>
<path d="M165.09,576.70 C165.48,576.24 166.38,575.78 166.96,575.78 C167.54,575.78 168.24,576.16 168.59,576.70 C168.94,577.24 169.17,578.25 169.05,579.02 C168.94,579.79 168.39,580.83 167.89,581.33 C167.38,581.83 166.53,582.18 166.03,582.03 C165.52,581.87 165.09,580.98 164.86,580.41 C164.63,579.83 164.59,579.17 164.63,578.55 C164.67,577.94 164.71,577.17 165.09,576.70Z" fill="#ebeae6"/>
<path d="M175.81,581.80 C175.89,581.43 176.67,581.23 177.21,581.10 C177.75,580.97 178.58,580.85 179.07,581.01 C179.57,581.16 180.19,581.66 180.19,582.03 C180.19,582.39 179.65,582.98 179.07,583.18 C178.50,583.39 177.29,583.51 176.74,583.28 C176.20,583.05 175.73,582.16 175.81,581.80Z" fill="#ebeae6"/>
<path d="M170.7,583.0 L175.8,583.0" stroke="#ebeae6" stroke-width="0.8"/>
<defs><clipPath id="g2c"><path d="M161.61,596.83 C161.96,596.57 162.52,596.45 162.95,596.71 C163.38,596.97 163.78,597.76 164.17,598.40 C164.55,599.05 164.88,599.85 165.26,600.58 C165.65,601.30 165.49,602.25 166.48,602.75 C167.47,603.26 169.38,603.60 171.23,603.60 C173.07,603.60 175.71,603.02 177.55,602.75 C179.40,602.49 180.60,602.03 182.30,602.03 C184.00,602.03 186.48,602.11 187.78,602.75 C189.08,603.40 189.48,604.73 190.09,605.90 C190.70,607.07 191.02,608.20 191.43,609.77 C191.83,611.34 192.42,613.37 192.52,615.33 C192.63,617.28 192.44,619.68 192.04,621.50 C191.63,623.31 191.19,624.90 190.09,626.21 C188.99,627.52 187.29,628.57 185.47,629.36 C183.64,630.14 181.25,630.40 179.14,630.93 C177.03,631.45 174.65,632.06 172.81,632.50 C170.96,632.94 169.50,633.06 168.06,633.59 C166.62,634.11 165.20,634.86 164.17,635.64 C163.13,636.43 162.99,637.78 161.86,638.30 C160.72,638.83 158.41,639.11 157.35,638.79 C156.30,638.47 155.63,637.30 155.53,636.37 C155.43,635.44 156.89,634.07 156.74,633.23 C156.60,632.38 156.20,631.73 154.67,631.29 C153.15,630.85 150.09,630.89 147.62,630.57 C145.14,630.24 142.18,629.94 139.83,629.36 C137.47,628.77 135.28,628.11 133.50,627.06 C131.71,626.01 130.03,624.50 129.12,623.07 C128.20,621.64 128.14,620.03 128.02,618.47 C127.90,616.92 127.88,615.21 128.39,613.76 C128.89,612.31 129.68,610.94 131.06,609.77 C132.44,608.60 134.43,607.45 136.66,606.74 C138.89,606.04 141.83,605.80 144.45,605.53 C147.07,605.27 149.66,606.04 152.36,605.17 C155.06,604.31 159.22,601.48 160.64,600.34 C162.06,599.19 160.72,598.86 160.88,598.28 C161.04,597.70 161.27,597.09 161.61,596.83Z"/></clipPath></defs>
<g clip-path="url(#g2c)">
<rect x="120" y="590" width="42" height="55" fill="#5fb52e"/>
<rect x="162" y="590" width="49" height="55" fill="#9a951a"/>
<defs><radialGradient id="gw" cx="0.5" cy="0.5" r="0.5"><stop offset="0" stop-color="#fff" stop-opacity="1"/><stop offset="0.55" stop-color="#fff" stop-opacity="0.9"/><stop offset="1" stop-color="#fff" stop-opacity="0"/></radialGradient></defs>
<ellipse cx="166.5" cy="618" rx="8" ry="15" fill="url(#gw)"/>
<path d="M157.70,597.00 C158.28,595.87 159.95,595.28 161.00,595.20 C162.05,595.12 162.83,595.53 164.00,596.50 C165.17,597.47 167.33,599.42 168.00,601.00 C168.67,602.58 168.67,605.00 168.00,606.00 C167.33,607.00 165.33,607.00 164.00,607.00 C162.67,607.00 161.08,606.83 160.00,606.00 C158.92,605.17 157.88,603.50 157.50,602.00 C157.12,600.50 157.12,598.13 157.70,597.00Z" fill="#d957a8"/>
<path d="M143.50,606.50 C143.83,605.45 146.28,605.37 148.00,605.20 C149.72,605.03 152.80,604.70 153.80,605.50 C154.80,606.30 154.63,608.87 154.00,610.00 C153.37,611.13 151.33,612.05 150.00,612.30 C148.67,612.55 147.08,612.47 146.00,611.50 C144.92,610.53 143.17,607.55 143.50,606.50Z" fill="#d957a8"/>
<path d="M159.00,606.00 C159.83,605.00 162.33,604.33 163.00,606.00 C163.67,607.67 163.50,614.00 163.00,616.00 C162.50,618.00 160.83,618.67 160.00,618.00 C159.17,617.33 158.17,614.00 158.00,612.00 C157.83,610.00 158.17,607.00 159.00,606.00Z" fill="#d957a8" opacity="0.5"/>
</g>
<path d="M165.7 610.0h0M166.6 608.0h0M161.8 619.3h0M173.0 625.9h0M161.1 613.4h0M161.5 607.7h0M166.1 621.2h0M162.0 615.9h0M174.8 622.3h0M169.8 623.5h0M169.0 606.6h0M163.3 613.4h0M170.2 614.7h0M161.2 621.4h0M173.9 610.5h0M173.5 612.5h0M171.8 611.7h0M171.0 609.6h0M163.2 609.9h0M170.0 605.7h0M168.2 620.2h0M172.3 615.6h0M162.7 622.4h0M169.6 617.3h0M164.3 610.7h0M169.3 614.8h0M172.0 622.0h0M161.5 616.2h0M163.5 608.7h0M164.4 610.4h0M171.4 620.4h0M163.3 626.7h0M162.2 621.0h0M169.3 618.5h0M168.8 621.9h0M162.8 608.7h0M161.3 621.1h0M165.6 613.1h0M165.2 608.4h0M171.6 624.1h0M168.6 608.2h0M174.9 611.9h0M173.9 614.8h0M166.3 609.8h0M167.6 618.6h0M173.9 625.2h0M173.5 617.5h0M170.3 611.5h0M167.3 623.1h0M172.0 628.8h0M161.9 610.6h0M165.3 604.2h0M163.0 611.3h0M162.8 615.9h0M165.2 626.0h0M162.2 606.5h0M162.3 615.3h0M168.1 611.5h0M167.7 627.4h0M171.2 621.4h0M173.9 619.4h0M163.4 606.6h0M160.3 615.5h0M174.5 614.4h0M173.4 611.5h0M163.0 613.0h0M160.5 612.5h0" stroke="#9a951a" stroke-width="0.80" stroke-linecap="round"/>
<path d="M173.5 614.0h0M174.7 612.3h0M173.2 621.0h0M168.3 616.9h0M160.6 621.3h0M163.2 614.4h0M169.2 625.6h0M172.0 612.4h0M160.4 625.4h0M165.8 608.8h0M160.3 612.1h0M165.8 605.7h0M170.0 623.6h0M161.0 604.4h0M173.4 627.8h0M167.9 628.3h0M167.3 610.6h0M172.0 604.7h0M167.8 609.0h0M164.2 610.5h0M164.1 606.4h0M165.6 628.7h0M161.3 621.7h0M166.8 615.2h0M165.8 616.2h0M174.2 620.5h0M161.3 627.3h0M174.2 607.8h0M165.2 616.5h0M171.7 620.2h0M172.9 628.6h0M162.9 628.9h0M160.5 623.6h0" stroke="#5fb52e" stroke-width="0.80" stroke-linecap="round"/>
<path d="M168.3 614.0h0M171.7 621.2h0M169.8 620.1h0M161.9 621.4h0M160.8 612.3h0M169.1 608.7h0M164.5 607.8h0M172.9 610.0h0M166.4 623.4h0M162.6 625.0h0M170.8 621.7h0M164.9 609.9h0M173.4 625.4h0M166.2 629.3h0M174.1 625.5h0M169.2 630.0h0M168.7 615.1h0M161.0 618.0h0M167.7 608.7h0M162.6 608.1h0M173.5 612.1h0M162.9 627.5h0M173.1 618.2h0M160.9 619.9h0M162.6 614.9h0M172.9 620.2h0M169.5 615.9h0M168.3 623.0h0M172.2 628.9h0M173.4 608.0h0M171.1 619.3h0M167.9 608.2h0M161.2 605.9h0M171.7 620.8h0M161.3 608.2h0M163.8 609.7h0M163.5 613.0h0M174.7 609.6h0M162.3 620.6h0M170.5 626.5h0" stroke="#d957a8" stroke-width="0.80" stroke-linecap="round"/>
<g transform="translate(126.80,570.00) scale(1.5562)"><path d="M1.3,2.4 C0.7,3 0.5,4 0.4,5.5 L0.2,8.6 L0.8,8.6 L1.1,5.5Z M4.7,2.4 C5.3,3 5.5,4 5.6,5.5 L5.8,8.6 L5.2,8.6 L4.9,5.5Z" fill="#6e6e6e"/><ellipse cx="3" cy="0.85" rx="0.68" ry="0.9" fill="#3d3d3d"/><path d="M2.4,1.7 L3.6,1.7 C4.5,1.9 4.9,2.3 4.9,3.2 L4.6,6.8 L4.3,11 L4.0,15.3 L4.4,16 L3.2,16 L3.1,11.5 L3.0,9 L2.9,11.5 L2.8,16 L1.6,16 L2.0,15.3 L1.7,11 L1.4,6.8 L1.1,3.2 C1.1,2.3 1.5,1.9 2.4,1.7Z" fill="#3d3d3d"/></g>
<circle cx="219.9" cy="582.4" r="4.3" fill="#d957a8"/>
<text transform="translate(226.40,586.30) scale(1,1.08)" font-size="9.3" fill="#231f20">RG-like</text>
<circle cx="219.9" cy="594.7" r="4.3" fill="#5fb52e"/>
<text transform="translate(226.40,598.60) scale(1,1.08)" font-size="9.3" fill="#231f20">NProg-like</text>
<circle cx="219.9" cy="607.1" r="4.3" fill="#a8a01a"/>
<text transform="translate(226.40,611.00) scale(1,1.08)" font-size="9.3" fill="#231f20">Nb-like</text>
<path d="M23.1,637.8 L23.1,648.3 L33.8,648.3" fill="none" stroke="#000" stroke-width="0.9"/>
<path d="M23.1,632.8 L21.3,638.3 L24.900000000000002,638.3Z" fill="#000"/>
<path d="M38.8,648.3 L33.3,646.5 L33.3,650.0999999999999Z" fill="#000"/>
<text transform="translate(463.00,338.80) scale(1,1.08)" font-size="10.3" font-weight="bold" fill="#111">H</text>
<text transform="translate(570.80,339.40) scale(1,1.08)" font-size="9.35" text-anchor="middle" fill="#231f20">Relative cellular composition</text>
<circle cx="540.4" cy="382.5" r="20.4" fill="#c1a40e"/>
<path d="M540.4,382.5 L540.40,362.10 A20.4,20.4 0 0 1 549.66,364.32Z" fill="#cb78b8"/>
<path d="M540.4,382.5 L549.66,364.32 A20.4,20.4 0 0 1 560.16,377.43Z" fill="#68b53a"/>
<path d="M540.4,382.5 L560.16,377.43 A20.4,20.4 0 1 1 540.40,362.10Z" fill="#c1a40e"/>
<circle cx="539.3" cy="440.3" r="20.5" fill="#68b53a"/>
<path d="M539.3,440.3 L539.30,419.80 A20.5,20.5 0 0 1 547.44,421.49Z" fill="#cb78b8"/>
<path d="M539.3,440.3 L547.44,421.49 A20.5,20.5 0 1 1 520.01,433.36Z" fill="#68b53a"/>
<path d="M539.3,440.3 L520.01,433.36 A20.5,20.5 0 0 1 539.30,419.80Z" fill="#c1a40e"/>
<circle cx="539.3" cy="490.4" r="20.6" fill="#68b53a"/>
<path d="M539.3,490.4 L539.30,469.80 A20.6,20.6 0 0 1 548.65,472.05Z" fill="#cb78b8"/>
<path d="M539.3,490.4 L548.65,472.05 A20.6,20.6 0 1 1 526.67,506.68Z" fill="#68b53a"/>
<path d="M539.3,490.4 L526.67,506.68 A20.6,20.6 0 0 1 539.30,469.80Z" fill="#c1a40e"/>
<text transform="translate(566.40,405.70) scale(1,1.08)" font-size="9.3" fill="#231f20">n = 2</text>
<text transform="translate(566.40,462.40) scale(1,1.08)" font-size="9.3" fill="#231f20">n = 2</text>
<text transform="translate(566.40,513.00) scale(1,1.08)" font-size="9.3" fill="#231f20">n = 9</text>
<path d="M609.3,358.2 L619.5,358.2 L619.5,405.4 L609.3,405.4" fill="none" stroke="#555" stroke-width="0.8"/>
<path d="M609.3,414.8 L619.5,414.8 L619.5,512.8 L609.3,512.8" fill="none" stroke="#555" stroke-width="0.8"/>
<text transform="translate(628.60,363.90) scale(1,1.08)" font-size="9.3" fill="#231f20">mFB</text>
<text transform="translate(628.60,444.90) scale(1,1.08)" font-size="9.3" fill="#231f20">ETMR</text>
<circle cx="633.2" cy="373.3" r="4.1" fill="#cb78b8"/>
<text transform="translate(638.60,376.70) scale(1,1.08)" font-size="9.3" fill="#231f20">RG</text>
<circle cx="633.2" cy="386.8" r="4.1" fill="#68b53a"/>
<text transform="translate(638.60,390.20) scale(1,1.08)" font-size="9.3" fill="#231f20">NProg</text>
<circle cx="633.2" cy="400.3" r="4.1" fill="#c1a40e"/>
<text transform="translate(638.60,403.70) scale(1,1.08)" font-size="9.3" fill="#231f20">Nb</text>
<circle cx="633.2" cy="456.0" r="4.1" fill="#cb78b8"/>
<text transform="translate(638.60,459.40) scale(1,1.08)" font-size="9.3" fill="#231f20">RG-like</text>
<circle cx="633.2" cy="469.5" r="4.1" fill="#68b53a"/>
<text transform="translate(638.60,472.90) scale(1,1.08)" font-size="9.3" fill="#231f20">NProg-like</text>
<circle cx="633.2" cy="482.7" r="4.1" fill="#c1a40e"/>
<text transform="translate(638.60,486.10) scale(1,1.08)" font-size="9.3" fill="#231f20">Nb-like</text>
<text transform="translate(481.2,382.4) rotate(-90) scale(1,1.08)" font-size="9.3" text-anchor="middle" fill="#231f20">non-malignant</text>
<text transform="translate(491.8,382.4) rotate(-90) scale(1,1.08)" font-size="9.3" text-anchor="middle" fill="#231f20">neuronal</text>
<text transform="translate(481.2,466.8) rotate(-90) scale(1,1.08)" font-size="9.3" text-anchor="middle" fill="#231f20">malignant</text>
<g transform="translate(496.30,376.90) scale(1.0150,1.1165)"><path d="M16.34,5.65 C17.3,5.9 18.2,6.2 18.6,6.48 C19.2,6.9 19.6,7.3 19.54,7.81 C19.6,8.5 19.4,9.0 19.06,9.27 C18.5,9.6 17.8,9.7 17.03,9.62 C15.7,9.5 14.5,9.0 13.2,8.79 C12,8.6 10.8,8.6 9.71,8.58" fill="none" stroke="#2e2e2e" stroke-width="0.54"/><path d="M9.8,8.2 C10.8,8.0 12,7.9 13.6,7.95" fill="none" stroke="#aaa" stroke-width="0.49"/><path d="M0.3,2.93 C0.8,2.2 1.2,1.9 1.7,1.71 C2.6,1.2 3.4,0.6 3.96,0.31 C4.4,0.05 4.8,0.0 5.01,0.07 C5.4,0.3 5.6,0.7 5.7,1.01 C6.2,1.2 6.7,1.2 7.27,1.19 C8.2,1.0 9.1,1.0 10.06,1.01 C11.1,1.1 12,1.3 12.85,1.53 C13.7,1.9 14.4,2.4 14.94,2.93 C15.5,3.4 15.9,3.9 16.16,4.32 C16.4,4.7 16.55,5 16.51,5.3 C16.4,5.8 16.1,6.3 15.64,6.48 C15.1,6.8 14.6,6.9 14.07,7.04 L12.85,7.18 C11.5,7.0 10,6.6 8.67,6.48 C7.8,6.4 6.8,6.35 6.05,6.35 L5.36,6.48 L4.48,7.53 L3.09,7.67 L3.44,7.04 L4.21,6.07 C3.5,5.4 3,4.8 2.39,4.5 C1.8,4.2 1.2,4.0 0.82,3.8 C0.5,3.6 0.2,3.2 0.3,2.93Z" fill="#2e2e2e"/></g>
<g transform="translate(496.30,430.00) scale(1.0150,1.1165)"><path d="M16.34,5.65 C17.3,5.9 18.2,6.2 18.6,6.48 C19.2,6.9 19.6,7.3 19.54,7.81 C19.6,8.5 19.4,9.0 19.06,9.27 C18.5,9.6 17.8,9.7 17.03,9.62 C15.7,9.5 14.5,9.0 13.2,8.79 C12,8.6 10.8,8.6 9.71,8.58" fill="none" stroke="#2e2e2e" stroke-width="0.54"/><path d="M9.8,8.2 C10.8,8.0 12,7.9 13.6,7.95" fill="none" stroke="#aaa" stroke-width="0.49"/><path d="M0.3,2.93 C0.8,2.2 1.2,1.9 1.7,1.71 C2.6,1.2 3.4,0.6 3.96,0.31 C4.4,0.05 4.8,0.0 5.01,0.07 C5.4,0.3 5.6,0.7 5.7,1.01 C6.2,1.2 6.7,1.2 7.27,1.19 C8.2,1.0 9.1,1.0 10.06,1.01 C11.1,1.1 12,1.3 12.85,1.53 C13.7,1.9 14.4,2.4 14.94,2.93 C15.5,3.4 15.9,3.9 16.16,4.32 C16.4,4.7 16.55,5 16.51,5.3 C16.4,5.8 16.1,6.3 15.64,6.48 C15.1,6.8 14.6,6.9 14.07,7.04 L12.85,7.18 C11.5,7.0 10,6.6 8.67,6.48 C7.8,6.4 6.8,6.35 6.05,6.35 L5.36,6.48 L4.48,7.53 L3.09,7.67 L3.44,7.04 L4.21,6.07 C3.5,5.4 3,4.8 2.39,4.5 C1.8,4.2 1.2,4.0 0.82,3.8 C0.5,3.6 0.2,3.2 0.3,2.93Z" fill="#2e2e2e"/></g>
<g transform="translate(502.50,473.90) scale(1.4812)"><path d="M1.3,2.4 C0.7,3 0.5,4 0.4,5.5 L0.2,8.6 L0.8,8.6 L1.1,5.5Z M4.7,2.4 C5.3,3 5.5,4 5.6,5.5 L5.8,8.6 L5.2,8.6 L4.9,5.5Z" fill="#6e6e6e"/><ellipse cx="3" cy="0.85" rx="0.68" ry="0.9" fill="#3d3d3d"/><path d="M2.4,1.7 L3.6,1.7 C4.5,1.9 4.9,2.3 4.9,3.2 L4.6,6.8 L4.3,11 L4.0,15.3 L4.4,16 L3.2,16 L3.1,11.5 L3.0,9 L2.9,11.5 L2.8,16 L1.6,16 L2.0,15.3 L1.7,11 L1.4,6.8 L1.1,3.2 C1.1,2.3 1.5,1.9 2.4,1.7Z" fill="#3d3d3d"/></g></svg></body></html>
